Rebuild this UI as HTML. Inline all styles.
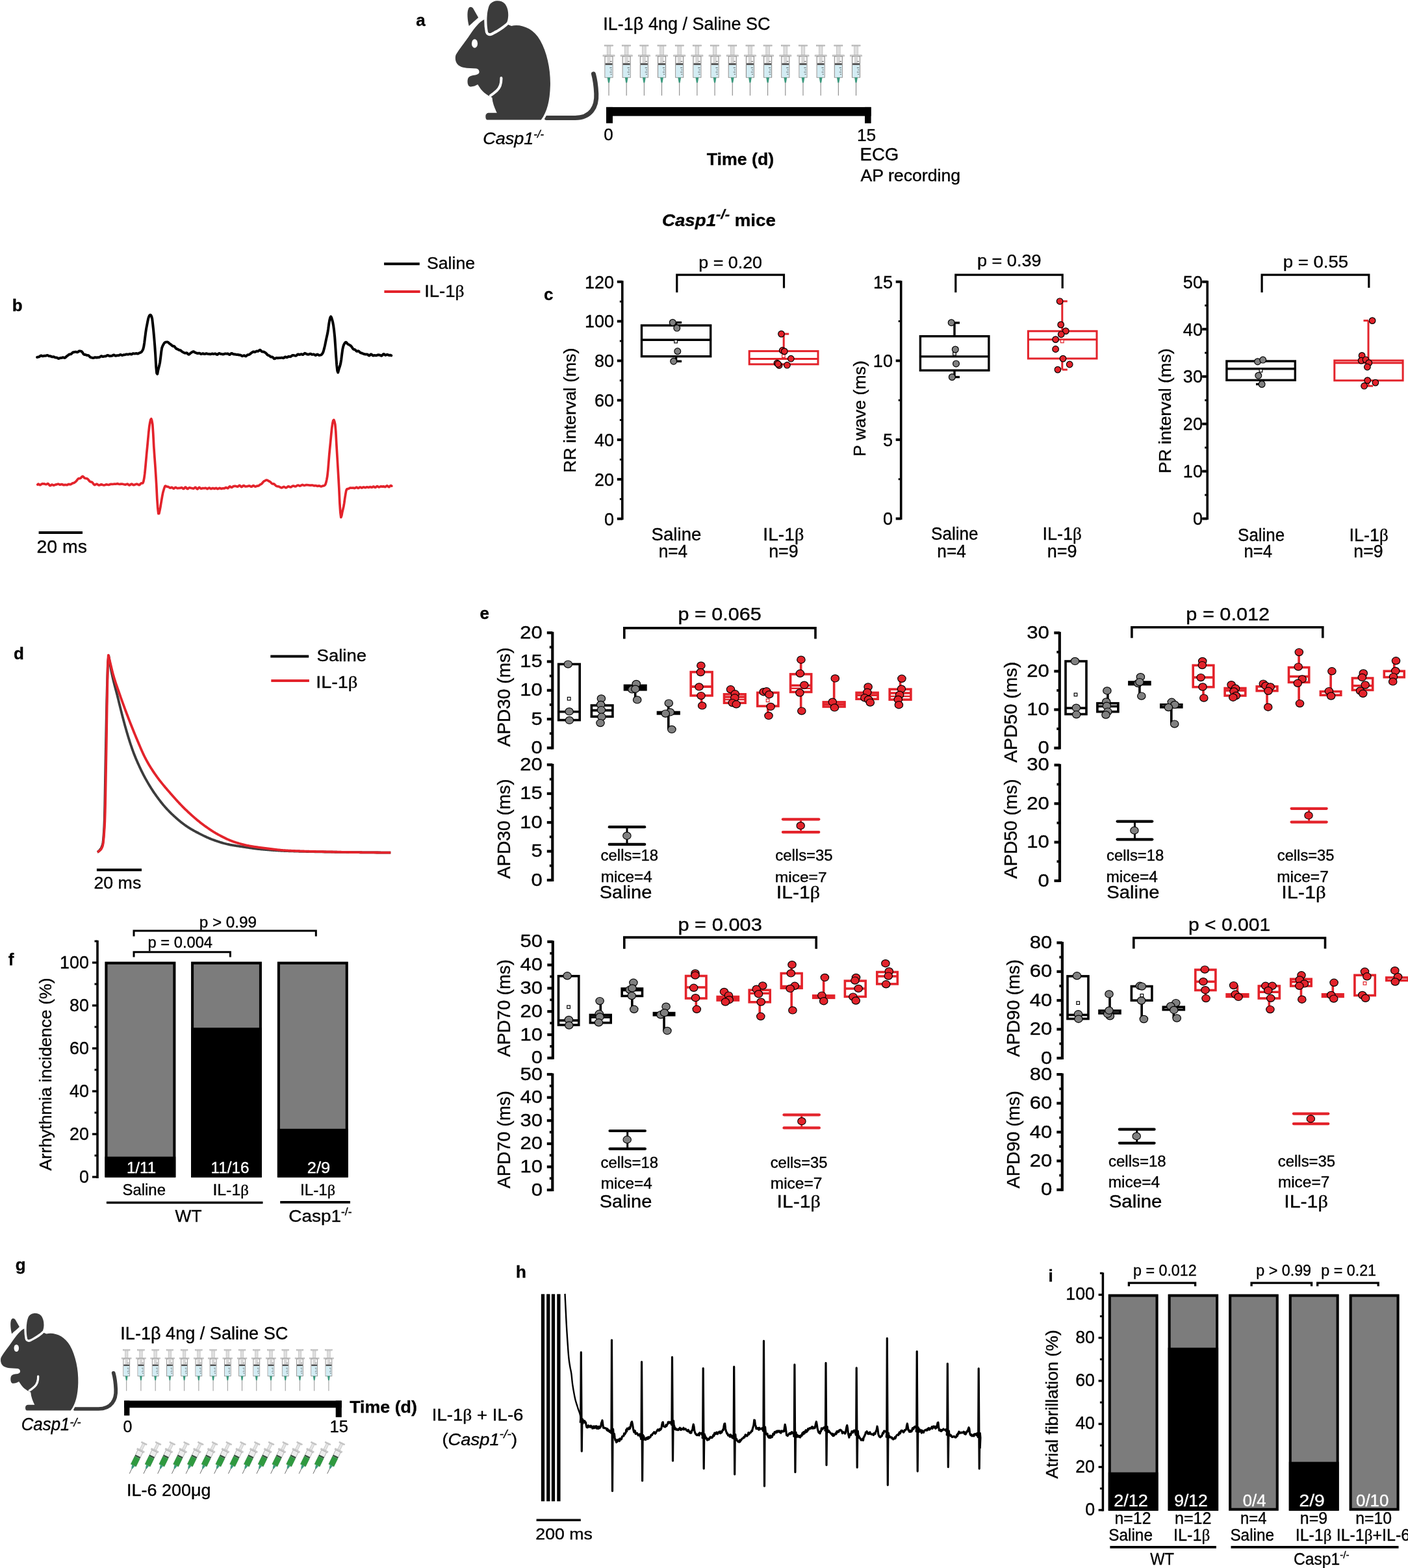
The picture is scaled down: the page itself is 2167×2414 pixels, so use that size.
<!DOCTYPE html>
<html><head><meta charset="utf-8"><title>Figure</title>
<style>html,body{margin:0;padding:0;background:#fff;} svg{display:block;}</style></head>
<body><svg width="2167" height="2414" viewBox="0 0 2167 2414">
<rect width="2167" height="2414" fill="#fff"/>
<text transform="translate(640.34,40.10)" font-family='"Liberation Sans", Arial, Helvetica, sans-serif' font-size="26.00" font-weight="bold" font-style="normal" fill="#000" stroke="#000" stroke-width="0.35"><tspan font-size="26.00">a</tspan></text>
<g transform="translate(699.60,-13.20) scale(0.13451)"><path d="M1052,1447 L1380,1447 C1560,1447 1630,1320 1622,1170 C1618,1080 1605,1000 1590,945" fill="none" stroke="#3b3b3b" stroke-width="52" stroke-linecap="round"/><path d="M12,735 C30,690 120,580 180,490 C230,420 280,350 340,322 L420,300 L650,395 C760,370 900,420 980,560 C1060,700 1100,900 1095,1080 C1090,1250 1060,1380 990,1470 L380,1470 C360,1470 355,1450 355,1430 C355,1405 370,1390 395,1390 L485,1390 C460,1340 435,1280 430,1215 C400,1200 370,1185 340,1160 C310,1135 290,1105 265,1065 C240,1080 210,1092 180,1090 C150,1085 145,1040 150,1010 C155,975 185,962 225,958 C255,955 280,945 282,925 C284,905 275,888 250,882 L140,876 C80,870 30,850 15,800 C8,780 8,755 12,735 Z" fill="#3b3b3b" stroke="#fff" stroke-width="50" paint-order="stroke"/><path d="M382,462 C366,380 362,240 398,160 C428,100 525,88 575,140 C622,195 622,300 600,350 C565,392 470,448 420,474 C400,483 386,476 382,462 Z" fill="#3b3b3b" stroke="#fff" stroke-width="62" paint-order="stroke"/><path d="M165,395 C148,330 140,240 158,198 C172,170 200,175 215,198 L272,298 C240,330 195,365 165,395 Z" fill="#3b3b3b" stroke="#fff" stroke-width="58" paint-order="stroke"/><path d="M534,990 C536,1045 522,1100 484,1135 C462,1155 442,1172 412,1192" fill="none" stroke="#fff" stroke-width="30" stroke-linecap="round"/><ellipse cx="230" cy="596" rx="34" ry="50" fill="#fff"/></g>
<text transform="translate(743.21,221.80) scale(1.0398,1)" font-family='"Liberation Sans", Arial, Helvetica, sans-serif' font-size="26.00" font-weight="normal" font-style="italic" fill="#000" stroke="#000" stroke-width="0.35"><tspan font-size="26.00">Casp1</tspan><tspan font-size="16.12" dy="-10.00">-/-</tspan></text>
<text transform="translate(928.31,46.20) scale(0.9718,1)" font-family='"Liberation Sans", Arial, Helvetica, sans-serif' font-size="27.80" font-weight="normal" font-style="normal" fill="#000" stroke="#000" stroke-width="0.35"><tspan font-size="27.80">IL-1β 4ng / Saline SC</tspan></text>
<g transform="translate(937.00,69.2)"><rect x="-6.5" y="0" width="13" height="1.8" fill="#d2d2d2" stroke="#a0a0a0" stroke-width="0.6"/><rect x="-2.8" y="1.8" width="5.6" height="14" fill="#dedede" stroke="#ababab" stroke-width="0.6"/><rect x="-9" y="15.6" width="18" height="2" fill="#d6d6d6" stroke="#a0a0a0" stroke-width="0.6"/><rect x="-6" y="17.6" width="12" height="32.4" fill="#f6f6f6" stroke="#8e8e8e" stroke-width="1.1"/><rect x="-2.6" y="17.6" width="5.2" height="10.5" fill="#d6d6d6"/><rect x="-5.4" y="28.1" width="10.8" height="3.0" fill="#505050"/><rect x="-5.4" y="31.1" width="10.8" height="18.4" fill="#d3ecf3"/><path d="M2,25.3 H4.6 M1.4,35.2 H4.6 M2.6,38.5 H4.6 M1.4,41.8 H4.6 M2.6,45.1 H4.6" stroke="#555" stroke-width="0.9"/><path d="M-2.4,50 L2.4,50 L1.0,58.2 L-1.0,58.2 Z" fill="#3b9a7e"/><line x1="0" y1="58.2" x2="0" y2="78" stroke="#6e6e6e" stroke-width="0.9"/></g>
<g transform="translate(964.18,69.2)"><rect x="-6.5" y="0" width="13" height="1.8" fill="#d2d2d2" stroke="#a0a0a0" stroke-width="0.6"/><rect x="-2.8" y="1.8" width="5.6" height="14" fill="#dedede" stroke="#ababab" stroke-width="0.6"/><rect x="-9" y="15.6" width="18" height="2" fill="#d6d6d6" stroke="#a0a0a0" stroke-width="0.6"/><rect x="-6" y="17.6" width="12" height="32.4" fill="#f6f6f6" stroke="#8e8e8e" stroke-width="1.1"/><rect x="-2.6" y="17.6" width="5.2" height="10.5" fill="#d6d6d6"/><rect x="-5.4" y="28.1" width="10.8" height="3.0" fill="#505050"/><rect x="-5.4" y="31.1" width="10.8" height="18.4" fill="#d3ecf3"/><path d="M2,25.3 H4.6 M1.4,35.2 H4.6 M2.6,38.5 H4.6 M1.4,41.8 H4.6 M2.6,45.1 H4.6" stroke="#555" stroke-width="0.9"/><path d="M-2.4,50 L2.4,50 L1.0,58.2 L-1.0,58.2 Z" fill="#3b9a7e"/><line x1="0" y1="58.2" x2="0" y2="78" stroke="#6e6e6e" stroke-width="0.9"/></g>
<g transform="translate(991.36,69.2)"><rect x="-6.5" y="0" width="13" height="1.8" fill="#d2d2d2" stroke="#a0a0a0" stroke-width="0.6"/><rect x="-2.8" y="1.8" width="5.6" height="14" fill="#dedede" stroke="#ababab" stroke-width="0.6"/><rect x="-9" y="15.6" width="18" height="2" fill="#d6d6d6" stroke="#a0a0a0" stroke-width="0.6"/><rect x="-6" y="17.6" width="12" height="32.4" fill="#f6f6f6" stroke="#8e8e8e" stroke-width="1.1"/><rect x="-2.6" y="17.6" width="5.2" height="10.5" fill="#d6d6d6"/><rect x="-5.4" y="28.1" width="10.8" height="3.0" fill="#505050"/><rect x="-5.4" y="31.1" width="10.8" height="18.4" fill="#d3ecf3"/><path d="M2,25.3 H4.6 M1.4,35.2 H4.6 M2.6,38.5 H4.6 M1.4,41.8 H4.6 M2.6,45.1 H4.6" stroke="#555" stroke-width="0.9"/><path d="M-2.4,50 L2.4,50 L1.0,58.2 L-1.0,58.2 Z" fill="#3b9a7e"/><line x1="0" y1="58.2" x2="0" y2="78" stroke="#6e6e6e" stroke-width="0.9"/></g>
<g transform="translate(1018.54,69.2)"><rect x="-6.5" y="0" width="13" height="1.8" fill="#d2d2d2" stroke="#a0a0a0" stroke-width="0.6"/><rect x="-2.8" y="1.8" width="5.6" height="14" fill="#dedede" stroke="#ababab" stroke-width="0.6"/><rect x="-9" y="15.6" width="18" height="2" fill="#d6d6d6" stroke="#a0a0a0" stroke-width="0.6"/><rect x="-6" y="17.6" width="12" height="32.4" fill="#f6f6f6" stroke="#8e8e8e" stroke-width="1.1"/><rect x="-2.6" y="17.6" width="5.2" height="10.5" fill="#d6d6d6"/><rect x="-5.4" y="28.1" width="10.8" height="3.0" fill="#505050"/><rect x="-5.4" y="31.1" width="10.8" height="18.4" fill="#d3ecf3"/><path d="M2,25.3 H4.6 M1.4,35.2 H4.6 M2.6,38.5 H4.6 M1.4,41.8 H4.6 M2.6,45.1 H4.6" stroke="#555" stroke-width="0.9"/><path d="M-2.4,50 L2.4,50 L1.0,58.2 L-1.0,58.2 Z" fill="#3b9a7e"/><line x1="0" y1="58.2" x2="0" y2="78" stroke="#6e6e6e" stroke-width="0.9"/></g>
<g transform="translate(1045.72,69.2)"><rect x="-6.5" y="0" width="13" height="1.8" fill="#d2d2d2" stroke="#a0a0a0" stroke-width="0.6"/><rect x="-2.8" y="1.8" width="5.6" height="14" fill="#dedede" stroke="#ababab" stroke-width="0.6"/><rect x="-9" y="15.6" width="18" height="2" fill="#d6d6d6" stroke="#a0a0a0" stroke-width="0.6"/><rect x="-6" y="17.6" width="12" height="32.4" fill="#f6f6f6" stroke="#8e8e8e" stroke-width="1.1"/><rect x="-2.6" y="17.6" width="5.2" height="10.5" fill="#d6d6d6"/><rect x="-5.4" y="28.1" width="10.8" height="3.0" fill="#505050"/><rect x="-5.4" y="31.1" width="10.8" height="18.4" fill="#d3ecf3"/><path d="M2,25.3 H4.6 M1.4,35.2 H4.6 M2.6,38.5 H4.6 M1.4,41.8 H4.6 M2.6,45.1 H4.6" stroke="#555" stroke-width="0.9"/><path d="M-2.4,50 L2.4,50 L1.0,58.2 L-1.0,58.2 Z" fill="#3b9a7e"/><line x1="0" y1="58.2" x2="0" y2="78" stroke="#6e6e6e" stroke-width="0.9"/></g>
<g transform="translate(1072.90,69.2)"><rect x="-6.5" y="0" width="13" height="1.8" fill="#d2d2d2" stroke="#a0a0a0" stroke-width="0.6"/><rect x="-2.8" y="1.8" width="5.6" height="14" fill="#dedede" stroke="#ababab" stroke-width="0.6"/><rect x="-9" y="15.6" width="18" height="2" fill="#d6d6d6" stroke="#a0a0a0" stroke-width="0.6"/><rect x="-6" y="17.6" width="12" height="32.4" fill="#f6f6f6" stroke="#8e8e8e" stroke-width="1.1"/><rect x="-2.6" y="17.6" width="5.2" height="10.5" fill="#d6d6d6"/><rect x="-5.4" y="28.1" width="10.8" height="3.0" fill="#505050"/><rect x="-5.4" y="31.1" width="10.8" height="18.4" fill="#d3ecf3"/><path d="M2,25.3 H4.6 M1.4,35.2 H4.6 M2.6,38.5 H4.6 M1.4,41.8 H4.6 M2.6,45.1 H4.6" stroke="#555" stroke-width="0.9"/><path d="M-2.4,50 L2.4,50 L1.0,58.2 L-1.0,58.2 Z" fill="#3b9a7e"/><line x1="0" y1="58.2" x2="0" y2="78" stroke="#6e6e6e" stroke-width="0.9"/></g>
<g transform="translate(1100.08,69.2)"><rect x="-6.5" y="0" width="13" height="1.8" fill="#d2d2d2" stroke="#a0a0a0" stroke-width="0.6"/><rect x="-2.8" y="1.8" width="5.6" height="14" fill="#dedede" stroke="#ababab" stroke-width="0.6"/><rect x="-9" y="15.6" width="18" height="2" fill="#d6d6d6" stroke="#a0a0a0" stroke-width="0.6"/><rect x="-6" y="17.6" width="12" height="32.4" fill="#f6f6f6" stroke="#8e8e8e" stroke-width="1.1"/><rect x="-2.6" y="17.6" width="5.2" height="10.5" fill="#d6d6d6"/><rect x="-5.4" y="28.1" width="10.8" height="3.0" fill="#505050"/><rect x="-5.4" y="31.1" width="10.8" height="18.4" fill="#d3ecf3"/><path d="M2,25.3 H4.6 M1.4,35.2 H4.6 M2.6,38.5 H4.6 M1.4,41.8 H4.6 M2.6,45.1 H4.6" stroke="#555" stroke-width="0.9"/><path d="M-2.4,50 L2.4,50 L1.0,58.2 L-1.0,58.2 Z" fill="#3b9a7e"/><line x1="0" y1="58.2" x2="0" y2="78" stroke="#6e6e6e" stroke-width="0.9"/></g>
<g transform="translate(1127.26,69.2)"><rect x="-6.5" y="0" width="13" height="1.8" fill="#d2d2d2" stroke="#a0a0a0" stroke-width="0.6"/><rect x="-2.8" y="1.8" width="5.6" height="14" fill="#dedede" stroke="#ababab" stroke-width="0.6"/><rect x="-9" y="15.6" width="18" height="2" fill="#d6d6d6" stroke="#a0a0a0" stroke-width="0.6"/><rect x="-6" y="17.6" width="12" height="32.4" fill="#f6f6f6" stroke="#8e8e8e" stroke-width="1.1"/><rect x="-2.6" y="17.6" width="5.2" height="10.5" fill="#d6d6d6"/><rect x="-5.4" y="28.1" width="10.8" height="3.0" fill="#505050"/><rect x="-5.4" y="31.1" width="10.8" height="18.4" fill="#d3ecf3"/><path d="M2,25.3 H4.6 M1.4,35.2 H4.6 M2.6,38.5 H4.6 M1.4,41.8 H4.6 M2.6,45.1 H4.6" stroke="#555" stroke-width="0.9"/><path d="M-2.4,50 L2.4,50 L1.0,58.2 L-1.0,58.2 Z" fill="#3b9a7e"/><line x1="0" y1="58.2" x2="0" y2="78" stroke="#6e6e6e" stroke-width="0.9"/></g>
<g transform="translate(1154.44,69.2)"><rect x="-6.5" y="0" width="13" height="1.8" fill="#d2d2d2" stroke="#a0a0a0" stroke-width="0.6"/><rect x="-2.8" y="1.8" width="5.6" height="14" fill="#dedede" stroke="#ababab" stroke-width="0.6"/><rect x="-9" y="15.6" width="18" height="2" fill="#d6d6d6" stroke="#a0a0a0" stroke-width="0.6"/><rect x="-6" y="17.6" width="12" height="32.4" fill="#f6f6f6" stroke="#8e8e8e" stroke-width="1.1"/><rect x="-2.6" y="17.6" width="5.2" height="10.5" fill="#d6d6d6"/><rect x="-5.4" y="28.1" width="10.8" height="3.0" fill="#505050"/><rect x="-5.4" y="31.1" width="10.8" height="18.4" fill="#d3ecf3"/><path d="M2,25.3 H4.6 M1.4,35.2 H4.6 M2.6,38.5 H4.6 M1.4,41.8 H4.6 M2.6,45.1 H4.6" stroke="#555" stroke-width="0.9"/><path d="M-2.4,50 L2.4,50 L1.0,58.2 L-1.0,58.2 Z" fill="#3b9a7e"/><line x1="0" y1="58.2" x2="0" y2="78" stroke="#6e6e6e" stroke-width="0.9"/></g>
<g transform="translate(1181.62,69.2)"><rect x="-6.5" y="0" width="13" height="1.8" fill="#d2d2d2" stroke="#a0a0a0" stroke-width="0.6"/><rect x="-2.8" y="1.8" width="5.6" height="14" fill="#dedede" stroke="#ababab" stroke-width="0.6"/><rect x="-9" y="15.6" width="18" height="2" fill="#d6d6d6" stroke="#a0a0a0" stroke-width="0.6"/><rect x="-6" y="17.6" width="12" height="32.4" fill="#f6f6f6" stroke="#8e8e8e" stroke-width="1.1"/><rect x="-2.6" y="17.6" width="5.2" height="10.5" fill="#d6d6d6"/><rect x="-5.4" y="28.1" width="10.8" height="3.0" fill="#505050"/><rect x="-5.4" y="31.1" width="10.8" height="18.4" fill="#d3ecf3"/><path d="M2,25.3 H4.6 M1.4,35.2 H4.6 M2.6,38.5 H4.6 M1.4,41.8 H4.6 M2.6,45.1 H4.6" stroke="#555" stroke-width="0.9"/><path d="M-2.4,50 L2.4,50 L1.0,58.2 L-1.0,58.2 Z" fill="#3b9a7e"/><line x1="0" y1="58.2" x2="0" y2="78" stroke="#6e6e6e" stroke-width="0.9"/></g>
<g transform="translate(1208.80,69.2)"><rect x="-6.5" y="0" width="13" height="1.8" fill="#d2d2d2" stroke="#a0a0a0" stroke-width="0.6"/><rect x="-2.8" y="1.8" width="5.6" height="14" fill="#dedede" stroke="#ababab" stroke-width="0.6"/><rect x="-9" y="15.6" width="18" height="2" fill="#d6d6d6" stroke="#a0a0a0" stroke-width="0.6"/><rect x="-6" y="17.6" width="12" height="32.4" fill="#f6f6f6" stroke="#8e8e8e" stroke-width="1.1"/><rect x="-2.6" y="17.6" width="5.2" height="10.5" fill="#d6d6d6"/><rect x="-5.4" y="28.1" width="10.8" height="3.0" fill="#505050"/><rect x="-5.4" y="31.1" width="10.8" height="18.4" fill="#d3ecf3"/><path d="M2,25.3 H4.6 M1.4,35.2 H4.6 M2.6,38.5 H4.6 M1.4,41.8 H4.6 M2.6,45.1 H4.6" stroke="#555" stroke-width="0.9"/><path d="M-2.4,50 L2.4,50 L1.0,58.2 L-1.0,58.2 Z" fill="#3b9a7e"/><line x1="0" y1="58.2" x2="0" y2="78" stroke="#6e6e6e" stroke-width="0.9"/></g>
<g transform="translate(1235.98,69.2)"><rect x="-6.5" y="0" width="13" height="1.8" fill="#d2d2d2" stroke="#a0a0a0" stroke-width="0.6"/><rect x="-2.8" y="1.8" width="5.6" height="14" fill="#dedede" stroke="#ababab" stroke-width="0.6"/><rect x="-9" y="15.6" width="18" height="2" fill="#d6d6d6" stroke="#a0a0a0" stroke-width="0.6"/><rect x="-6" y="17.6" width="12" height="32.4" fill="#f6f6f6" stroke="#8e8e8e" stroke-width="1.1"/><rect x="-2.6" y="17.6" width="5.2" height="10.5" fill="#d6d6d6"/><rect x="-5.4" y="28.1" width="10.8" height="3.0" fill="#505050"/><rect x="-5.4" y="31.1" width="10.8" height="18.4" fill="#d3ecf3"/><path d="M2,25.3 H4.6 M1.4,35.2 H4.6 M2.6,38.5 H4.6 M1.4,41.8 H4.6 M2.6,45.1 H4.6" stroke="#555" stroke-width="0.9"/><path d="M-2.4,50 L2.4,50 L1.0,58.2 L-1.0,58.2 Z" fill="#3b9a7e"/><line x1="0" y1="58.2" x2="0" y2="78" stroke="#6e6e6e" stroke-width="0.9"/></g>
<g transform="translate(1263.16,69.2)"><rect x="-6.5" y="0" width="13" height="1.8" fill="#d2d2d2" stroke="#a0a0a0" stroke-width="0.6"/><rect x="-2.8" y="1.8" width="5.6" height="14" fill="#dedede" stroke="#ababab" stroke-width="0.6"/><rect x="-9" y="15.6" width="18" height="2" fill="#d6d6d6" stroke="#a0a0a0" stroke-width="0.6"/><rect x="-6" y="17.6" width="12" height="32.4" fill="#f6f6f6" stroke="#8e8e8e" stroke-width="1.1"/><rect x="-2.6" y="17.6" width="5.2" height="10.5" fill="#d6d6d6"/><rect x="-5.4" y="28.1" width="10.8" height="3.0" fill="#505050"/><rect x="-5.4" y="31.1" width="10.8" height="18.4" fill="#d3ecf3"/><path d="M2,25.3 H4.6 M1.4,35.2 H4.6 M2.6,38.5 H4.6 M1.4,41.8 H4.6 M2.6,45.1 H4.6" stroke="#555" stroke-width="0.9"/><path d="M-2.4,50 L2.4,50 L1.0,58.2 L-1.0,58.2 Z" fill="#3b9a7e"/><line x1="0" y1="58.2" x2="0" y2="78" stroke="#6e6e6e" stroke-width="0.9"/></g>
<g transform="translate(1290.34,69.2)"><rect x="-6.5" y="0" width="13" height="1.8" fill="#d2d2d2" stroke="#a0a0a0" stroke-width="0.6"/><rect x="-2.8" y="1.8" width="5.6" height="14" fill="#dedede" stroke="#ababab" stroke-width="0.6"/><rect x="-9" y="15.6" width="18" height="2" fill="#d6d6d6" stroke="#a0a0a0" stroke-width="0.6"/><rect x="-6" y="17.6" width="12" height="32.4" fill="#f6f6f6" stroke="#8e8e8e" stroke-width="1.1"/><rect x="-2.6" y="17.6" width="5.2" height="10.5" fill="#d6d6d6"/><rect x="-5.4" y="28.1" width="10.8" height="3.0" fill="#505050"/><rect x="-5.4" y="31.1" width="10.8" height="18.4" fill="#d3ecf3"/><path d="M2,25.3 H4.6 M1.4,35.2 H4.6 M2.6,38.5 H4.6 M1.4,41.8 H4.6 M2.6,45.1 H4.6" stroke="#555" stroke-width="0.9"/><path d="M-2.4,50 L2.4,50 L1.0,58.2 L-1.0,58.2 Z" fill="#3b9a7e"/><line x1="0" y1="58.2" x2="0" y2="78" stroke="#6e6e6e" stroke-width="0.9"/></g>
<g transform="translate(1317.52,69.2)"><rect x="-6.5" y="0" width="13" height="1.8" fill="#d2d2d2" stroke="#a0a0a0" stroke-width="0.6"/><rect x="-2.8" y="1.8" width="5.6" height="14" fill="#dedede" stroke="#ababab" stroke-width="0.6"/><rect x="-9" y="15.6" width="18" height="2" fill="#d6d6d6" stroke="#a0a0a0" stroke-width="0.6"/><rect x="-6" y="17.6" width="12" height="32.4" fill="#f6f6f6" stroke="#8e8e8e" stroke-width="1.1"/><rect x="-2.6" y="17.6" width="5.2" height="10.5" fill="#d6d6d6"/><rect x="-5.4" y="28.1" width="10.8" height="3.0" fill="#505050"/><rect x="-5.4" y="31.1" width="10.8" height="18.4" fill="#d3ecf3"/><path d="M2,25.3 H4.6 M1.4,35.2 H4.6 M2.6,38.5 H4.6 M1.4,41.8 H4.6 M2.6,45.1 H4.6" stroke="#555" stroke-width="0.9"/><path d="M-2.4,50 L2.4,50 L1.0,58.2 L-1.0,58.2 Z" fill="#3b9a7e"/><line x1="0" y1="58.2" x2="0" y2="78" stroke="#6e6e6e" stroke-width="0.9"/></g>
<rect x="933.00" y="164.90" width="407.60" height="13.70" fill="#000"/>
<rect x="933.00" y="164.90" width="10.00" height="24.80" fill="#000"/>
<rect x="1331.00" y="164.90" width="9.60" height="24.90" fill="#000"/>
<text transform="translate(929.18,216.30)" font-family='"Liberation Sans", Arial, Helvetica, sans-serif' font-size="26.00" font-weight="normal" font-style="normal" fill="#000" stroke="#000" stroke-width="0.35"><tspan font-size="26.00">0</tspan></text>
<text transform="translate(1318.89,216.50) scale(1.0136,1)" font-family='"Liberation Sans", Arial, Helvetica, sans-serif' font-size="26.00" font-weight="normal" font-style="normal" fill="#000" stroke="#000" stroke-width="0.35"><tspan font-size="26.00">15</tspan></text>
<text transform="translate(1323.54,247.20) scale(1.0207,1)" font-family='"Liberation Sans", Arial, Helvetica, sans-serif' font-size="27.00" font-weight="normal" font-style="normal" fill="#000" stroke="#000" stroke-width="0.35"><tspan font-size="27.00">ECG</tspan></text>
<text transform="translate(1324.45,279.00) scale(1.0264,1)" font-family='"Liberation Sans", Arial, Helvetica, sans-serif' font-size="26.00" font-weight="normal" font-style="normal" fill="#000" stroke="#000" stroke-width="0.35"><tspan font-size="26.00">AP recording</tspan></text>
<text transform="translate(1087.70,253.60) scale(1.0279,1)" font-family='"Liberation Sans", Arial, Helvetica, sans-serif' font-size="26.00" font-weight="bold" font-style="normal" fill="#000" stroke="#000" stroke-width="0.35"><tspan font-size="26.00">Time (d)</tspan></text>
<text transform="translate(1018.95,347.60) scale(1.0661,1)" font-family='"Liberation Sans", Arial, Helvetica, sans-serif' font-size="26.00" font-weight="bold" font-style="normal" fill="#000" stroke="#000" stroke-width="0.35"><tspan font-size="26.00" font-style="italic">Casp1</tspan><tspan font-size="20.80" font-style="italic" dy="-11.00">-/-</tspan><tspan font-size="26.00" dy="11.00"> mice</tspan></text>
<text transform="translate(18.69,478.80)" font-family='"Liberation Sans", Arial, Helvetica, sans-serif' font-size="26.00" font-weight="bold" font-style="normal" fill="#000" stroke="#000" stroke-width="0.35"><tspan font-size="26.00">b</tspan></text>
<line x1="591.10" y1="406.30" x2="645.80" y2="406.30" stroke="#000" stroke-width="4" stroke-linecap="butt"/>
<line x1="591.40" y1="449.10" x2="646.60" y2="449.10" stroke="#e3232b" stroke-width="4" stroke-linecap="butt"/>
<text transform="translate(656.99,414.20) scale(1.0252,1)" font-family='"Liberation Sans", Arial, Helvetica, sans-serif' font-size="26.00" font-weight="normal" font-style="normal" fill="#000" stroke="#000" stroke-width="0.35"><tspan font-size="26.00">Saline</tspan></text>
<text transform="translate(653.16,457.00) scale(1.0582,1)" font-family='"Liberation Sans", Arial, Helvetica, sans-serif' font-size="26.00" font-weight="normal" font-style="normal" fill="#000" stroke="#000" stroke-width="0.35"><tspan font-size="26.00">IL-1</tspan><tspan font-size="26.00" font-family='"Liberation Serif", "Times New Roman", serif'>β</tspan></text>
<path d="M57.20,549.99 L58.20,549.64 L59.20,549.46 L60.20,549.21 L61.20,548.57 L62.20,547.78 L63.20,547.44 L64.20,547.76 L65.20,548.26 L66.20,548.32 L67.20,547.98 L68.20,547.74 L69.20,547.81 L70.20,547.84 L71.20,547.51 L72.20,547.05 L73.20,547.05 L74.20,547.57 L75.20,548.13 L76.20,548.29 L77.20,548.27 L78.20,548.51 L79.20,549.05 L80.20,549.42 L81.20,549.37 L82.20,549.25 L83.20,549.50 L84.20,550.04 L85.20,550.40 L86.20,550.41 L87.20,550.47 L88.20,550.97 L89.20,551.68 L90.20,551.99 L91.20,551.68 L92.20,551.19 L93.20,551.01 L94.20,551.05 L95.20,550.88 L96.20,550.48 L97.20,550.28 L98.20,550.56 L99.20,550.91 L100.20,550.74 L101.20,549.88 L102.20,548.84 L103.20,548.06 L104.20,547.43 L105.20,546.66 L106.20,545.84 L107.20,545.39 L108.20,545.34 L109.20,545.17 L110.20,544.42 L111.20,543.34 L112.20,542.54 L113.20,542.26 L114.20,542.18 L115.20,541.92 L116.20,541.65 L117.20,541.76 L118.20,542.17 L119.20,542.28 L120.20,541.73 L121.20,540.88 L122.20,540.40 L123.20,540.44 L124.20,540.62 L125.20,540.88 L126.20,541.64 L127.20,543.00 L128.20,544.59 L129.20,545.73 L130.20,546.08 L131.20,546.04 L132.20,546.33 L133.20,546.84 L134.20,547.10 L135.20,547.05 L136.20,547.18 L137.20,548.01 L138.20,549.20 L139.20,550.06 L140.20,550.39 L141.20,550.57 L142.20,550.84 L143.20,551.10 L144.20,550.99 L145.20,550.51 L146.20,550.16 L147.20,550.26 L148.20,550.53 L149.20,550.54 L150.20,550.29 L151.20,550.14 L152.20,550.16 L153.20,549.96 L154.20,549.28 L155.20,548.51 L156.20,548.25 L157.20,548.62 L158.20,549.03 L159.20,548.99 L160.20,548.63 L161.20,548.44 L162.20,548.47 L163.20,548.29 L164.20,547.67 L165.20,547.02 L166.20,546.95 L167.20,547.48 L168.20,548.04 L169.20,548.18 L170.20,548.03 L171.20,547.91 L172.20,547.78 L173.20,547.37 L174.20,546.76 L175.20,546.48 L176.20,546.85 L177.20,547.52 L178.20,547.80 L179.20,547.54 L180.20,547.20 L181.20,547.19 L182.20,547.27 L183.20,546.99 L184.20,546.37 L185.20,546.01 L186.20,546.27 L187.20,546.79 L188.20,546.97 L189.20,546.67 L190.20,546.31 L191.20,546.21 L192.20,546.16 L193.20,545.87 L194.20,545.48 L195.20,545.38 L196.20,545.61 L197.20,545.71 L198.20,545.40 L199.20,544.98 L200.20,544.98 L201.20,545.38 L202.20,545.59 L203.20,545.19 L204.20,544.51 L205.20,544.20 L206.20,544.39 L207.20,544.58 L208.20,544.40 L209.20,544.10 L210.20,544.12 L211.20,544.44 L212.20,544.54 L213.20,544.13 L214.20,543.50 L215.20,543.05 L216.20,542.75 L217.20,542.27 L218.20,541.33 L219.20,539.68 L220.20,537.80 L221.20,534.03 L222.20,527.74 L223.20,519.84 L224.20,511.91 L225.20,505.40 L226.20,500.31 L227.20,495.10 L228.20,490.39 L229.20,487.39 L230.20,485.59 L231.20,484.80 L232.20,485.33 L233.20,486.95 L234.20,490.76 L235.20,499.33 L236.20,508.82 L237.20,519.63 L238.20,531.83 L239.20,546.49 L240.20,564.33 L241.20,574.50 L242.20,575.79 L243.20,570.53 L244.20,566.42 L245.20,562.61 L246.20,557.83 L247.20,550.19 L248.20,541.69 L249.20,535.50 L250.20,532.91 L251.20,530.95 L252.20,529.11 L253.20,527.76 L254.20,527.01 L255.20,526.74 L256.20,526.63 L257.20,526.50 L258.20,526.69 L259.20,527.40 L260.20,528.40 L261.20,529.22 L262.20,529.81 L263.20,530.53 L264.20,531.52 L265.20,532.48 L266.20,532.88 L267.20,532.87 L268.20,533.18 L269.20,534.26 L270.20,535.72 L271.20,536.79 L272.20,537.25 L273.20,537.54 L274.20,538.07 L275.20,538.68 L276.20,539.04 L277.20,539.20 L278.20,539.61 L279.20,540.45 L280.20,541.38 L281.20,542.01 L282.20,542.43 L283.20,542.95 L284.20,543.48 L285.20,543.64 L286.20,543.36 L287.20,543.20 L288.20,543.78 L289.20,544.92 L290.20,545.75 L291.20,545.56 L292.20,544.59 L293.20,543.64 L294.20,543.01 L295.20,542.41 L296.20,541.67 L297.20,541.15 L298.20,541.30 L299.20,541.98 L300.20,542.68 L301.20,543.09 L302.20,543.39 L303.20,543.76 L304.20,544.04 L305.20,543.95 L306.20,543.63 L307.20,543.68 L308.20,544.32 L309.20,545.01 L310.20,545.06 L311.20,544.54 L312.20,544.18 L313.20,544.45 L314.20,544.99 L315.20,545.11 L316.20,544.69 L317.20,544.29 L318.20,544.33 L319.20,544.67 L320.20,544.88 L321.20,544.89 L322.20,544.96 L323.20,545.17 L324.20,545.23 L325.20,544.94 L326.20,544.59 L327.20,544.60 L328.20,544.88 L329.20,544.94 L330.20,544.62 L331.20,544.39 L332.20,544.78 L333.20,545.59 L334.20,545.96 L335.20,545.44 L336.20,544.50 L337.20,544.00 L338.20,544.21 L339.20,544.69 L340.20,544.97 L341.20,545.09 L342.20,545.28 L343.20,545.47 L344.20,545.36 L345.20,544.91 L346.20,544.52 L347.20,544.49 L348.20,544.63 L349.20,544.60 L350.20,544.50 L351.20,544.79 L352.20,545.50 L353.20,546.00 L354.20,545.64 L355.20,544.64 L356.20,543.91 L357.20,544.07 L358.20,544.80 L359.20,545.33 L360.20,545.38 L361.20,545.35 L362.20,545.56 L363.20,545.88 L364.20,545.98 L365.20,545.90 L366.20,545.96 L367.20,546.25 L368.20,546.48 L369.20,546.53 L370.20,546.68 L371.20,547.24 L372.20,547.95 L373.20,548.18 L374.20,547.75 L375.20,547.25 L376.20,547.36 L377.20,548.00 L378.20,548.37 L379.20,547.88 L380.20,546.93 L381.20,546.30 L382.20,546.19 L383.20,546.10 L384.20,545.58 L385.20,544.72 L386.20,543.87 L387.20,543.12 L388.20,542.39 L389.20,541.80 L390.20,541.57 L391.20,541.79 L392.20,541.99 L393.20,541.69 L394.20,541.03 L395.20,540.61 L396.20,540.66 L397.20,540.69 L398.20,540.13 L399.20,539.23 L400.20,538.83 L401.20,539.40 L402.20,540.55 L403.20,541.40 L404.20,541.60 L405.20,541.58 L406.20,541.78 L407.20,542.27 L408.20,542.86 L409.20,543.61 L410.20,544.67 L411.20,545.84 L412.20,546.64 L413.20,547.02 L414.20,547.39 L415.20,548.14 L416.20,549.08 L417.20,549.61 L418.20,549.57 L419.20,549.59 L420.20,550.33 L421.20,551.57 L422.20,552.36 L423.20,552.16 L424.20,551.43 L425.20,550.94 L426.20,550.98 L427.20,551.18 L428.20,551.19 L429.20,551.06 L430.20,551.02 L431.20,551.01 L432.20,550.86 L433.20,550.65 L434.20,550.70 L435.20,551.03 L436.20,551.14 L437.20,550.62 L438.20,549.77 L439.20,549.38 L440.20,549.72 L441.20,550.18 L442.20,550.03 L443.20,549.31 L444.20,548.77 L445.20,548.87 L446.20,549.23 L447.20,549.13 L448.20,548.41 L449.20,547.57 L450.20,547.10 L451.20,547.01 L452.20,547.09 L453.20,547.29 L454.20,547.61 L455.20,547.76 L456.20,547.32 L457.20,546.36 L458.20,545.54 L459.20,545.44 L460.20,545.86 L461.20,546.04 L462.20,545.66 L463.20,545.23 L464.20,545.35 L465.20,545.90 L466.20,546.08 L467.20,545.42 L468.20,544.41 L469.20,543.87 L470.20,544.11 L471.20,544.73 L472.20,545.25 L473.20,545.56 L474.20,545.71 L475.20,545.59 L476.20,545.15 L477.20,544.70 L478.20,544.75 L479.20,545.33 L480.20,545.86 L481.20,545.82 L482.20,545.46 L483.20,545.52 L484.20,546.23 L485.20,546.93 L486.20,546.88 L487.20,546.16 L488.20,545.60 L489.20,545.80 L490.20,546.46 L491.20,546.90 L492.20,546.85 L493.20,546.63 L494.20,546.33 L495.20,545.56 L496.20,544.38 L497.20,542.54 L498.20,539.31 L499.20,535.64 L500.20,531.39 L501.20,526.47 L502.20,521.54 L503.20,517.11 L504.20,512.72 L505.20,506.29 L506.20,498.74 L507.20,492.99 L508.20,489.00 L509.20,487.40 L510.20,489.07 L511.20,492.39 L512.20,496.08 L513.20,501.56 L514.20,509.11 L515.20,518.99 L516.20,533.23 L517.20,548.04 L518.20,561.96 L519.20,570.80 L520.20,573.56 L521.20,569.68 L522.20,566.44 L523.20,563.51 L524.20,559.77 L525.20,553.80 L526.20,545.67 L527.20,538.17 L528.20,533.56 L529.20,530.68 L530.20,528.87 L531.20,527.50 L532.20,526.80 L533.20,527.33 L534.20,528.54 L535.20,529.65 L536.20,530.32 L537.20,530.80 L538.20,531.35 L539.20,531.99 L540.20,532.72 L541.20,533.87 L542.20,535.45 L543.20,536.95 L544.20,537.79 L545.20,537.98 L546.20,538.20 L547.20,539.04 L548.20,540.22 L549.20,540.88 L550.20,540.69 L551.20,540.31 L552.20,540.61 L553.20,541.66 L554.20,542.75 L555.20,543.31 L556.20,543.45 L557.20,543.69 L558.20,544.19 L559.20,544.71 L560.20,545.02 L561.20,545.22 L562.20,545.44 L563.20,545.54 L564.20,545.44 L565.20,545.46 L566.20,546.04 L567.20,546.98 L568.20,547.48 L569.20,546.96 L570.20,545.90 L571.20,545.39 L572.20,545.94 L573.20,546.95 L574.20,547.48 L575.20,547.33 L576.20,547.04 L577.20,547.09 L578.20,547.30 L579.20,547.26 L580.20,546.88 L581.20,546.49 L582.20,546.35 L583.20,546.38 L584.20,546.52 L585.20,546.90 L586.20,547.45 L587.20,547.70 L588.20,547.11 L589.20,545.92 L590.20,545.07 L591.20,545.31 L592.20,546.26 L593.20,546.90 L594.20,546.66 L595.20,546.04 L596.20,545.86 L597.20,546.30 L598.20,546.81 L599.20,546.90 L600.20,546.75 L601.20,546.83 L602.20,547.31" fill="none" stroke="#000" stroke-width="4.0" stroke-linejoin="round" stroke-linecap="round"/>
<path d="M57.80,746.04 L58.80,745.13 L59.80,745.42 L60.80,746.29 L61.80,746.68 L62.80,746.18 L63.80,745.31 L64.80,744.77 L65.80,744.72 L66.80,744.82 L67.80,744.89 L68.80,745.09 L69.80,745.47 L70.80,745.73 L71.80,745.49 L72.80,744.87 L73.80,744.63 L74.80,745.33 L75.80,746.64 L76.80,747.57 L77.80,747.47 L78.80,746.70 L79.80,746.17 L80.80,746.37 L81.80,746.92 L82.80,747.14 L83.80,746.83 L84.80,746.35 L85.80,746.07 L86.80,745.91 L87.80,745.62 L88.80,745.24 L89.80,745.15 L90.80,745.54 L91.80,746.05 L92.80,746.17 L93.80,745.84 L94.80,745.52 L95.80,745.70 L96.80,746.28 L97.80,746.71 L98.80,746.65 L99.80,746.35 L100.80,746.29 L101.80,746.53 L102.80,746.68 L103.80,746.37 L104.80,745.78 L105.80,745.42 L106.80,745.54 L107.80,745.83 L108.80,745.75 L109.80,745.17 L110.80,744.42 L111.80,743.91 L112.80,743.71 L113.80,743.47 L114.80,742.90 L115.80,742.12 L116.80,741.21 L117.80,740.14 L118.80,738.86 L119.80,737.61 L120.80,736.81 L121.80,736.54 L122.80,736.56 L123.80,736.29 L124.80,735.38 L125.80,734.18 L126.80,733.42 L127.80,733.61 L128.80,734.55 L129.80,735.61 L130.80,736.29 L131.80,736.51 L132.80,736.56 L133.80,736.77 L134.80,737.35 L135.80,738.31 L136.80,739.51 L137.80,740.72 L138.80,741.55 L139.80,741.88 L140.80,742.01 L141.80,742.45 L142.80,743.51 L143.80,744.95 L144.80,746.14 L145.80,746.53 L146.80,746.08 L147.80,745.42 L148.80,745.17 L149.80,745.53 L150.80,746.25 L151.80,746.84 L152.80,746.96 L153.80,746.63 L154.80,746.15 L155.80,745.87 L156.80,745.96 L157.80,746.35 L158.80,746.78 L159.80,747.00 L160.80,746.89 L161.80,746.51 L162.80,746.08 L163.80,745.87 L164.80,745.99 L165.80,746.30 L166.80,746.51 L167.80,746.39 L168.80,745.97 L169.80,745.53 L170.80,745.34 L171.80,745.41 L172.80,745.52 L173.80,745.47 L174.80,745.29 L175.80,745.16 L176.80,745.18 L177.80,745.21 L178.80,745.06 L179.80,744.80 L180.80,744.66 L181.80,744.85 L182.80,745.24 L183.80,745.50 L184.80,745.42 L185.80,745.16 L186.80,744.99 L187.80,745.05 L188.80,745.25 L189.80,745.46 L190.80,745.69 L191.80,745.96 L192.80,746.11 L193.80,745.93 L194.80,745.47 L195.80,745.14 L196.80,745.41 L197.80,746.20 L198.80,746.88 L199.80,746.80 L200.80,746.01 L201.80,745.22 L202.80,745.10 L203.80,745.68 L204.80,746.38 L205.80,746.65 L206.80,746.43 L207.80,746.00 L208.80,745.60 L209.80,745.30 L210.80,745.20 L211.80,745.47 L212.80,746.09 L213.80,746.59 L214.80,746.38 L215.80,745.42 L216.80,744.32 L217.80,743.77 L218.80,743.92 L219.80,743.91 L220.80,741.39 L221.80,736.43 L222.80,729.26 L223.80,719.23 L224.80,708.08 L225.80,697.04 L226.80,687.02 L227.80,676.17 L228.80,665.45 L229.80,656.48 L230.80,650.57 L231.80,646.14 L232.80,644.80 L233.80,647.72 L234.80,653.29 L235.80,668.33 L236.80,687.81 L237.80,702.36 L238.80,716.24 L239.80,731.16 L240.80,747.84 L241.80,768.06 L242.80,782.31 L243.80,790.70 L244.80,790.56 L245.80,786.11 L246.80,781.09 L247.80,775.01 L248.80,769.18 L249.80,763.40 L250.80,758.25 L251.80,754.67 L252.80,751.41 L253.80,748.81 L254.80,748.04 L255.80,748.64 L256.80,749.21 L257.80,749.33 L258.80,749.35 L259.80,749.82 L260.80,750.68 L261.80,751.24 L262.80,751.03 L263.80,750.45 L264.80,750.42 L265.80,751.20 L266.80,752.03 L267.80,752.03 L268.80,751.20 L269.80,750.43 L270.80,750.48 L271.80,751.18 L272.80,751.73 L273.80,751.73 L274.80,751.46 L275.80,751.36 L276.80,751.39 L277.80,751.19 L278.80,750.77 L279.80,750.70 L280.80,751.37 L281.80,752.31 L282.80,752.50 L283.80,751.57 L284.80,750.35 L285.80,750.05 L286.80,751.00 L287.80,752.24 L288.80,752.61 L289.80,751.92 L290.80,751.01 L291.80,750.70 L292.80,751.00 L293.80,751.35 L294.80,751.50 L295.80,751.67 L296.80,752.00 L297.80,752.12 L298.80,751.60 L299.80,750.71 L300.80,750.36 L301.80,751.10 L302.80,752.34 L303.80,752.88 L304.80,752.16 L305.80,750.94 L306.80,750.44 L307.80,751.04 L308.80,751.99 L309.80,752.34 L310.80,751.99 L311.80,751.58 L312.80,751.57 L313.80,751.73 L314.80,751.62 L315.80,751.32 L316.80,751.38 L317.80,751.98 L318.80,752.55 L319.80,752.39 L320.80,751.58 L321.80,750.99 L322.80,751.29 L323.80,752.13 L324.80,752.59 L325.80,752.22 L326.80,751.59 L327.80,751.49 L328.80,751.98 L329.80,752.36 L330.80,752.09 L331.80,751.54 L332.80,751.46 L333.80,752.04 L334.80,752.63 L335.80,752.52 L336.80,751.85 L337.80,751.37 L338.80,751.58 L339.80,752.13 L340.80,752.36 L341.80,752.09 L342.80,751.79 L343.80,751.84 L344.80,751.94 L345.80,751.62 L346.80,750.92 L347.80,750.52 L348.80,750.88 L349.80,751.59 L350.80,751.67 L351.80,750.73 L352.80,749.47 L353.80,748.93 L354.80,749.41 L355.80,750.18 L356.80,750.34 L357.80,749.74 L358.80,748.95 L359.80,748.52 L360.80,748.43 L361.80,748.40 L362.80,748.42 L363.80,748.69 L364.80,749.15 L365.80,749.28 L366.80,748.68 L367.80,747.73 L368.80,747.34 L369.80,748.00 L370.80,749.17 L371.80,749.74 L372.80,749.20 L373.80,748.12 L374.80,747.51 L375.80,747.80 L376.80,748.53 L377.80,749.00 L378.80,749.00 L379.80,748.78 L380.80,748.57 L381.80,748.35 L382.80,748.05 L383.80,747.93 L384.80,748.28 L385.80,748.96 L386.80,749.36 L387.80,749.00 L388.80,748.16 L389.80,747.62 L390.80,747.90 L391.80,748.68 L392.80,749.18 L393.80,749.00 L394.80,748.45 L395.80,748.14 L396.80,748.07 L397.80,747.88 L398.80,747.33 L399.80,746.53 L400.80,745.81 L401.80,745.29 L402.80,744.69 L403.80,743.62 L404.80,742.32 L405.80,741.24 L406.80,740.55 L407.80,740.07 L408.80,739.56 L409.80,739.12 L410.80,739.08 L411.80,739.51 L412.80,740.18 L413.80,740.75 L414.80,741.18 L415.80,741.77 L416.80,742.73 L417.80,743.85 L418.80,744.63 L419.80,744.87 L420.80,744.89 L421.80,745.16 L422.80,745.93 L423.80,746.99 L424.80,747.92 L425.80,748.49 L426.80,748.74 L427.80,748.86 L428.80,749.02 L429.80,749.32 L430.80,749.81 L431.80,750.42 L432.80,750.87 L433.80,750.88 L434.80,750.41 L435.80,749.75 L436.80,749.41 L437.80,749.67 L438.80,750.33 L439.80,750.81 L440.80,750.68 L441.80,749.97 L442.80,749.18 L443.80,748.83 L444.80,749.06 L445.80,749.61 L446.80,749.98 L447.80,749.85 L448.80,749.26 L449.80,748.55 L450.80,748.10 L451.80,748.11 L452.80,748.47 L453.80,748.85 L454.80,748.91 L455.80,748.52 L456.80,747.84 L457.80,747.25 L458.80,747.08 L459.80,747.40 L460.80,747.89 L461.80,748.10 L462.80,747.77 L463.80,747.08 L464.80,746.52 L465.80,746.47 L466.80,746.86 L467.80,747.28 L468.80,747.34 L469.80,747.05 L470.80,746.70 L471.80,746.54 L472.80,746.60 L473.80,746.74 L474.80,746.87 L475.80,747.01 L476.80,747.16 L477.80,747.21 L478.80,747.11 L479.80,746.97 L480.80,747.02 L481.80,747.34 L482.80,747.69 L483.80,747.80 L484.80,747.66 L485.80,747.57 L486.80,747.78 L487.80,748.16 L488.80,748.33 L489.80,748.14 L490.80,747.88 L491.80,747.97 L492.80,748.46 L493.80,748.90 L494.80,748.86 L495.80,748.42 L496.80,748.05 L497.80,747.95 L498.80,747.72 L499.80,747.07 L500.80,745.80 L501.80,742.93 L502.80,738.62 L503.80,733.14 L504.80,723.83 L505.80,711.71 L506.80,699.35 L507.80,688.99 L508.80,678.85 L509.80,668.21 L510.80,658.46 L511.80,651.69 L512.80,647.51 L513.80,646.36 L514.80,648.93 L515.80,653.32 L516.80,664.22 L517.80,683.07 L518.80,700.01 L519.80,716.50 L520.80,733.44 L521.80,751.41 L522.80,773.89 L523.80,788.88 L524.80,796.49 L525.80,793.92 L526.80,788.44 L527.80,784.24 L528.80,780.17 L529.80,774.30 L530.80,767.11 L531.80,760.71 L532.80,755.24 L533.80,753.11 L534.80,752.61 L535.80,752.57 L536.80,752.24 L537.80,751.61 L538.80,751.06 L539.80,751.01 L540.80,751.20 L541.80,751.23 L542.80,751.08 L543.80,751.11 L544.80,751.41 L545.80,751.58 L546.80,751.19 L547.80,750.49 L548.80,750.22 L549.80,750.71 L550.80,751.42 L551.80,751.51 L552.80,750.82 L553.80,750.09 L554.80,750.08 L555.80,750.70 L556.80,751.13 L557.80,750.82 L558.80,750.17 L559.80,749.94 L560.80,750.33 L561.80,750.74 L562.80,750.60 L563.80,750.06 L564.80,749.77 L565.80,750.03 L566.80,750.39 L567.80,750.30 L568.80,749.84 L569.80,749.62 L570.80,749.94 L571.80,750.32 L572.80,750.12 L573.80,749.42 L574.80,749.01 L575.80,749.44 L576.80,750.25 L577.80,750.47 L578.80,749.73 L579.80,748.78 L580.80,748.60 L581.80,749.29 L582.80,750.01 L583.80,749.99 L584.80,749.36 L585.80,748.87 L586.80,748.91 L587.80,749.15 L588.80,749.11 L589.80,748.88 L590.80,748.95 L591.80,749.37 L592.80,749.58 L593.80,749.07 L594.80,748.18 L595.80,747.84 L596.80,748.53 L597.80,749.54 L598.80,749.77 L599.80,748.92 L600.80,747.85 L601.80,747.61 L602.80,748.29" fill="none" stroke="#e3232b" stroke-width="3.7" stroke-linejoin="round" stroke-linecap="round"/>
<line x1="59.60" y1="820.10" x2="127.00" y2="820.10" stroke="#000" stroke-width="4" stroke-linecap="butt"/>
<text transform="translate(56.47,851.10) scale(1.0159,1)" font-family='"Liberation Sans", Arial, Helvetica, sans-serif' font-size="28.00" font-weight="normal" font-style="normal" fill="#000" stroke="#000" stroke-width="0.35"><tspan font-size="28.00">20 ms</tspan></text>
<text transform="translate(836.88,461.50)" font-family='"Liberation Sans", Arial, Helvetica, sans-serif' font-size="26.00" font-weight="bold" font-style="normal" fill="#000" stroke="#000" stroke-width="0.35"><tspan font-size="26.00">c</tspan></text>
<line x1="957.80" y1="432.30" x2="957.80" y2="800.20" stroke="#000" stroke-width="3.6" stroke-linecap="butt"/>
<line x1="949.80" y1="798.70" x2="957.80" y2="798.70" stroke="#000" stroke-width="3.9600000000000004" stroke-linecap="butt"/>
<text transform="translate(930.10,808.50) scale(0.9500,1)" font-family='"Liberation Sans", Arial, Helvetica, sans-serif' font-size="28.50" font-weight="normal" font-style="normal" fill="#000" stroke="#000" stroke-width="0.35"><tspan font-size="28.50">0</tspan></text>
<line x1="949.80" y1="737.88" x2="957.80" y2="737.88" stroke="#000" stroke-width="3.9600000000000004" stroke-linecap="butt"/>
<text transform="translate(915.04,747.68) scale(0.9500,1)" font-family='"Liberation Sans", Arial, Helvetica, sans-serif' font-size="28.50" font-weight="normal" font-style="normal" fill="#000" stroke="#000" stroke-width="0.35"><tspan font-size="28.50">20</tspan></text>
<line x1="949.80" y1="677.07" x2="957.80" y2="677.07" stroke="#000" stroke-width="3.9600000000000004" stroke-linecap="butt"/>
<text transform="translate(915.04,686.87) scale(0.9500,1)" font-family='"Liberation Sans", Arial, Helvetica, sans-serif' font-size="28.50" font-weight="normal" font-style="normal" fill="#000" stroke="#000" stroke-width="0.35"><tspan font-size="28.50">40</tspan></text>
<line x1="949.80" y1="616.25" x2="957.80" y2="616.25" stroke="#000" stroke-width="3.9600000000000004" stroke-linecap="butt"/>
<text transform="translate(915.04,626.05) scale(0.9500,1)" font-family='"Liberation Sans", Arial, Helvetica, sans-serif' font-size="28.50" font-weight="normal" font-style="normal" fill="#000" stroke="#000" stroke-width="0.35"><tspan font-size="28.50">60</tspan></text>
<line x1="949.80" y1="555.43" x2="957.80" y2="555.43" stroke="#000" stroke-width="3.9600000000000004" stroke-linecap="butt"/>
<text transform="translate(915.04,565.23) scale(0.9500,1)" font-family='"Liberation Sans", Arial, Helvetica, sans-serif' font-size="28.50" font-weight="normal" font-style="normal" fill="#000" stroke="#000" stroke-width="0.35"><tspan font-size="28.50">80</tspan></text>
<line x1="949.80" y1="494.62" x2="957.80" y2="494.62" stroke="#000" stroke-width="3.9600000000000004" stroke-linecap="butt"/>
<text transform="translate(899.98,504.42) scale(0.9500,1)" font-family='"Liberation Sans", Arial, Helvetica, sans-serif' font-size="28.50" font-weight="normal" font-style="normal" fill="#000" stroke="#000" stroke-width="0.35"><tspan font-size="28.50">100</tspan></text>
<line x1="949.80" y1="433.80" x2="957.80" y2="433.80" stroke="#000" stroke-width="3.9600000000000004" stroke-linecap="butt"/>
<text transform="translate(899.98,443.60) scale(0.9500,1)" font-family='"Liberation Sans", Arial, Helvetica, sans-serif' font-size="28.50" font-weight="normal" font-style="normal" fill="#000" stroke="#000" stroke-width="0.35"><tspan font-size="28.50">120</tspan></text>
<line x1="953.80" y1="768.29" x2="957.80" y2="768.29" stroke="#000" stroke-width="2.8800000000000003" stroke-linecap="butt"/>
<line x1="953.80" y1="707.48" x2="957.80" y2="707.48" stroke="#000" stroke-width="2.8800000000000003" stroke-linecap="butt"/>
<line x1="953.80" y1="646.66" x2="957.80" y2="646.66" stroke="#000" stroke-width="2.8800000000000003" stroke-linecap="butt"/>
<line x1="953.80" y1="585.84" x2="957.80" y2="585.84" stroke="#000" stroke-width="2.8800000000000003" stroke-linecap="butt"/>
<line x1="953.80" y1="525.03" x2="957.80" y2="525.03" stroke="#000" stroke-width="2.8800000000000003" stroke-linecap="butt"/>
<line x1="953.80" y1="464.21" x2="957.80" y2="464.21" stroke="#000" stroke-width="2.8800000000000003" stroke-linecap="butt"/>
<text transform="translate(885.80,727.78) rotate(-90)" font-family='"Liberation Sans", Arial, Helvetica, sans-serif' font-size="26.60" font-weight="normal" font-style="normal" fill="#000" stroke="#000" stroke-width="0.35"><tspan font-size="26.60">RR interval (ms)</tspan></text>
<path d="M1041.80,450.30 L1041.80,423.20 L1206.50,423.20 L1206.50,443.60" fill="none" stroke="#000" stroke-width="3.2" />
<text transform="translate(1075.27,412.80) scale(1.0326,1)" font-family='"Liberation Sans", Arial, Helvetica, sans-serif' font-size="26.00" font-weight="normal" font-style="normal" fill="#000" stroke="#000" stroke-width="0.35"><tspan font-size="26.00">p = 0.20</tspan></text>
<line x1="1040.60" y1="496.50" x2="1040.60" y2="501.00" stroke="#000" stroke-width="3.4" stroke-linecap="butt"/>
<line x1="1040.60" y1="496.50" x2="1049.10" y2="496.50" stroke="#000" stroke-width="3.4" stroke-linecap="butt"/>
<line x1="1040.60" y1="548.70" x2="1040.60" y2="556.20" stroke="#000" stroke-width="3.4" stroke-linecap="butt"/>
<line x1="1040.60" y1="556.20" x2="1049.10" y2="556.20" stroke="#000" stroke-width="3.4" stroke-linecap="butt"/>
<rect x="987.50" y="501.00" width="106.20" height="47.70" fill="none" stroke="#000" stroke-width="3.4"/>
<line x1="987.50" y1="523.30" x2="1093.70" y2="523.30" stroke="#000" stroke-width="3.4" stroke-linecap="butt"/>
<rect x="1037.80" y="523.40" width="4.60" height="4.60" fill="#fff" stroke="#000" stroke-width="1.2"/>
<circle cx="1035.30" cy="496.50" r="4.90" fill="#808080" stroke="#000" stroke-width="1.2"/>
<circle cx="1041.80" cy="505.10" r="4.90" fill="#808080" stroke="#000" stroke-width="1.2"/>
<circle cx="1042.80" cy="540.80" r="4.90" fill="#808080" stroke="#000" stroke-width="1.2"/>
<circle cx="1036.70" cy="556.20" r="4.90" fill="#808080" stroke="#000" stroke-width="1.2"/>
<line x1="1206.20" y1="514.10" x2="1206.20" y2="540.60" stroke="#e3232b" stroke-width="3.0" stroke-linecap="butt"/>
<line x1="1206.20" y1="514.10" x2="1214.20" y2="514.10" stroke="#e3232b" stroke-width="3.0" stroke-linecap="butt"/>
<rect x="1153.20" y="540.60" width="105.80" height="20.20" fill="none" stroke="#e3232b" stroke-width="3.0"/>
<line x1="1153.20" y1="552.50" x2="1259.00" y2="552.50" stroke="#e3232b" stroke-width="3.0" stroke-linecap="butt"/>
<rect x="1203.60" y="545.80" width="4.60" height="4.60" fill="#fff" stroke="#e3232b" stroke-width="1.2"/>
<circle cx="1202.50" cy="514.10" r="4.80" fill="#e3232b" stroke="#000" stroke-width="1.2"/>
<circle cx="1204.20" cy="539.50" r="4.80" fill="#e3232b" stroke="#000" stroke-width="1.2"/>
<circle cx="1207.30" cy="540.90" r="4.80" fill="#e3232b" stroke="#000" stroke-width="1.2"/>
<circle cx="1217.30" cy="552.20" r="4.80" fill="#e3232b" stroke="#000" stroke-width="1.2"/>
<circle cx="1196.00" cy="559.10" r="4.80" fill="#e3232b" stroke="#000" stroke-width="1.2"/>
<circle cx="1199.10" cy="562.50" r="4.80" fill="#e3232b" stroke="#000" stroke-width="1.2"/>
<circle cx="1211.40" cy="562.20" r="4.80" fill="#e3232b" stroke="#000" stroke-width="1.2"/>
<circle cx="1197.50" cy="560.50" r="4.80" fill="#e3232b" stroke="#000" stroke-width="1.2"/>
<text transform="translate(1002.54,832.00) scale(0.9878,1)" font-family='"Liberation Sans", Arial, Helvetica, sans-serif' font-size="28.00" font-weight="normal" font-style="normal" fill="#000" stroke="#000" stroke-width="0.35"><tspan font-size="28.00">Saline</tspan></text>
<text transform="translate(1013.66,858.00) scale(0.9349,1)" font-family='"Liberation Sans", Arial, Helvetica, sans-serif' font-size="28.00" font-weight="normal" font-style="normal" fill="#000" stroke="#000" stroke-width="0.35"><tspan font-size="28.00">n=4</tspan></text>
<text transform="translate(1174.29,832.00) scale(1.0082,1)" font-family='"Liberation Sans", Arial, Helvetica, sans-serif' font-size="28.00" font-weight="normal" font-style="normal" fill="#000" stroke="#000" stroke-width="0.35"><tspan font-size="28.00">IL-1</tspan><tspan font-size="28.00" font-family='"Liberation Serif", "Times New Roman", serif'>β</tspan></text>
<text transform="translate(1183.22,858.00) scale(0.9569,1)" font-family='"Liberation Sans", Arial, Helvetica, sans-serif' font-size="28.00" font-weight="normal" font-style="normal" fill="#000" stroke="#000" stroke-width="0.35"><tspan font-size="28.00">n=9</tspan></text>
<line x1="1386.70" y1="432.30" x2="1386.70" y2="800.00" stroke="#000" stroke-width="3.6" stroke-linecap="butt"/>
<line x1="1378.70" y1="798.50" x2="1386.70" y2="798.50" stroke="#000" stroke-width="3.9600000000000004" stroke-linecap="butt"/>
<text transform="translate(1358.90,808.30) scale(0.9500,1)" font-family='"Liberation Sans", Arial, Helvetica, sans-serif' font-size="28.50" font-weight="normal" font-style="normal" fill="#000" stroke="#000" stroke-width="0.35"><tspan font-size="28.50">0</tspan></text>
<line x1="1378.70" y1="676.93" x2="1386.70" y2="676.93" stroke="#000" stroke-width="3.9600000000000004" stroke-linecap="butt"/>
<text transform="translate(1358.98,686.73) scale(0.9500,1)" font-family='"Liberation Sans", Arial, Helvetica, sans-serif' font-size="28.50" font-weight="normal" font-style="normal" fill="#000" stroke="#000" stroke-width="0.35"><tspan font-size="28.50">5</tspan></text>
<line x1="1378.70" y1="555.37" x2="1386.70" y2="555.37" stroke="#000" stroke-width="3.9600000000000004" stroke-linecap="butt"/>
<text transform="translate(1343.84,565.17) scale(0.9500,1)" font-family='"Liberation Sans", Arial, Helvetica, sans-serif' font-size="28.50" font-weight="normal" font-style="normal" fill="#000" stroke="#000" stroke-width="0.35"><tspan font-size="28.50">10</tspan></text>
<line x1="1378.70" y1="433.80" x2="1386.70" y2="433.80" stroke="#000" stroke-width="3.9600000000000004" stroke-linecap="butt"/>
<text transform="translate(1343.92,443.60) scale(0.9500,1)" font-family='"Liberation Sans", Arial, Helvetica, sans-serif' font-size="28.50" font-weight="normal" font-style="normal" fill="#000" stroke="#000" stroke-width="0.35"><tspan font-size="28.50">15</tspan></text>
<line x1="1382.70" y1="737.72" x2="1386.70" y2="737.72" stroke="#000" stroke-width="2.8800000000000003" stroke-linecap="butt"/>
<line x1="1382.70" y1="616.15" x2="1386.70" y2="616.15" stroke="#000" stroke-width="2.8800000000000003" stroke-linecap="butt"/>
<line x1="1382.70" y1="494.58" x2="1386.70" y2="494.58" stroke="#000" stroke-width="2.8800000000000003" stroke-linecap="butt"/>
<text transform="translate(1331.50,702.79) rotate(-90) scale(1.0023,1)" font-family='"Liberation Sans", Arial, Helvetica, sans-serif' font-size="26.60" font-weight="normal" font-style="normal" fill="#000" stroke="#000" stroke-width="0.35"><tspan font-size="26.60">P wave (ms)</tspan></text>
<path d="M1470.80,450.30 L1470.80,423.20 L1635.20,423.20 L1635.20,444.10" fill="none" stroke="#000" stroke-width="3.2" />
<text transform="translate(1504.06,409.60) scale(1.0394,1)" font-family='"Liberation Sans", Arial, Helvetica, sans-serif' font-size="26.00" font-weight="normal" font-style="normal" fill="#000" stroke="#000" stroke-width="0.35"><tspan font-size="26.00">p = 0.39</tspan></text>
<line x1="1469.00" y1="497.00" x2="1469.00" y2="517.70" stroke="#000" stroke-width="3.4" stroke-linecap="butt"/>
<line x1="1469.00" y1="497.00" x2="1477.00" y2="497.00" stroke="#000" stroke-width="3.4" stroke-linecap="butt"/>
<line x1="1469.00" y1="570.20" x2="1469.00" y2="580.50" stroke="#000" stroke-width="3.4" stroke-linecap="butt"/>
<line x1="1469.00" y1="580.50" x2="1477.00" y2="580.50" stroke="#000" stroke-width="3.4" stroke-linecap="butt"/>
<rect x="1416.40" y="517.70" width="105.50" height="52.50" fill="none" stroke="#000" stroke-width="3.4"/>
<line x1="1416.40" y1="548.90" x2="1521.90" y2="548.90" stroke="#000" stroke-width="3.4" stroke-linecap="butt"/>
<rect x="1466.70" y="542.50" width="4.60" height="4.60" fill="#fff" stroke="#000" stroke-width="1.2"/>
<circle cx="1464.20" cy="496.70" r="4.90" fill="#808080" stroke="#000" stroke-width="1.2"/>
<circle cx="1470.30" cy="538.00" r="4.90" fill="#808080" stroke="#000" stroke-width="1.2"/>
<circle cx="1471.50" cy="559.90" r="4.90" fill="#808080" stroke="#000" stroke-width="1.2"/>
<circle cx="1465.30" cy="580.50" r="4.90" fill="#808080" stroke="#000" stroke-width="1.2"/>
<line x1="1634.80" y1="463.80" x2="1634.80" y2="509.80" stroke="#e3232b" stroke-width="3.0" stroke-linecap="butt"/>
<line x1="1634.80" y1="463.80" x2="1642.80" y2="463.80" stroke="#e3232b" stroke-width="3.0" stroke-linecap="butt"/>
<line x1="1634.80" y1="552.00" x2="1634.80" y2="569.10" stroke="#e3232b" stroke-width="3.0" stroke-linecap="butt"/>
<line x1="1634.80" y1="569.10" x2="1642.80" y2="569.10" stroke="#e3232b" stroke-width="3.0" stroke-linecap="butt"/>
<rect x="1582.40" y="509.80" width="105.60" height="42.20" fill="none" stroke="#e3232b" stroke-width="3.0"/>
<line x1="1582.40" y1="522.80" x2="1688.00" y2="522.80" stroke="#e3232b" stroke-width="3.0" stroke-linecap="butt"/>
<rect x="1632.50" y="523.10" width="4.60" height="4.60" fill="#fff" stroke="#e3232b" stroke-width="1.2"/>
<circle cx="1631.10" cy="463.80" r="4.80" fill="#e3232b" stroke="#000" stroke-width="1.2"/>
<circle cx="1632.70" cy="499.90" r="4.80" fill="#e3232b" stroke="#000" stroke-width="1.2"/>
<circle cx="1640.30" cy="509.60" r="4.80" fill="#e3232b" stroke="#000" stroke-width="1.2"/>
<circle cx="1633.20" cy="514.80" r="4.80" fill="#e3232b" stroke="#000" stroke-width="1.2"/>
<circle cx="1624.60" cy="522.60" r="4.80" fill="#e3232b" stroke="#000" stroke-width="1.2"/>
<circle cx="1624.60" cy="537.50" r="4.80" fill="#e3232b" stroke="#000" stroke-width="1.2"/>
<circle cx="1636.00" cy="552.10" r="4.80" fill="#e3232b" stroke="#000" stroke-width="1.2"/>
<circle cx="1646.20" cy="561.00" r="4.80" fill="#e3232b" stroke="#000" stroke-width="1.2"/>
<circle cx="1627.90" cy="569.10" r="4.80" fill="#e3232b" stroke="#000" stroke-width="1.2"/>
<text transform="translate(1433.11,831.30) scale(0.9320,1)" font-family='"Liberation Sans", Arial, Helvetica, sans-serif' font-size="28.00" font-weight="normal" font-style="normal" fill="#000" stroke="#000" stroke-width="0.35"><tspan font-size="28.00">Saline</tspan></text>
<text transform="translate(1442.36,858.00) scale(0.9349,1)" font-family='"Liberation Sans", Arial, Helvetica, sans-serif' font-size="28.00" font-weight="normal" font-style="normal" fill="#000" stroke="#000" stroke-width="0.35"><tspan font-size="28.00">n=4</tspan></text>
<text transform="translate(1604.40,831.30) scale(0.9656,1)" font-family='"Liberation Sans", Arial, Helvetica, sans-serif' font-size="28.00" font-weight="normal" font-style="normal" fill="#000" stroke="#000" stroke-width="0.35"><tspan font-size="28.00">IL-1</tspan><tspan font-size="28.00" font-family='"Liberation Serif", "Times New Roman", serif'>β</tspan></text>
<text transform="translate(1611.71,858.00) scale(0.9637,1)" font-family='"Liberation Sans", Arial, Helvetica, sans-serif' font-size="28.00" font-weight="normal" font-style="normal" fill="#000" stroke="#000" stroke-width="0.35"><tspan font-size="28.00">n=9</tspan></text>
<line x1="1858.20" y1="432.30" x2="1858.20" y2="800.00" stroke="#000" stroke-width="3.6" stroke-linecap="butt"/>
<line x1="1850.20" y1="798.50" x2="1858.20" y2="798.50" stroke="#000" stroke-width="3.9600000000000004" stroke-linecap="butt"/>
<text transform="translate(1835.90,808.30) scale(0.9500,1)" font-family='"Liberation Sans", Arial, Helvetica, sans-serif' font-size="28.50" font-weight="normal" font-style="normal" fill="#000" stroke="#000" stroke-width="0.35"><tspan font-size="28.50">0</tspan></text>
<line x1="1850.20" y1="725.56" x2="1858.20" y2="725.56" stroke="#000" stroke-width="3.9600000000000004" stroke-linecap="butt"/>
<text transform="translate(1820.84,735.36) scale(0.9500,1)" font-family='"Liberation Sans", Arial, Helvetica, sans-serif' font-size="28.50" font-weight="normal" font-style="normal" fill="#000" stroke="#000" stroke-width="0.35"><tspan font-size="28.50">10</tspan></text>
<line x1="1850.20" y1="652.62" x2="1858.20" y2="652.62" stroke="#000" stroke-width="3.9600000000000004" stroke-linecap="butt"/>
<text transform="translate(1820.84,662.42) scale(0.9500,1)" font-family='"Liberation Sans", Arial, Helvetica, sans-serif' font-size="28.50" font-weight="normal" font-style="normal" fill="#000" stroke="#000" stroke-width="0.35"><tspan font-size="28.50">20</tspan></text>
<line x1="1850.20" y1="579.68" x2="1858.20" y2="579.68" stroke="#000" stroke-width="3.9600000000000004" stroke-linecap="butt"/>
<text transform="translate(1820.84,589.48) scale(0.9500,1)" font-family='"Liberation Sans", Arial, Helvetica, sans-serif' font-size="28.50" font-weight="normal" font-style="normal" fill="#000" stroke="#000" stroke-width="0.35"><tspan font-size="28.50">30</tspan></text>
<line x1="1850.20" y1="506.74" x2="1858.20" y2="506.74" stroke="#000" stroke-width="3.9600000000000004" stroke-linecap="butt"/>
<text transform="translate(1820.84,516.54) scale(0.9500,1)" font-family='"Liberation Sans", Arial, Helvetica, sans-serif' font-size="28.50" font-weight="normal" font-style="normal" fill="#000" stroke="#000" stroke-width="0.35"><tspan font-size="28.50">40</tspan></text>
<line x1="1850.20" y1="433.80" x2="1858.20" y2="433.80" stroke="#000" stroke-width="3.9600000000000004" stroke-linecap="butt"/>
<text transform="translate(1820.84,443.60) scale(0.9500,1)" font-family='"Liberation Sans", Arial, Helvetica, sans-serif' font-size="28.50" font-weight="normal" font-style="normal" fill="#000" stroke="#000" stroke-width="0.35"><tspan font-size="28.50">50</tspan></text>
<line x1="1854.20" y1="762.03" x2="1858.20" y2="762.03" stroke="#000" stroke-width="2.8800000000000003" stroke-linecap="butt"/>
<line x1="1854.20" y1="689.09" x2="1858.20" y2="689.09" stroke="#000" stroke-width="2.8800000000000003" stroke-linecap="butt"/>
<line x1="1854.20" y1="616.15" x2="1858.20" y2="616.15" stroke="#000" stroke-width="2.8800000000000003" stroke-linecap="butt"/>
<line x1="1854.20" y1="543.21" x2="1858.20" y2="543.21" stroke="#000" stroke-width="2.8800000000000003" stroke-linecap="butt"/>
<line x1="1854.20" y1="470.27" x2="1858.20" y2="470.27" stroke="#000" stroke-width="2.8800000000000003" stroke-linecap="butt"/>
<text transform="translate(1801.50,728.70) rotate(-90) scale(1.0100,1)" font-family='"Liberation Sans", Arial, Helvetica, sans-serif' font-size="26.60" font-weight="normal" font-style="normal" fill="#000" stroke="#000" stroke-width="0.35"><tspan font-size="26.60">PR interval (ms)</tspan></text>
<path d="M1942.10,450.30 L1942.10,423.20 L2106.80,423.20 L2106.80,442.90" fill="none" stroke="#000" stroke-width="3.2" />
<text transform="translate(1974.82,412.00) scale(1.0595,1)" font-family='"Liberation Sans", Arial, Helvetica, sans-serif' font-size="26.00" font-weight="normal" font-style="normal" fill="#000" stroke="#000" stroke-width="0.35"><tspan font-size="26.00">p = 0.55</tspan></text>
<line x1="1940.00" y1="585.30" x2="1940.00" y2="591.50" stroke="#000" stroke-width="3.4" stroke-linecap="butt"/>
<line x1="1933.00" y1="591.50" x2="1940.00" y2="591.50" stroke="#000" stroke-width="3.4" stroke-linecap="butt"/>
<rect x="1887.90" y="556.00" width="105.40" height="29.30" fill="none" stroke="#000" stroke-width="3.4"/>
<line x1="1887.90" y1="567.70" x2="1993.30" y2="567.70" stroke="#000" stroke-width="3.4" stroke-linecap="butt"/>
<rect x="1938.20" y="568.30" width="4.60" height="4.60" fill="#fff" stroke="#000" stroke-width="1.2"/>
<circle cx="1935.60" cy="556.70" r="4.90" fill="#808080" stroke="#000" stroke-width="1.2"/>
<circle cx="1943.70" cy="554.10" r="4.90" fill="#808080" stroke="#000" stroke-width="1.2"/>
<circle cx="1936.80" cy="578.20" r="4.90" fill="#808080" stroke="#000" stroke-width="1.2"/>
<circle cx="1942.10" cy="591.50" r="4.90" fill="#808080" stroke="#000" stroke-width="1.2"/>
<line x1="2106.00" y1="493.60" x2="2106.00" y2="555.00" stroke="#e3232b" stroke-width="3.0" stroke-linecap="butt"/>
<line x1="2098.50" y1="493.60" x2="2106.00" y2="493.60" stroke="#e3232b" stroke-width="3.0" stroke-linecap="butt"/>
<line x1="2106.00" y1="585.80" x2="2106.00" y2="594.20" stroke="#e3232b" stroke-width="3.0" stroke-linecap="butt"/>
<line x1="2098.50" y1="594.20" x2="2106.00" y2="594.20" stroke="#e3232b" stroke-width="3.0" stroke-linecap="butt"/>
<rect x="2053.80" y="555.00" width="105.30" height="30.80" fill="none" stroke="#e3232b" stroke-width="3.0"/>
<line x1="2053.80" y1="558.80" x2="2159.10" y2="558.80" stroke="#e3232b" stroke-width="3.0" stroke-linecap="butt"/>
<line x1="2106.00" y1="594.20" x2="2113.20" y2="594.20" stroke="#e3232b" stroke-width="3.0" stroke-linecap="butt"/>
<circle cx="2112.10" cy="493.60" r="4.80" fill="#e3232b" stroke="#000" stroke-width="1.2"/>
<circle cx="2096.10" cy="547.40" r="4.80" fill="#e3232b" stroke="#000" stroke-width="1.2"/>
<circle cx="2095.10" cy="555.10" r="4.80" fill="#e3232b" stroke="#000" stroke-width="1.2"/>
<circle cx="2102.00" cy="553.80" r="4.80" fill="#e3232b" stroke="#000" stroke-width="1.2"/>
<circle cx="2106.80" cy="558.60" r="4.80" fill="#e3232b" stroke="#000" stroke-width="1.2"/>
<circle cx="2104.40" cy="565.00" r="4.80" fill="#e3232b" stroke="#000" stroke-width="1.2"/>
<circle cx="2104.70" cy="585.60" r="4.80" fill="#e3232b" stroke="#000" stroke-width="1.2"/>
<circle cx="2116.90" cy="589.10" r="4.80" fill="#e3232b" stroke="#000" stroke-width="1.2"/>
<circle cx="2099.60" cy="594.20" r="4.80" fill="#e3232b" stroke="#000" stroke-width="1.2"/>
<text transform="translate(1905.12,832.50) scale(0.9267,1)" font-family='"Liberation Sans", Arial, Helvetica, sans-serif' font-size="28.00" font-weight="normal" font-style="normal" fill="#000" stroke="#000" stroke-width="0.35"><tspan font-size="28.00">Saline</tspan></text>
<text transform="translate(1914.49,858.00) scale(0.9193,1)" font-family='"Liberation Sans", Arial, Helvetica, sans-serif' font-size="28.00" font-weight="normal" font-style="normal" fill="#000" stroke="#000" stroke-width="0.35"><tspan font-size="28.00">n=4</tspan></text>
<text transform="translate(2076.50,832.50) scale(0.9656,1)" font-family='"Liberation Sans", Arial, Helvetica, sans-serif' font-size="28.00" font-weight="normal" font-style="normal" fill="#000" stroke="#000" stroke-width="0.35"><tspan font-size="28.00">IL-1</tspan><tspan font-size="28.00" font-family='"Liberation Serif", "Times New Roman", serif'>β</tspan></text>
<text transform="translate(2083.32,858.00) scale(0.9569,1)" font-family='"Liberation Sans", Arial, Helvetica, sans-serif' font-size="28.00" font-weight="normal" font-style="normal" fill="#000" stroke="#000" stroke-width="0.35"><tspan font-size="28.00">n=9</tspan></text>
<text transform="translate(21.03,1014.50)" font-family='"Liberation Sans", Arial, Helvetica, sans-serif' font-size="26.00" font-weight="bold" font-style="normal" fill="#000" stroke="#000" stroke-width="0.35"><tspan font-size="26.00">d</tspan></text>
<path d="M149.80,1312.00 L150.30,1311.76 L150.80,1311.44 L151.30,1311.05 L151.80,1310.58 L152.30,1310.07 L152.80,1309.50 L153.30,1308.89 L153.80,1308.26 L154.30,1307.61 L154.80,1306.94 L155.30,1306.23 L155.80,1305.41 L156.30,1304.46 L156.80,1303.33 L157.30,1301.98 L157.80,1300.36 L158.30,1298.05 L158.80,1294.22 L159.30,1288.89 L159.80,1282.05 L160.30,1273.74 L160.80,1261.66 L161.30,1238.85 L161.80,1209.89 L162.30,1180.55 L162.80,1154.60 L163.30,1128.01 L163.80,1101.93 L164.30,1078.32 L164.80,1058.45 L165.30,1040.82 L165.80,1025.45 L166.00,1020.00 L167.30,1009.50 L168.30,1015.70 L169.30,1021.69 L170.30,1027.42 L171.30,1032.82 L172.30,1037.85 L173.30,1042.47 L174.30,1046.77 L175.30,1050.83 L176.30,1054.71 L177.30,1058.48 L178.30,1062.21 L179.30,1065.96 L180.30,1069.82 L181.30,1073.81 L182.30,1077.86 L183.30,1081.94 L184.30,1086.03 L185.30,1090.10 L186.30,1094.14 L187.30,1098.11 L188.30,1102.00 L189.30,1105.79 L190.30,1109.54 L191.30,1113.24 L192.30,1116.91 L193.30,1120.51 L194.30,1124.05 L195.30,1127.51 L196.30,1130.89 L197.30,1134.18 L198.30,1137.41 L199.30,1140.59 L200.30,1143.71 L201.30,1146.76 L202.30,1149.73 L203.30,1152.62 L204.30,1155.43 L205.30,1158.13 L206.30,1160.75 L207.30,1163.30 L208.30,1165.78 L209.30,1168.19 L210.30,1170.55 L211.30,1172.85 L212.30,1175.11 L213.30,1177.32 L214.30,1179.50 L215.30,1181.64 L216.30,1183.75 L217.30,1185.82 L218.30,1187.86 L219.30,1189.87 L220.30,1191.84 L221.30,1193.77 L222.30,1195.67 L223.30,1197.53 L224.30,1199.36 L225.30,1201.15 L226.30,1202.91 L227.30,1204.65 L228.30,1206.36 L229.30,1208.05 L230.30,1209.71 L231.30,1211.34 L232.30,1212.94 L233.30,1214.52 L234.30,1216.07 L235.30,1217.59 L236.30,1219.09 L237.30,1220.56 L238.30,1222.01 L239.30,1223.44 L240.30,1224.86 L241.30,1226.25 L242.30,1227.63 L243.30,1228.99 L244.30,1230.34 L245.30,1231.66 L246.30,1232.97 L247.30,1234.25 L248.30,1235.52 L249.30,1236.76 L250.30,1237.98 L251.30,1239.18 L252.30,1240.36 L253.30,1241.52 L254.30,1242.65 L255.30,1243.76 L256.30,1244.86 L257.30,1245.94 L258.30,1247.00 L259.30,1248.05 L260.30,1249.08 L261.30,1250.09 L262.30,1251.09 L263.30,1252.07 L264.30,1253.04 L265.30,1254.00 L266.30,1254.94 L267.30,1255.87 L268.30,1256.79 L269.30,1257.69 L270.30,1258.59 L271.30,1259.47 L272.30,1260.35 L273.30,1261.22 L274.30,1262.08 L275.30,1262.93 L276.30,1263.77 L277.30,1264.60 L278.30,1265.42 L279.30,1266.22 L280.30,1267.01 L281.30,1267.79 L282.30,1268.55 L283.30,1269.30 L284.30,1270.02 L285.30,1270.74 L286.30,1271.43 L287.30,1272.11 L288.30,1272.77 L289.30,1273.43 L290.30,1274.07 L291.30,1274.70 L292.30,1275.32 L293.30,1275.92 L294.30,1276.52 L295.30,1277.11 L296.30,1277.69 L297.30,1278.26 L298.30,1278.82 L299.30,1279.37 L300.30,1279.92 L301.30,1280.46 L302.30,1280.99 L303.30,1281.52 L304.30,1282.04 L305.30,1282.56 L306.30,1283.09 L307.30,1283.60 L308.30,1284.12 L309.30,1284.63 L310.30,1285.13 L311.30,1285.63 L312.30,1286.13 L313.30,1286.62 L314.30,1287.10 L315.30,1287.58 L316.30,1288.05 L317.30,1288.51 L318.30,1288.97 L319.30,1289.42 L320.30,1289.86 L321.30,1290.29 L322.30,1290.71 L323.30,1291.12 L324.30,1291.53 L325.30,1291.92 L326.30,1292.30 L327.30,1292.67 L328.30,1293.04 L329.30,1293.40 L330.30,1293.76 L331.30,1294.11 L332.30,1294.46 L333.30,1294.81 L334.30,1295.15 L335.30,1295.49 L336.30,1295.82 L337.30,1296.14 L338.30,1296.46 L339.30,1296.77 L340.30,1297.08 L341.30,1297.38 L342.30,1297.67 L343.30,1297.96 L344.30,1298.24 L345.30,1298.51 L346.30,1298.77 L347.30,1299.03 L348.30,1299.27 L349.30,1299.51 L350.30,1299.74 L351.30,1299.96 L352.30,1300.17 L353.30,1300.37 L354.30,1300.57 L355.30,1300.76 L356.30,1300.95 L357.30,1301.13 L358.30,1301.31 L359.30,1301.48 L360.30,1301.65 L361.30,1301.81 L362.30,1301.97 L363.30,1302.13 L364.30,1302.29 L365.30,1302.44 L366.30,1302.59 L367.30,1302.74 L368.30,1302.89 L369.30,1303.03 L370.30,1303.18 L371.30,1303.32 L372.30,1303.47 L373.30,1303.62 L374.30,1303.76 L375.30,1303.91 L376.30,1304.06 L377.30,1304.21 L378.30,1304.36 L379.30,1304.51 L380.30,1304.67 L381.30,1304.82 L382.30,1304.97 L383.30,1305.13 L384.30,1305.28 L385.30,1305.43 L386.30,1305.58 L387.30,1305.72 L388.30,1305.87 L389.30,1306.01 L390.30,1306.15 L391.30,1306.29 L392.30,1306.42 L393.30,1306.55 L394.30,1306.68 L395.30,1306.80 L396.30,1306.91 L397.30,1307.03 L398.30,1307.13 L399.30,1307.23 L400.30,1307.33 L401.30,1307.42 L402.30,1307.51 L403.30,1307.60 L404.30,1307.69 L405.30,1307.78 L406.30,1307.87 L407.30,1307.96 L408.30,1308.04 L409.30,1308.13 L410.30,1308.21 L411.30,1308.29 L412.30,1308.38 L413.30,1308.46 L414.30,1308.54 L415.30,1308.61 L416.30,1308.69 L417.30,1308.77 L418.30,1308.84 L419.30,1308.91 L420.30,1308.98 L421.30,1309.05 L422.30,1309.12 L423.30,1309.19 L424.30,1309.26 L425.30,1309.32 L426.30,1309.38 L427.30,1309.45 L428.30,1309.51 L429.30,1309.56 L430.30,1309.62 L431.30,1309.68 L432.30,1309.73 L433.30,1309.78 L434.30,1309.83 L435.30,1309.88 L436.30,1309.93 L437.30,1309.98 L438.30,1310.02 L439.30,1310.06 L440.30,1310.10 L441.30,1310.14 L442.30,1310.18 L443.30,1310.21 L444.30,1310.25 L445.30,1310.28 L446.30,1310.32 L447.30,1310.35 L448.30,1310.38 L449.30,1310.41 L450.30,1310.44 L451.30,1310.47 L452.30,1310.50 L453.30,1310.53 L454.30,1310.56 L455.30,1310.59 L456.30,1310.62 L457.30,1310.65 L458.30,1310.67 L459.30,1310.70 L460.30,1310.73 L461.30,1310.75 L462.30,1310.78 L463.30,1310.80 L464.30,1310.83 L465.30,1310.85 L466.30,1310.87 L467.30,1310.90 L468.30,1310.92 L469.30,1310.94 L470.30,1310.97 L471.30,1310.99 L472.30,1311.01 L473.30,1311.03 L474.30,1311.05 L475.30,1311.07 L476.30,1311.09 L477.30,1311.11 L478.30,1311.13 L479.30,1311.15 L480.30,1311.17 L481.30,1311.19 L482.30,1311.21 L483.30,1311.22 L484.30,1311.24 L485.30,1311.26 L486.30,1311.28 L487.30,1311.30 L488.30,1311.31 L489.30,1311.33 L490.30,1311.35 L491.30,1311.36 L492.30,1311.38 L493.30,1311.40 L494.30,1311.41 L495.30,1311.43 L496.30,1311.44 L497.30,1311.46 L498.30,1311.47 L499.30,1311.49 L500.30,1311.50 L501.30,1311.52 L502.30,1311.53 L503.30,1311.55 L504.30,1311.57 L505.30,1311.58 L506.30,1311.60 L507.30,1311.61 L508.30,1311.63 L509.30,1311.64 L510.30,1311.66 L511.30,1311.67 L512.30,1311.68 L513.30,1311.70 L514.30,1311.71 L515.30,1311.73 L516.30,1311.74 L517.30,1311.76 L518.30,1311.77 L519.30,1311.79 L520.30,1311.80 L521.30,1311.82 L522.30,1311.83 L523.30,1311.84 L524.30,1311.86 L525.30,1311.87 L526.30,1311.89 L527.30,1311.90 L528.30,1311.91 L529.30,1311.93 L530.30,1311.94 L531.30,1311.96 L532.30,1311.97 L533.30,1311.98 L534.30,1312.00 L535.30,1312.01 L536.30,1312.02 L537.30,1312.04 L538.30,1312.05 L539.30,1312.06 L540.30,1312.07 L541.30,1312.09 L542.30,1312.10 L543.30,1312.11 L544.30,1312.13 L545.30,1312.14 L546.30,1312.15 L547.30,1312.16 L548.30,1312.17 L549.30,1312.19 L550.30,1312.20 L551.30,1312.21 L552.30,1312.22 L553.30,1312.23 L554.30,1312.24 L555.30,1312.25 L556.30,1312.27 L557.30,1312.28 L558.30,1312.29 L559.30,1312.30 L560.30,1312.31 L561.30,1312.32 L562.30,1312.33 L563.30,1312.34 L564.30,1312.35 L565.30,1312.36 L566.30,1312.37 L567.30,1312.38 L568.30,1312.39 L569.30,1312.40 L570.30,1312.41 L571.30,1312.41 L572.30,1312.42 L573.30,1312.43 L574.30,1312.44 L575.30,1312.45 L576.30,1312.46 L577.30,1312.46 L578.30,1312.47 L579.30,1312.48 L580.30,1312.49 L581.30,1312.49 L582.30,1312.50 L583.30,1312.51 L584.30,1312.52 L585.30,1312.52 L586.30,1312.53 L587.30,1312.53 L588.30,1312.54 L589.30,1312.55 L590.30,1312.55 L591.30,1312.56 L592.30,1312.56 L593.30,1312.57 L594.30,1312.57 L595.30,1312.58 L596.30,1312.58 L597.30,1312.59 L598.30,1312.59 L599.30,1312.59 L600.30,1312.60 L601.30,1312.60" fill="none" stroke="#3c3c3c" stroke-width="3.8" stroke-linejoin="round"/>
<path d="M149.80,1311.30 L150.30,1311.25 L150.80,1311.12 L151.30,1310.92 L151.80,1310.65 L152.30,1310.33 L152.80,1309.97 L153.30,1309.58 L153.80,1309.17 L154.30,1308.74 L154.80,1308.25 L155.30,1307.67 L155.80,1306.98 L156.30,1306.16 L156.80,1305.19 L157.30,1304.04 L157.80,1302.69 L158.30,1300.80 L158.80,1297.70 L159.30,1293.40 L159.80,1287.92 L160.30,1281.30 L160.80,1273.56 L161.30,1264.56 L161.80,1248.70 L162.30,1225.56 L162.80,1198.12 L163.30,1169.36 L163.80,1141.28 L164.30,1109.11 L164.80,1076.80 L165.30,1050.52 L165.80,1030.14 L166.10,1020.00 L166.80,1008.70 L167.80,1012.80 L168.80,1016.88 L169.80,1021.01 L170.80,1025.24 L171.80,1029.45 L172.80,1033.53 L173.80,1037.36 L174.80,1040.88 L175.80,1044.22 L176.80,1047.42 L177.80,1050.50 L178.80,1053.49 L179.80,1056.41 L180.80,1059.28 L181.80,1062.12 L182.80,1064.96 L183.80,1067.81 L184.80,1070.68 L185.80,1073.52 L186.80,1076.34 L187.80,1079.13 L188.80,1081.91 L189.80,1084.66 L190.80,1087.39 L191.80,1090.10 L192.80,1092.79 L193.80,1095.46 L194.80,1098.12 L195.80,1100.76 L196.80,1103.38 L197.80,1105.98 L198.80,1108.58 L199.80,1111.16 L200.80,1113.72 L201.80,1116.27 L202.80,1118.80 L203.80,1121.31 L204.80,1123.80 L205.80,1126.27 L206.80,1128.72 L207.80,1131.14 L208.80,1133.55 L209.80,1135.93 L210.80,1138.29 L211.80,1140.67 L212.80,1143.05 L213.80,1145.42 L214.80,1147.78 L215.80,1150.13 L216.80,1152.45 L217.80,1154.75 L218.80,1157.00 L219.80,1159.21 L220.80,1161.37 L221.80,1163.47 L222.80,1165.51 L223.80,1167.48 L224.80,1169.37 L225.80,1171.21 L226.80,1173.01 L227.80,1174.76 L228.80,1176.49 L229.80,1178.17 L230.80,1179.82 L231.80,1181.44 L232.80,1183.03 L233.80,1184.59 L234.80,1186.13 L235.80,1187.64 L236.80,1189.12 L237.80,1190.59 L238.80,1192.03 L239.80,1193.45 L240.80,1194.86 L241.80,1196.25 L242.80,1197.62 L243.80,1198.96 L244.80,1200.29 L245.80,1201.59 L246.80,1202.88 L247.80,1204.15 L248.80,1205.40 L249.80,1206.64 L250.80,1207.87 L251.80,1209.09 L252.80,1210.29 L253.80,1211.48 L254.80,1212.66 L255.80,1213.84 L256.80,1215.00 L257.80,1216.16 L258.80,1217.32 L259.80,1218.47 L260.80,1219.62 L261.80,1220.77 L262.80,1221.92 L263.80,1223.06 L264.80,1224.20 L265.80,1225.33 L266.80,1226.46 L267.80,1227.58 L268.80,1228.70 L269.80,1229.82 L270.80,1230.92 L271.80,1232.02 L272.80,1233.11 L273.80,1234.20 L274.80,1235.28 L275.80,1236.35 L276.80,1237.41 L277.80,1238.46 L278.80,1239.51 L279.80,1240.54 L280.80,1241.56 L281.80,1242.58 L282.80,1243.58 L283.80,1244.57 L284.80,1245.55 L285.80,1246.52 L286.80,1247.48 L287.80,1248.43 L288.80,1249.38 L289.80,1250.32 L290.80,1251.25 L291.80,1252.17 L292.80,1253.09 L293.80,1254.00 L294.80,1254.91 L295.80,1255.80 L296.80,1256.69 L297.80,1257.57 L298.80,1258.44 L299.80,1259.31 L300.80,1260.16 L301.80,1261.01 L302.80,1261.84 L303.80,1262.67 L304.80,1263.49 L305.80,1264.30 L306.80,1265.10 L307.80,1265.89 L308.80,1266.67 L309.80,1267.44 L310.80,1268.20 L311.80,1268.95 L312.80,1269.70 L313.80,1270.44 L314.80,1271.18 L315.80,1271.91 L316.80,1272.63 L317.80,1273.35 L318.80,1274.06 L319.80,1274.77 L320.80,1275.47 L321.80,1276.16 L322.80,1276.84 L323.80,1277.51 L324.80,1278.18 L325.80,1278.84 L326.80,1279.48 L327.80,1280.12 L328.80,1280.75 L329.80,1281.36 L330.80,1281.97 L331.80,1282.56 L332.80,1283.15 L333.80,1283.72 L334.80,1284.28 L335.80,1284.83 L336.80,1285.37 L337.80,1285.91 L338.80,1286.45 L339.80,1286.98 L340.80,1287.51 L341.80,1288.03 L342.80,1288.54 L343.80,1289.05 L344.80,1289.55 L345.80,1290.04 L346.80,1290.53 L347.80,1291.01 L348.80,1291.47 L349.80,1291.93 L350.80,1292.38 L351.80,1292.82 L352.80,1293.25 L353.80,1293.67 L354.80,1294.08 L355.80,1294.48 L356.80,1294.86 L357.80,1295.23 L358.80,1295.59 L359.80,1295.93 L360.80,1296.27 L361.80,1296.60 L362.80,1296.93 L363.80,1297.25 L364.80,1297.56 L365.80,1297.87 L366.80,1298.17 L367.80,1298.47 L368.80,1298.76 L369.80,1299.04 L370.80,1299.32 L371.80,1299.60 L372.80,1299.86 L373.80,1300.12 L374.80,1300.38 L375.80,1300.62 L376.80,1300.86 L377.80,1301.10 L378.80,1301.33 L379.80,1301.55 L380.80,1301.76 L381.80,1301.97 L382.80,1302.17 L383.80,1302.36 L384.80,1302.55 L385.80,1302.73 L386.80,1302.90 L387.80,1303.07 L388.80,1303.23 L389.80,1303.39 L390.80,1303.54 L391.80,1303.69 L392.80,1303.83 L393.80,1303.97 L394.80,1304.11 L395.80,1304.25 L396.80,1304.38 L397.80,1304.51 L398.80,1304.64 L399.80,1304.77 L400.80,1304.90 L401.80,1305.03 L402.80,1305.17 L403.80,1305.30 L404.80,1305.43 L405.80,1305.56 L406.80,1305.70 L407.80,1305.83 L408.80,1305.96 L409.80,1306.09 L410.80,1306.23 L411.80,1306.36 L412.80,1306.49 L413.80,1306.62 L414.80,1306.75 L415.80,1306.88 L416.80,1307.00 L417.80,1307.13 L418.80,1307.25 L419.80,1307.38 L420.80,1307.50 L421.80,1307.62 L422.80,1307.74 L423.80,1307.85 L424.80,1307.96 L425.80,1308.08 L426.80,1308.18 L427.80,1308.29 L428.80,1308.39 L429.80,1308.50 L430.80,1308.59 L431.80,1308.69 L432.80,1308.78 L433.80,1308.87 L434.80,1308.95 L435.80,1309.04 L436.80,1309.11 L437.80,1309.19 L438.80,1309.26 L439.80,1309.32 L440.80,1309.38 L441.80,1309.44 L442.80,1309.49 L443.80,1309.54 L444.80,1309.59 L445.80,1309.64 L446.80,1309.69 L447.80,1309.74 L448.80,1309.78 L449.80,1309.83 L450.80,1309.87 L451.80,1309.91 L452.80,1309.96 L453.80,1310.00 L454.80,1310.04 L455.80,1310.08 L456.80,1310.12 L457.80,1310.16 L458.80,1310.20 L459.80,1310.23 L460.80,1310.27 L461.80,1310.31 L462.80,1310.34 L463.80,1310.38 L464.80,1310.41 L465.80,1310.44 L466.80,1310.48 L467.80,1310.51 L468.80,1310.54 L469.80,1310.57 L470.80,1310.60 L471.80,1310.63 L472.80,1310.66 L473.80,1310.69 L474.80,1310.72 L475.80,1310.75 L476.80,1310.78 L477.80,1310.80 L478.80,1310.83 L479.80,1310.86 L480.80,1310.88 L481.80,1310.91 L482.80,1310.93 L483.80,1310.96 L484.80,1310.98 L485.80,1311.00 L486.80,1311.03 L487.80,1311.05 L488.80,1311.07 L489.80,1311.09 L490.80,1311.11 L491.80,1311.14 L492.80,1311.16 L493.80,1311.18 L494.80,1311.20 L495.80,1311.22 L496.80,1311.24 L497.80,1311.26 L498.80,1311.28 L499.80,1311.30 L500.80,1311.32 L501.80,1311.33 L502.80,1311.35 L503.80,1311.37 L504.80,1311.39 L505.80,1311.41 L506.80,1311.43 L507.80,1311.45 L508.80,1311.47 L509.80,1311.49 L510.80,1311.50 L511.80,1311.52 L512.80,1311.54 L513.80,1311.56 L514.80,1311.58 L515.80,1311.60 L516.80,1311.62 L517.80,1311.63 L518.80,1311.65 L519.80,1311.67 L520.80,1311.69 L521.80,1311.71 L522.80,1311.72 L523.80,1311.74 L524.80,1311.76 L525.80,1311.78 L526.80,1311.80 L527.80,1311.81 L528.80,1311.83 L529.80,1311.85 L530.80,1311.86 L531.80,1311.88 L532.80,1311.90 L533.80,1311.92 L534.80,1311.93 L535.80,1311.95 L536.80,1311.97 L537.80,1311.98 L538.80,1312.00 L539.80,1312.01 L540.80,1312.03 L541.80,1312.05 L542.80,1312.06 L543.80,1312.08 L544.80,1312.09 L545.80,1312.11 L546.80,1312.12 L547.80,1312.14 L548.80,1312.15 L549.80,1312.17 L550.80,1312.18 L551.80,1312.20 L552.80,1312.21 L553.80,1312.22 L554.80,1312.24 L555.80,1312.25 L556.80,1312.26 L557.80,1312.28 L558.80,1312.29 L559.80,1312.30 L560.80,1312.31 L561.80,1312.33 L562.80,1312.34 L563.80,1312.35 L564.80,1312.36 L565.80,1312.37 L566.80,1312.38 L567.80,1312.40 L568.80,1312.41 L569.80,1312.42 L570.80,1312.43 L571.80,1312.44 L572.80,1312.45 L573.80,1312.46 L574.80,1312.46 L575.80,1312.47 L576.80,1312.48 L577.80,1312.49 L578.80,1312.50 L579.80,1312.51 L580.80,1312.51 L581.80,1312.52 L582.80,1312.53 L583.80,1312.53 L584.80,1312.54 L585.80,1312.55 L586.80,1312.55 L587.80,1312.56 L588.80,1312.56 L589.80,1312.57 L590.80,1312.57 L591.80,1312.58 L592.80,1312.58 L593.80,1312.58 L594.80,1312.59 L595.80,1312.59 L596.80,1312.59 L597.80,1312.59 L598.80,1312.60 L599.80,1312.60 L600.80,1312.60 L601.30,1312.60" fill="none" stroke="#e3232b" stroke-width="3.8" stroke-linejoin="round"/>
<line x1="416.30" y1="1010.40" x2="475.20" y2="1010.40" stroke="#000" stroke-width="4" stroke-linecap="butt"/>
<line x1="417.30" y1="1047.90" x2="475.90" y2="1047.90" stroke="#e3232b" stroke-width="4" stroke-linecap="butt"/>
<text transform="translate(487.55,1017.90) scale(1.0581,1)" font-family='"Liberation Sans", Arial, Helvetica, sans-serif' font-size="26.00" font-weight="normal" font-style="normal" fill="#000" stroke="#000" stroke-width="0.35"><tspan font-size="26.00">Saline</tspan></text>
<text transform="translate(486.15,1058.80) scale(1.1059,1)" font-family='"Liberation Sans", Arial, Helvetica, sans-serif' font-size="26.00" font-weight="normal" font-style="normal" fill="#000" stroke="#000" stroke-width="0.35"><tspan font-size="26.00">IL-1</tspan><tspan font-size="26.00" font-family='"Liberation Serif", "Times New Roman", serif'>β</tspan></text>
<line x1="148.90" y1="1339.20" x2="218.00" y2="1339.20" stroke="#000" stroke-width="4" stroke-linecap="butt"/>
<text transform="translate(144.46,1368.10) scale(1.0284,1)" font-family='"Liberation Sans", Arial, Helvetica, sans-serif' font-size="26.00" font-weight="normal" font-style="normal" fill="#000" stroke="#000" stroke-width="0.35"><tspan font-size="26.00">20 ms</tspan></text>
<text transform="translate(738.58,952.70)" font-family='"Liberation Sans", Arial, Helvetica, sans-serif' font-size="26.00" font-weight="bold" font-style="normal" fill="#000" stroke="#000" stroke-width="0.35"><tspan font-size="26.00">e</tspan></text>
<line x1="850.30" y1="972.70" x2="850.30" y2="1153.40" stroke="#000" stroke-width="4.2" stroke-linecap="butt"/>
<line x1="841.80" y1="1151.40" x2="850.30" y2="1151.40" stroke="#000" stroke-width="4.2" stroke-linecap="butt"/>
<text transform="translate(817.53,1160.00) scale(1.1100,1)" font-family='"Liberation Sans", Arial, Helvetica, sans-serif' font-size="28.00" font-weight="normal" font-style="normal" fill="#000" stroke="#000" stroke-width="0.35"><tspan font-size="28.00">0</tspan></text>
<line x1="841.80" y1="1107.10" x2="850.30" y2="1107.10" stroke="#000" stroke-width="4.2" stroke-linecap="butt"/>
<text transform="translate(817.62,1115.70) scale(1.1100,1)" font-family='"Liberation Sans", Arial, Helvetica, sans-serif' font-size="28.00" font-weight="normal" font-style="normal" fill="#000" stroke="#000" stroke-width="0.35"><tspan font-size="28.00">5</tspan></text>
<line x1="841.80" y1="1062.80" x2="850.30" y2="1062.80" stroke="#000" stroke-width="4.2" stroke-linecap="butt"/>
<text transform="translate(800.24,1071.40) scale(1.1100,1)" font-family='"Liberation Sans", Arial, Helvetica, sans-serif' font-size="28.00" font-weight="normal" font-style="normal" fill="#000" stroke="#000" stroke-width="0.35"><tspan font-size="28.00">10</tspan></text>
<line x1="841.80" y1="1018.50" x2="850.30" y2="1018.50" stroke="#000" stroke-width="4.2" stroke-linecap="butt"/>
<text transform="translate(800.33,1027.10) scale(1.1100,1)" font-family='"Liberation Sans", Arial, Helvetica, sans-serif' font-size="28.00" font-weight="normal" font-style="normal" fill="#000" stroke="#000" stroke-width="0.35"><tspan font-size="28.00">15</tspan></text>
<line x1="841.80" y1="974.20" x2="850.30" y2="974.20" stroke="#000" stroke-width="4.2" stroke-linecap="butt"/>
<text transform="translate(800.24,982.80) scale(1.1100,1)" font-family='"Liberation Sans", Arial, Helvetica, sans-serif' font-size="28.00" font-weight="normal" font-style="normal" fill="#000" stroke="#000" stroke-width="0.35"><tspan font-size="28.00">20</tspan></text>
<line x1="845.80" y1="1129.25" x2="850.30" y2="1129.25" stroke="#000" stroke-width="3.7800000000000002" stroke-linecap="butt"/>
<line x1="845.80" y1="1084.95" x2="850.30" y2="1084.95" stroke="#000" stroke-width="3.7800000000000002" stroke-linecap="butt"/>
<line x1="845.80" y1="1040.65" x2="850.30" y2="1040.65" stroke="#000" stroke-width="3.7800000000000002" stroke-linecap="butt"/>
<line x1="845.80" y1="996.35" x2="850.30" y2="996.35" stroke="#000" stroke-width="3.7800000000000002" stroke-linecap="butt"/>
<text transform="translate(785.30,1149.45) rotate(-90) scale(0.9839,1)" font-family='"Liberation Sans", Arial, Helvetica, sans-serif' font-size="28.50" font-weight="normal" font-style="normal" fill="#000" stroke="#000" stroke-width="0.35"><tspan font-size="28.50">APD30 (ms)</tspan></text>
<path d="M960.80,983.50 L960.80,966.90 L1255.00,966.90 L1255.00,983.50" fill="none" stroke="#000" stroke-width="3.6" />
<text transform="translate(1043.43,954.60) scale(1.1314,1)" font-family='"Liberation Sans", Arial, Helvetica, sans-serif' font-size="27.00" font-weight="normal" font-style="normal" fill="#000" stroke="#000" stroke-width="0.35"><tspan font-size="27.00">p = 0.065</tspan></text>
<rect x="859.70" y="1022.50" width="32.50" height="86.10" fill="none" stroke="#000" stroke-width="3.6"/>
<line x1="859.70" y1="1095.70" x2="892.20" y2="1095.70" stroke="#000" stroke-width="3.6" stroke-linecap="butt"/>
<rect x="873.40" y="1073.40" width="4.60" height="4.60" fill="#fff" stroke="#000" stroke-width="1.2"/>
<ellipse cx="874.30" cy="1022.60" rx="6.20" ry="5.60" fill="#808080" stroke="#000" stroke-width="1.2"/>
<ellipse cx="876.10" cy="1095.40" rx="6.20" ry="5.60" fill="#808080" stroke="#000" stroke-width="1.2"/>
<ellipse cx="876.40" cy="1108.90" rx="6.20" ry="5.60" fill="#808080" stroke="#000" stroke-width="1.2"/>
<line x1="926.65" y1="1075.40" x2="926.65" y2="1086.00" stroke="#000" stroke-width="3.6" stroke-linecap="butt"/>
<line x1="926.65" y1="1075.40" x2="926.65" y2="1075.40" stroke="#000" stroke-width="3.6" stroke-linecap="butt"/>
<line x1="926.65" y1="1103.20" x2="926.65" y2="1113.10" stroke="#000" stroke-width="3.6" stroke-linecap="butt"/>
<line x1="926.65" y1="1113.10" x2="926.65" y2="1113.10" stroke="#000" stroke-width="3.6" stroke-linecap="butt"/>
<rect x="910.40" y="1086.00" width="32.50" height="17.20" fill="none" stroke="#000" stroke-width="3.6"/>
<line x1="910.40" y1="1093.60" x2="942.90" y2="1093.60" stroke="#000" stroke-width="3.6" stroke-linecap="butt"/>
<ellipse cx="925.40" cy="1075.40" rx="6.20" ry="5.60" fill="#808080" stroke="#000" stroke-width="1.2"/>
<ellipse cx="924.60" cy="1085.00" rx="6.20" ry="5.60" fill="#808080" stroke="#000" stroke-width="1.2"/>
<ellipse cx="925.40" cy="1093.10" rx="6.20" ry="5.60" fill="#808080" stroke="#000" stroke-width="1.2"/>
<ellipse cx="926.00" cy="1103.60" rx="6.20" ry="5.60" fill="#808080" stroke="#000" stroke-width="1.2"/>
<ellipse cx="924.00" cy="1113.10" rx="6.20" ry="5.60" fill="#808080" stroke="#000" stroke-width="1.2"/>
<line x1="977.70" y1="1061.80" x2="977.70" y2="1077.10" stroke="#000" stroke-width="3.6" stroke-linecap="butt"/>
<line x1="977.70" y1="1077.10" x2="977.70" y2="1077.10" stroke="#000" stroke-width="3.6" stroke-linecap="butt"/>
<rect x="961.50" y="1055.40" width="32.40" height="6.40" fill="none" stroke="#000" stroke-width="3.6"/>
<line x1="961.50" y1="1058.30" x2="993.90" y2="1058.30" stroke="#000" stroke-width="3.6" stroke-linecap="butt"/>
<ellipse cx="979.30" cy="1052.90" rx="6.20" ry="5.60" fill="#808080" stroke="#000" stroke-width="1.2"/>
<ellipse cx="972.90" cy="1061.40" rx="6.20" ry="5.60" fill="#808080" stroke="#000" stroke-width="1.2"/>
<ellipse cx="977.90" cy="1060.70" rx="6.20" ry="5.60" fill="#808080" stroke="#000" stroke-width="1.2"/>
<ellipse cx="980.70" cy="1077.40" rx="6.20" ry="5.60" fill="#808080" stroke="#000" stroke-width="1.2"/>
<line x1="1028.80" y1="1082.90" x2="1028.80" y2="1096.50" stroke="#000" stroke-width="3.6" stroke-linecap="butt"/>
<line x1="1028.80" y1="1082.90" x2="1028.80" y2="1082.90" stroke="#000" stroke-width="3.6" stroke-linecap="butt"/>
<line x1="1028.80" y1="1098.80" x2="1028.80" y2="1122.90" stroke="#000" stroke-width="3.6" stroke-linecap="butt"/>
<line x1="1028.80" y1="1122.90" x2="1028.80" y2="1122.90" stroke="#000" stroke-width="3.6" stroke-linecap="butt"/>
<rect x="1012.50" y="1096.50" width="32.60" height="2.30" fill="none" stroke="#000" stroke-width="3.6"/>
<ellipse cx="1029.30" cy="1082.60" rx="6.20" ry="5.60" fill="#808080" stroke="#000" stroke-width="1.2"/>
<ellipse cx="1031.40" cy="1096.40" rx="6.20" ry="5.60" fill="#808080" stroke="#000" stroke-width="1.2"/>
<ellipse cx="1024.30" cy="1098.60" rx="6.20" ry="5.60" fill="#808080" stroke="#000" stroke-width="1.2"/>
<ellipse cx="1033.90" cy="1122.90" rx="6.20" ry="5.60" fill="#808080" stroke="#000" stroke-width="1.2"/>
<line x1="1079.65" y1="1070.90" x2="1079.65" y2="1086.40" stroke="#e3232b" stroke-width="3.6" stroke-linecap="butt"/>
<line x1="1079.65" y1="1086.40" x2="1079.65" y2="1086.40" stroke="#e3232b" stroke-width="3.6" stroke-linecap="butt"/>
<rect x="1063.20" y="1034.60" width="32.90" height="36.30" fill="none" stroke="#e3232b" stroke-width="3.6"/>
<line x1="1063.20" y1="1057.10" x2="1096.10" y2="1057.10" stroke="#e3232b" stroke-width="3.6" stroke-linecap="butt"/>
<ellipse cx="1078.90" cy="1024.70" rx="6.20" ry="5.60" fill="#e3232b" stroke="#000" stroke-width="1.2"/>
<ellipse cx="1078.30" cy="1035.00" rx="6.20" ry="5.60" fill="#e3232b" stroke="#000" stroke-width="1.2"/>
<ellipse cx="1076.00" cy="1057.40" rx="6.20" ry="5.60" fill="#e3232b" stroke="#000" stroke-width="1.2"/>
<ellipse cx="1079.00" cy="1071.10" rx="6.20" ry="5.60" fill="#e3232b" stroke="#000" stroke-width="1.2"/>
<ellipse cx="1080.70" cy="1086.40" rx="6.20" ry="5.60" fill="#e3232b" stroke="#000" stroke-width="1.2"/>
<rect x="1114.50" y="1068.80" width="32.60" height="13.40" fill="none" stroke="#e3232b" stroke-width="3.6"/>
<line x1="1114.50" y1="1073.00" x2="1147.10" y2="1073.00" stroke="#e3232b" stroke-width="3.6" stroke-linecap="butt"/>
<line x1="1114.50" y1="1077.00" x2="1147.10" y2="1077.00" stroke="#e3232b" stroke-width="2.52" stroke-linecap="butt"/>
<ellipse cx="1124.50" cy="1061.30" rx="6.20" ry="5.60" fill="#e3232b" stroke="#000" stroke-width="1.2"/>
<ellipse cx="1131.30" cy="1068.30" rx="6.20" ry="5.60" fill="#e3232b" stroke="#000" stroke-width="1.2"/>
<ellipse cx="1130.80" cy="1074.30" rx="6.20" ry="5.60" fill="#e3232b" stroke="#000" stroke-width="1.2"/>
<ellipse cx="1127.20" cy="1082.10" rx="6.20" ry="5.60" fill="#e3232b" stroke="#000" stroke-width="1.2"/>
<ellipse cx="1133.20" cy="1084.30" rx="6.20" ry="5.60" fill="#e3232b" stroke="#000" stroke-width="1.2"/>
<line x1="1181.85" y1="1087.10" x2="1181.85" y2="1102.40" stroke="#e3232b" stroke-width="3.6" stroke-linecap="butt"/>
<line x1="1181.85" y1="1102.40" x2="1181.85" y2="1102.40" stroke="#e3232b" stroke-width="3.6" stroke-linecap="butt"/>
<rect x="1165.80" y="1066.40" width="32.10" height="20.70" fill="none" stroke="#e3232b" stroke-width="3.6"/>
<rect x="1179.30" y="1076.00" width="4.60" height="4.60" fill="#fff" stroke="#e3232b" stroke-width="1.2"/>
<ellipse cx="1175.20" cy="1065.20" rx="6.20" ry="5.60" fill="#e3232b" stroke="#000" stroke-width="1.2"/>
<ellipse cx="1179.80" cy="1064.30" rx="6.20" ry="5.60" fill="#e3232b" stroke="#000" stroke-width="1.2"/>
<ellipse cx="1183.90" cy="1069.20" rx="6.20" ry="5.60" fill="#e3232b" stroke="#000" stroke-width="1.2"/>
<ellipse cx="1186.10" cy="1087.90" rx="6.20" ry="5.60" fill="#e3232b" stroke="#000" stroke-width="1.2"/>
<ellipse cx="1183.00" cy="1101.90" rx="6.20" ry="5.60" fill="#e3232b" stroke="#000" stroke-width="1.2"/>
<line x1="1232.65" y1="1015.40" x2="1232.65" y2="1037.90" stroke="#e3232b" stroke-width="3.6" stroke-linecap="butt"/>
<line x1="1232.65" y1="1015.40" x2="1232.65" y2="1015.40" stroke="#e3232b" stroke-width="3.6" stroke-linecap="butt"/>
<line x1="1232.65" y1="1065.40" x2="1232.65" y2="1094.80" stroke="#e3232b" stroke-width="3.6" stroke-linecap="butt"/>
<line x1="1232.65" y1="1094.80" x2="1232.65" y2="1094.80" stroke="#e3232b" stroke-width="3.6" stroke-linecap="butt"/>
<rect x="1216.60" y="1037.90" width="32.10" height="27.50" fill="none" stroke="#e3232b" stroke-width="3.6"/>
<line x1="1216.60" y1="1055.30" x2="1248.70" y2="1055.30" stroke="#e3232b" stroke-width="3.6" stroke-linecap="butt"/>
<line x1="1216.60" y1="1059.80" x2="1248.70" y2="1059.80" stroke="#e3232b" stroke-width="2.52" stroke-linecap="butt"/>
<ellipse cx="1232.90" cy="1015.70" rx="6.20" ry="5.60" fill="#e3232b" stroke="#000" stroke-width="1.2"/>
<ellipse cx="1231.40" cy="1036.80" rx="6.20" ry="5.60" fill="#e3232b" stroke="#000" stroke-width="1.2"/>
<ellipse cx="1237.80" cy="1054.70" rx="6.20" ry="5.60" fill="#e3232b" stroke="#000" stroke-width="1.2"/>
<ellipse cx="1230.90" cy="1066.50" rx="6.20" ry="5.60" fill="#e3232b" stroke="#000" stroke-width="1.2"/>
<ellipse cx="1233.80" cy="1094.60" rx="6.20" ry="5.60" fill="#e3232b" stroke="#000" stroke-width="1.2"/>
<line x1="1283.65" y1="1044.40" x2="1283.65" y2="1080.90" stroke="#e3232b" stroke-width="3.6" stroke-linecap="butt"/>
<line x1="1283.65" y1="1044.40" x2="1283.65" y2="1044.40" stroke="#e3232b" stroke-width="3.6" stroke-linecap="butt"/>
<rect x="1267.30" y="1080.90" width="32.70" height="7.10" fill="none" stroke="#e3232b" stroke-width="3.6"/>
<line x1="1267.30" y1="1084.30" x2="1300.00" y2="1084.30" stroke="#e3232b" stroke-width="3.6" stroke-linecap="butt"/>
<ellipse cx="1285.30" cy="1044.40" rx="6.20" ry="5.60" fill="#e3232b" stroke="#000" stroke-width="1.2"/>
<ellipse cx="1281.30" cy="1080.70" rx="6.20" ry="5.60" fill="#e3232b" stroke="#000" stroke-width="1.2"/>
<ellipse cx="1284.40" cy="1089.40" rx="6.20" ry="5.60" fill="#e3232b" stroke="#000" stroke-width="1.2"/>
<rect x="1318.10" y="1066.40" width="33.00" height="9.80" fill="none" stroke="#e3232b" stroke-width="3.6"/>
<line x1="1318.10" y1="1070.10" x2="1351.10" y2="1070.10" stroke="#e3232b" stroke-width="3.6" stroke-linecap="butt"/>
<ellipse cx="1336.10" cy="1057.50" rx="6.20" ry="5.60" fill="#e3232b" stroke="#000" stroke-width="1.2"/>
<ellipse cx="1334.80" cy="1065.80" rx="6.20" ry="5.60" fill="#e3232b" stroke="#000" stroke-width="1.2"/>
<ellipse cx="1330.80" cy="1074.30" rx="6.20" ry="5.60" fill="#e3232b" stroke="#000" stroke-width="1.2"/>
<ellipse cx="1336.60" cy="1077.00" rx="6.20" ry="5.60" fill="#e3232b" stroke="#000" stroke-width="1.2"/>
<ellipse cx="1339.30" cy="1081.60" rx="6.20" ry="5.60" fill="#e3232b" stroke="#000" stroke-width="1.2"/>
<line x1="1385.55" y1="1044.80" x2="1385.55" y2="1061.10" stroke="#e3232b" stroke-width="3.6" stroke-linecap="butt"/>
<line x1="1385.55" y1="1044.80" x2="1385.55" y2="1044.80" stroke="#e3232b" stroke-width="3.6" stroke-linecap="butt"/>
<rect x="1369.20" y="1061.10" width="32.70" height="16.00" fill="none" stroke="#e3232b" stroke-width="3.6"/>
<line x1="1369.20" y1="1067.00" x2="1401.90" y2="1067.00" stroke="#e3232b" stroke-width="3.6" stroke-linecap="butt"/>
<line x1="1369.20" y1="1072.00" x2="1401.90" y2="1072.00" stroke="#e3232b" stroke-width="2.52" stroke-linecap="butt"/>
<ellipse cx="1387.90" cy="1044.80" rx="6.20" ry="5.60" fill="#e3232b" stroke="#000" stroke-width="1.2"/>
<ellipse cx="1387.40" cy="1060.70" rx="6.20" ry="5.60" fill="#e3232b" stroke="#000" stroke-width="1.2"/>
<ellipse cx="1384.60" cy="1069.80" rx="6.20" ry="5.60" fill="#e3232b" stroke="#000" stroke-width="1.2"/>
<ellipse cx="1382.30" cy="1077.00" rx="6.20" ry="5.60" fill="#e3232b" stroke="#000" stroke-width="1.2"/>
<ellipse cx="1383.40" cy="1085.20" rx="6.20" ry="5.60" fill="#e3232b" stroke="#000" stroke-width="1.2"/>
<line x1="850.30" y1="1175.90" x2="850.30" y2="1357.00" stroke="#000" stroke-width="4.2" stroke-linecap="butt"/>
<line x1="841.80" y1="1355.00" x2="850.30" y2="1355.00" stroke="#000" stroke-width="4.2" stroke-linecap="butt"/>
<text transform="translate(817.53,1363.60) scale(1.1100,1)" font-family='"Liberation Sans", Arial, Helvetica, sans-serif' font-size="28.00" font-weight="normal" font-style="normal" fill="#000" stroke="#000" stroke-width="0.35"><tspan font-size="28.00">0</tspan></text>
<line x1="841.80" y1="1310.60" x2="850.30" y2="1310.60" stroke="#000" stroke-width="4.2" stroke-linecap="butt"/>
<text transform="translate(817.62,1319.20) scale(1.1100,1)" font-family='"Liberation Sans", Arial, Helvetica, sans-serif' font-size="28.00" font-weight="normal" font-style="normal" fill="#000" stroke="#000" stroke-width="0.35"><tspan font-size="28.00">5</tspan></text>
<line x1="841.80" y1="1266.20" x2="850.30" y2="1266.20" stroke="#000" stroke-width="4.2" stroke-linecap="butt"/>
<text transform="translate(800.24,1274.80) scale(1.1100,1)" font-family='"Liberation Sans", Arial, Helvetica, sans-serif' font-size="28.00" font-weight="normal" font-style="normal" fill="#000" stroke="#000" stroke-width="0.35"><tspan font-size="28.00">10</tspan></text>
<line x1="841.80" y1="1221.80" x2="850.30" y2="1221.80" stroke="#000" stroke-width="4.2" stroke-linecap="butt"/>
<text transform="translate(800.33,1230.40) scale(1.1100,1)" font-family='"Liberation Sans", Arial, Helvetica, sans-serif' font-size="28.00" font-weight="normal" font-style="normal" fill="#000" stroke="#000" stroke-width="0.35"><tspan font-size="28.00">15</tspan></text>
<line x1="841.80" y1="1177.40" x2="850.30" y2="1177.40" stroke="#000" stroke-width="4.2" stroke-linecap="butt"/>
<text transform="translate(800.24,1186.00) scale(1.1100,1)" font-family='"Liberation Sans", Arial, Helvetica, sans-serif' font-size="28.00" font-weight="normal" font-style="normal" fill="#000" stroke="#000" stroke-width="0.35"><tspan font-size="28.00">20</tspan></text>
<line x1="845.80" y1="1332.80" x2="850.30" y2="1332.80" stroke="#000" stroke-width="3.7800000000000002" stroke-linecap="butt"/>
<line x1="845.80" y1="1288.40" x2="850.30" y2="1288.40" stroke="#000" stroke-width="3.7800000000000002" stroke-linecap="butt"/>
<line x1="845.80" y1="1244.00" x2="850.30" y2="1244.00" stroke="#000" stroke-width="3.7800000000000002" stroke-linecap="butt"/>
<line x1="845.80" y1="1199.60" x2="850.30" y2="1199.60" stroke="#000" stroke-width="3.7800000000000002" stroke-linecap="butt"/>
<text transform="translate(784.80,1352.66) rotate(-90) scale(0.9885,1)" font-family='"Liberation Sans", Arial, Helvetica, sans-serif' font-size="28.50" font-weight="normal" font-style="normal" fill="#000" stroke="#000" stroke-width="0.35"><tspan font-size="28.50">APD30 (ms)</tspan></text>
<line x1="965.00" y1="1273.20" x2="965.00" y2="1299.90" stroke="#000" stroke-width="3" stroke-linecap="butt"/>
<line x1="937.80" y1="1273.20" x2="992.20" y2="1273.20" stroke="#000" stroke-width="4.2" stroke-linecap="round"/>
<line x1="937.80" y1="1299.90" x2="992.20" y2="1299.90" stroke="#000" stroke-width="4.2" stroke-linecap="round"/>
<ellipse cx="964.90" cy="1286.70" rx="6.20" ry="5.60" fill="#808080" stroke="#000" stroke-width="1.1"/>
<line x1="1232.60" y1="1261.30" x2="1232.60" y2="1281.10" stroke="#e3232b" stroke-width="3" stroke-linecap="butt"/>
<line x1="1204.90" y1="1261.30" x2="1260.30" y2="1261.30" stroke="#e3232b" stroke-width="4.2" stroke-linecap="round"/>
<line x1="1204.90" y1="1281.10" x2="1260.30" y2="1281.10" stroke="#e3232b" stroke-width="4.2" stroke-linecap="round"/>
<ellipse cx="1232.20" cy="1271.20" rx="6.20" ry="5.60" fill="#e3232b" stroke="#000" stroke-width="1.1"/>
<text transform="translate(924.58,1325.30) scale(1.0403,1)" font-family='"Liberation Sans", Arial, Helvetica, sans-serif' font-size="23.00" font-weight="normal" font-style="normal" fill="#000" stroke="#000" stroke-width="0.35"><tspan font-size="23.00">cells=18</tspan></text>
<text transform="translate(924.68,1357.60) scale(1.0581,1)" font-family='"Liberation Sans", Arial, Helvetica, sans-serif' font-size="23.00" font-weight="normal" font-style="normal" fill="#000" stroke="#000" stroke-width="0.35"><tspan font-size="23.00">mice=4</tspan></text>
<text transform="translate(922.68,1383.30) scale(1.0753,1)" font-family='"Liberation Sans", Arial, Helvetica, sans-serif' font-size="27.00" font-weight="normal" font-style="normal" fill="#000" stroke="#000" stroke-width="0.35"><tspan font-size="27.00">Saline</tspan></text>
<text transform="translate(1193.28,1325.30) scale(1.0399,1)" font-family='"Liberation Sans", Arial, Helvetica, sans-serif' font-size="23.00" font-weight="normal" font-style="normal" fill="#000" stroke="#000" stroke-width="0.35"><tspan font-size="23.00">cells=35</tspan></text>
<text transform="translate(1192.66,1357.60) scale(1.0707,1)" font-family='"Liberation Sans", Arial, Helvetica, sans-serif' font-size="23.00" font-weight="normal" font-style="normal" fill="#000" stroke="#000" stroke-width="0.35"><tspan font-size="23.00">mice=7</tspan></text>
<text transform="translate(1194.81,1383.30) scale(1.1179,1)" font-family='"Liberation Sans", Arial, Helvetica, sans-serif' font-size="27.00" font-weight="normal" font-style="normal" fill="#000" stroke="#000" stroke-width="0.35"><tspan font-size="27.00">IL-1</tspan><tspan font-size="27.00" font-family='"Liberation Serif", "Times New Roman", serif'>β</tspan></text>
<line x1="1630.80" y1="972.80" x2="1630.80" y2="1153.60" stroke="#000" stroke-width="4.2" stroke-linecap="butt"/>
<line x1="1622.30" y1="1151.60" x2="1630.80" y2="1151.60" stroke="#000" stroke-width="4.2" stroke-linecap="butt"/>
<text transform="translate(1597.43,1160.20) scale(1.1100,1)" font-family='"Liberation Sans", Arial, Helvetica, sans-serif' font-size="28.00" font-weight="normal" font-style="normal" fill="#000" stroke="#000" stroke-width="0.35"><tspan font-size="28.00">0</tspan></text>
<line x1="1622.30" y1="1092.50" x2="1630.80" y2="1092.50" stroke="#000" stroke-width="4.2" stroke-linecap="butt"/>
<text transform="translate(1580.14,1101.10) scale(1.1100,1)" font-family='"Liberation Sans", Arial, Helvetica, sans-serif' font-size="28.00" font-weight="normal" font-style="normal" fill="#000" stroke="#000" stroke-width="0.35"><tspan font-size="28.00">10</tspan></text>
<line x1="1622.30" y1="1033.40" x2="1630.80" y2="1033.40" stroke="#000" stroke-width="4.2" stroke-linecap="butt"/>
<text transform="translate(1580.14,1042.00) scale(1.1100,1)" font-family='"Liberation Sans", Arial, Helvetica, sans-serif' font-size="28.00" font-weight="normal" font-style="normal" fill="#000" stroke="#000" stroke-width="0.35"><tspan font-size="28.00">20</tspan></text>
<line x1="1622.30" y1="974.30" x2="1630.80" y2="974.30" stroke="#000" stroke-width="4.2" stroke-linecap="butt"/>
<text transform="translate(1580.14,982.90) scale(1.1100,1)" font-family='"Liberation Sans", Arial, Helvetica, sans-serif' font-size="28.00" font-weight="normal" font-style="normal" fill="#000" stroke="#000" stroke-width="0.35"><tspan font-size="28.00">30</tspan></text>
<line x1="1626.30" y1="1122.05" x2="1630.80" y2="1122.05" stroke="#000" stroke-width="3.7800000000000002" stroke-linecap="butt"/>
<line x1="1626.30" y1="1062.95" x2="1630.80" y2="1062.95" stroke="#000" stroke-width="3.7800000000000002" stroke-linecap="butt"/>
<line x1="1626.30" y1="1003.85" x2="1630.80" y2="1003.85" stroke="#000" stroke-width="3.7800000000000002" stroke-linecap="butt"/>
<text transform="translate(1564.50,1174.06) rotate(-90)" font-family='"Liberation Sans", Arial, Helvetica, sans-serif' font-size="28.50" font-weight="normal" font-style="normal" fill="#000" stroke="#000" stroke-width="0.35"><tspan font-size="28.50">APD50 (ms)</tspan></text>
<path d="M1741.90,982.30 L1741.90,965.80 L2035.80,965.80 L2035.80,982.30" fill="none" stroke="#000" stroke-width="3.6" />
<text transform="translate(1825.32,954.80) scale(1.1365,1)" font-family='"Liberation Sans", Arial, Helvetica, sans-serif' font-size="27.00" font-weight="normal" font-style="normal" fill="#000" stroke="#000" stroke-width="0.35"><tspan font-size="27.00">p = 0.012</tspan></text>
<rect x="1640.00" y="1018.00" width="32.00" height="81.50" fill="none" stroke="#000" stroke-width="3.6"/>
<line x1="1640.00" y1="1090.10" x2="1672.00" y2="1090.10" stroke="#000" stroke-width="3.6" stroke-linecap="butt"/>
<rect x="1653.20" y="1067.10" width="4.60" height="4.60" fill="#fff" stroke="#000" stroke-width="1.2"/>
<ellipse cx="1654.50" cy="1017.90" rx="6.20" ry="5.60" fill="#808080" stroke="#000" stroke-width="1.2"/>
<ellipse cx="1656.40" cy="1089.70" rx="6.20" ry="5.60" fill="#808080" stroke="#000" stroke-width="1.2"/>
<ellipse cx="1656.70" cy="1100.10" rx="6.20" ry="5.60" fill="#808080" stroke="#000" stroke-width="1.2"/>
<line x1="1704.90" y1="1063.40" x2="1704.90" y2="1082.70" stroke="#000" stroke-width="3.6" stroke-linecap="butt"/>
<line x1="1704.90" y1="1063.40" x2="1704.90" y2="1063.40" stroke="#000" stroke-width="3.6" stroke-linecap="butt"/>
<rect x="1688.90" y="1082.70" width="32.00" height="13.00" fill="none" stroke="#000" stroke-width="3.6"/>
<line x1="1688.90" y1="1087.50" x2="1720.90" y2="1087.50" stroke="#000" stroke-width="3.6" stroke-linecap="butt"/>
<ellipse cx="1703.90" cy="1063.40" rx="6.20" ry="5.60" fill="#808080" stroke="#000" stroke-width="1.2"/>
<ellipse cx="1702.70" cy="1080.50" rx="6.20" ry="5.60" fill="#808080" stroke="#000" stroke-width="1.2"/>
<ellipse cx="1703.40" cy="1086.70" rx="6.20" ry="5.60" fill="#808080" stroke="#000" stroke-width="1.2"/>
<ellipse cx="1704.90" cy="1095.60" rx="6.20" ry="5.60" fill="#808080" stroke="#000" stroke-width="1.2"/>
<ellipse cx="1702.00" cy="1100.50" rx="6.20" ry="5.60" fill="#808080" stroke="#000" stroke-width="1.2"/>
<line x1="1753.90" y1="1053.60" x2="1753.90" y2="1071.60" stroke="#000" stroke-width="3.6" stroke-linecap="butt"/>
<line x1="1753.90" y1="1071.60" x2="1753.90" y2="1071.60" stroke="#000" stroke-width="3.6" stroke-linecap="butt"/>
<rect x="1737.90" y="1050.00" width="32.00" height="3.60" fill="none" stroke="#000" stroke-width="3.6"/>
<ellipse cx="1755.40" cy="1042.20" rx="6.20" ry="5.60" fill="#808080" stroke="#000" stroke-width="1.2"/>
<ellipse cx="1751.50" cy="1052.00" rx="6.20" ry="5.60" fill="#808080" stroke="#000" stroke-width="1.2"/>
<ellipse cx="1753.90" cy="1050.10" rx="6.20" ry="5.60" fill="#808080" stroke="#000" stroke-width="1.2"/>
<ellipse cx="1756.80" cy="1071.60" rx="6.20" ry="5.60" fill="#808080" stroke="#000" stroke-width="1.2"/>
<line x1="1802.80" y1="1088.80" x2="1802.80" y2="1114.60" stroke="#000" stroke-width="3.6" stroke-linecap="butt"/>
<line x1="1802.80" y1="1114.60" x2="1802.80" y2="1114.60" stroke="#000" stroke-width="3.6" stroke-linecap="butt"/>
<rect x="1786.80" y="1084.80" width="32.00" height="4.00" fill="none" stroke="#000" stroke-width="3.6"/>
<ellipse cx="1803.30" cy="1080.80" rx="6.20" ry="5.60" fill="#808080" stroke="#000" stroke-width="1.2"/>
<ellipse cx="1808.00" cy="1084.90" rx="6.20" ry="5.60" fill="#808080" stroke="#000" stroke-width="1.2"/>
<ellipse cx="1798.40" cy="1089.10" rx="6.20" ry="5.60" fill="#808080" stroke="#000" stroke-width="1.2"/>
<ellipse cx="1807.70" cy="1114.60" rx="6.20" ry="5.60" fill="#808080" stroke="#000" stroke-width="1.2"/>
<line x1="1852.00" y1="1057.70" x2="1852.00" y2="1074.60" stroke="#e3232b" stroke-width="3.6" stroke-linecap="butt"/>
<line x1="1852.00" y1="1074.60" x2="1852.00" y2="1074.60" stroke="#e3232b" stroke-width="3.6" stroke-linecap="butt"/>
<rect x="1836.20" y="1024.30" width="31.60" height="33.40" fill="none" stroke="#e3232b" stroke-width="3.6"/>
<line x1="1836.20" y1="1042.90" x2="1867.80" y2="1042.90" stroke="#e3232b" stroke-width="3.6" stroke-linecap="butt"/>
<ellipse cx="1850.70" cy="1017.90" rx="6.20" ry="5.60" fill="#e3232b" stroke="#000" stroke-width="1.2"/>
<ellipse cx="1850.30" cy="1024.10" rx="6.20" ry="5.60" fill="#e3232b" stroke="#000" stroke-width="1.2"/>
<ellipse cx="1848.10" cy="1043.10" rx="6.20" ry="5.60" fill="#e3232b" stroke="#000" stroke-width="1.2"/>
<ellipse cx="1851.00" cy="1057.50" rx="6.20" ry="5.60" fill="#e3232b" stroke="#000" stroke-width="1.2"/>
<ellipse cx="1852.80" cy="1074.60" rx="6.20" ry="5.60" fill="#e3232b" stroke="#000" stroke-width="1.2"/>
<rect x="1885.10" y="1059.50" width="31.70" height="11.50" fill="none" stroke="#e3232b" stroke-width="3.6"/>
<line x1="1885.10" y1="1063.00" x2="1916.80" y2="1063.00" stroke="#e3232b" stroke-width="3.6" stroke-linecap="butt"/>
<ellipse cx="1895.10" cy="1054.20" rx="6.20" ry="5.60" fill="#e3232b" stroke="#000" stroke-width="1.2"/>
<ellipse cx="1901.50" cy="1059.80" rx="6.20" ry="5.60" fill="#e3232b" stroke="#000" stroke-width="1.2"/>
<ellipse cx="1899.00" cy="1064.50" rx="6.20" ry="5.60" fill="#e3232b" stroke="#000" stroke-width="1.2"/>
<ellipse cx="1902.30" cy="1071.00" rx="6.20" ry="5.60" fill="#e3232b" stroke="#000" stroke-width="1.2"/>
<ellipse cx="1897.80" cy="1073.70" rx="6.20" ry="5.60" fill="#e3232b" stroke="#000" stroke-width="1.2"/>
<line x1="1950.05" y1="1063.60" x2="1950.05" y2="1088.70" stroke="#e3232b" stroke-width="3.6" stroke-linecap="butt"/>
<line x1="1950.05" y1="1088.70" x2="1950.05" y2="1088.70" stroke="#e3232b" stroke-width="3.6" stroke-linecap="butt"/>
<rect x="1934.20" y="1056.90" width="31.70" height="6.70" fill="none" stroke="#e3232b" stroke-width="3.6"/>
<ellipse cx="1944.30" cy="1052.60" rx="6.20" ry="5.60" fill="#e3232b" stroke="#000" stroke-width="1.2"/>
<ellipse cx="1948.00" cy="1055.80" rx="6.20" ry="5.60" fill="#e3232b" stroke="#000" stroke-width="1.2"/>
<ellipse cx="1955.20" cy="1057.40" rx="6.20" ry="5.60" fill="#e3232b" stroke="#000" stroke-width="1.2"/>
<ellipse cx="1952.00" cy="1063.80" rx="6.20" ry="5.60" fill="#e3232b" stroke="#000" stroke-width="1.2"/>
<ellipse cx="1951.70" cy="1088.70" rx="6.20" ry="5.60" fill="#e3232b" stroke="#000" stroke-width="1.2"/>
<line x1="1999.10" y1="1004.10" x2="1999.10" y2="1027.50" stroke="#e3232b" stroke-width="3.6" stroke-linecap="butt"/>
<line x1="1999.10" y1="1004.10" x2="1999.10" y2="1004.10" stroke="#e3232b" stroke-width="3.6" stroke-linecap="butt"/>
<line x1="1999.10" y1="1050.40" x2="1999.10" y2="1083.10" stroke="#e3232b" stroke-width="3.6" stroke-linecap="butt"/>
<line x1="1999.10" y1="1083.10" x2="1999.10" y2="1083.10" stroke="#e3232b" stroke-width="3.6" stroke-linecap="butt"/>
<rect x="1983.50" y="1027.50" width="31.20" height="22.90" fill="none" stroke="#e3232b" stroke-width="3.6"/>
<line x1="1983.50" y1="1041.50" x2="2014.70" y2="1041.50" stroke="#e3232b" stroke-width="3.6" stroke-linecap="butt"/>
<ellipse cx="1999.30" cy="1004.10" rx="6.20" ry="5.60" fill="#e3232b" stroke="#000" stroke-width="1.2"/>
<ellipse cx="1998.20" cy="1026.60" rx="6.20" ry="5.60" fill="#e3232b" stroke="#000" stroke-width="1.2"/>
<ellipse cx="2004.20" cy="1045.40" rx="6.20" ry="5.60" fill="#e3232b" stroke="#000" stroke-width="1.2"/>
<ellipse cx="1997.30" cy="1051.80" rx="6.20" ry="5.60" fill="#e3232b" stroke="#000" stroke-width="1.2"/>
<ellipse cx="2000.50" cy="1083.10" rx="6.20" ry="5.60" fill="#e3232b" stroke="#000" stroke-width="1.2"/>
<line x1="2048.10" y1="1033.30" x2="2048.10" y2="1064.60" stroke="#e3232b" stroke-width="3.6" stroke-linecap="butt"/>
<line x1="2048.10" y1="1033.30" x2="2048.10" y2="1033.30" stroke="#e3232b" stroke-width="3.6" stroke-linecap="butt"/>
<rect x="2032.40" y="1064.60" width="31.40" height="5.60" fill="none" stroke="#e3232b" stroke-width="3.6"/>
<ellipse cx="2049.90" cy="1033.30" rx="6.20" ry="5.60" fill="#e3232b" stroke="#000" stroke-width="1.2"/>
<ellipse cx="2045.40" cy="1064.10" rx="6.20" ry="5.60" fill="#e3232b" stroke="#000" stroke-width="1.2"/>
<ellipse cx="2048.60" cy="1071.50" rx="6.20" ry="5.60" fill="#e3232b" stroke="#000" stroke-width="1.2"/>
<rect x="2081.40" y="1044.00" width="31.30" height="18.40" fill="none" stroke="#e3232b" stroke-width="3.6"/>
<line x1="2081.40" y1="1055.80" x2="2112.70" y2="1055.80" stroke="#e3232b" stroke-width="3.6" stroke-linecap="butt"/>
<ellipse cx="2098.30" cy="1036.50" rx="6.20" ry="5.60" fill="#e3232b" stroke="#000" stroke-width="1.2"/>
<ellipse cx="2096.40" cy="1042.90" rx="6.20" ry="5.60" fill="#e3232b" stroke="#000" stroke-width="1.2"/>
<ellipse cx="2101.20" cy="1054.50" rx="6.20" ry="5.60" fill="#e3232b" stroke="#000" stroke-width="1.2"/>
<ellipse cx="2093.50" cy="1063.50" rx="6.20" ry="5.60" fill="#e3232b" stroke="#000" stroke-width="1.2"/>
<ellipse cx="2097.70" cy="1067.80" rx="6.20" ry="5.60" fill="#e3232b" stroke="#000" stroke-width="1.2"/>
<line x1="2145.75" y1="1017.30" x2="2145.75" y2="1033.20" stroke="#e3232b" stroke-width="3.6" stroke-linecap="butt"/>
<line x1="2145.75" y1="1017.30" x2="2145.75" y2="1017.30" stroke="#e3232b" stroke-width="3.6" stroke-linecap="butt"/>
<rect x="2130.30" y="1033.20" width="30.90" height="9.40" fill="none" stroke="#e3232b" stroke-width="3.6"/>
<ellipse cx="2148.50" cy="1017.30" rx="6.20" ry="5.60" fill="#e3232b" stroke="#000" stroke-width="1.2"/>
<ellipse cx="2147.70" cy="1033.00" rx="6.20" ry="5.60" fill="#e3232b" stroke="#000" stroke-width="1.2"/>
<ellipse cx="2144.50" cy="1042.10" rx="6.20" ry="5.60" fill="#e3232b" stroke="#000" stroke-width="1.2"/>
<ellipse cx="2143.70" cy="1049.40" rx="6.20" ry="5.60" fill="#e3232b" stroke="#000" stroke-width="1.2"/>
<line x1="1631.00" y1="1176.30" x2="1631.00" y2="1358.00" stroke="#000" stroke-width="4.2" stroke-linecap="butt"/>
<line x1="1622.50" y1="1356.00" x2="1631.00" y2="1356.00" stroke="#000" stroke-width="4.2" stroke-linecap="butt"/>
<text transform="translate(1597.43,1364.60) scale(1.1100,1)" font-family='"Liberation Sans", Arial, Helvetica, sans-serif' font-size="28.00" font-weight="normal" font-style="normal" fill="#000" stroke="#000" stroke-width="0.35"><tspan font-size="28.00">0</tspan></text>
<line x1="1622.50" y1="1296.60" x2="1631.00" y2="1296.60" stroke="#000" stroke-width="4.2" stroke-linecap="butt"/>
<text transform="translate(1580.14,1305.20) scale(1.1100,1)" font-family='"Liberation Sans", Arial, Helvetica, sans-serif' font-size="28.00" font-weight="normal" font-style="normal" fill="#000" stroke="#000" stroke-width="0.35"><tspan font-size="28.00">10</tspan></text>
<line x1="1622.50" y1="1237.20" x2="1631.00" y2="1237.20" stroke="#000" stroke-width="4.2" stroke-linecap="butt"/>
<text transform="translate(1580.14,1245.80) scale(1.1100,1)" font-family='"Liberation Sans", Arial, Helvetica, sans-serif' font-size="28.00" font-weight="normal" font-style="normal" fill="#000" stroke="#000" stroke-width="0.35"><tspan font-size="28.00">20</tspan></text>
<line x1="1622.50" y1="1177.80" x2="1631.00" y2="1177.80" stroke="#000" stroke-width="4.2" stroke-linecap="butt"/>
<text transform="translate(1580.14,1186.40) scale(1.1100,1)" font-family='"Liberation Sans", Arial, Helvetica, sans-serif' font-size="28.00" font-weight="normal" font-style="normal" fill="#000" stroke="#000" stroke-width="0.35"><tspan font-size="28.00">30</tspan></text>
<line x1="1626.50" y1="1326.30" x2="1631.00" y2="1326.30" stroke="#000" stroke-width="3.7800000000000002" stroke-linecap="butt"/>
<line x1="1626.50" y1="1266.90" x2="1631.00" y2="1266.90" stroke="#000" stroke-width="3.7800000000000002" stroke-linecap="butt"/>
<line x1="1626.50" y1="1207.50" x2="1631.00" y2="1207.50" stroke="#000" stroke-width="3.7800000000000002" stroke-linecap="butt"/>
<text transform="translate(1564.50,1352.66) rotate(-90) scale(0.9885,1)" font-family='"Liberation Sans", Arial, Helvetica, sans-serif' font-size="28.50" font-weight="normal" font-style="normal" fill="#000" stroke="#000" stroke-width="0.35"><tspan font-size="28.50">APD50 (ms)</tspan></text>
<line x1="1746.45" y1="1264.60" x2="1746.45" y2="1292.30" stroke="#000" stroke-width="3" stroke-linecap="butt"/>
<line x1="1719.60" y1="1264.60" x2="1773.30" y2="1264.60" stroke="#000" stroke-width="4.2" stroke-linecap="round"/>
<line x1="1719.60" y1="1292.30" x2="1773.30" y2="1292.30" stroke="#000" stroke-width="4.2" stroke-linecap="round"/>
<ellipse cx="1745.90" cy="1278.50" rx="6.20" ry="5.60" fill="#808080" stroke="#000" stroke-width="1.1"/>
<line x1="2014.65" y1="1244.80" x2="2014.65" y2="1265.60" stroke="#e3232b" stroke-width="3" stroke-linecap="butt"/>
<line x1="1987.60" y1="1244.80" x2="2041.70" y2="1244.80" stroke="#e3232b" stroke-width="4.2" stroke-linecap="round"/>
<line x1="1987.60" y1="1265.60" x2="2041.70" y2="1265.60" stroke="#e3232b" stroke-width="4.2" stroke-linecap="round"/>
<ellipse cx="2014.00" cy="1255.40" rx="6.20" ry="5.60" fill="#e3232b" stroke="#000" stroke-width="1.1"/>
<text transform="translate(1703.08,1325.30) scale(1.0391,1)" font-family='"Liberation Sans", Arial, Helvetica, sans-serif' font-size="23.00" font-weight="normal" font-style="normal" fill="#000" stroke="#000" stroke-width="0.35"><tspan font-size="23.00">cells=18</tspan></text>
<text transform="translate(1702.48,1357.60) scale(1.0622,1)" font-family='"Liberation Sans", Arial, Helvetica, sans-serif' font-size="23.00" font-weight="normal" font-style="normal" fill="#000" stroke="#000" stroke-width="0.35"><tspan font-size="23.00">mice=4</tspan></text>
<text transform="translate(1703.37,1383.30) scale(1.0808,1)" font-family='"Liberation Sans", Arial, Helvetica, sans-serif' font-size="27.00" font-weight="normal" font-style="normal" fill="#000" stroke="#000" stroke-width="0.35"><tspan font-size="27.00">Saline</tspan></text>
<text transform="translate(1965.79,1325.30) scale(1.0315,1)" font-family='"Liberation Sans", Arial, Helvetica, sans-serif' font-size="23.00" font-weight="normal" font-style="normal" fill="#000" stroke="#000" stroke-width="0.35"><tspan font-size="23.00">cells=35</tspan></text>
<text transform="translate(1965.17,1357.60) scale(1.0652,1)" font-family='"Liberation Sans", Arial, Helvetica, sans-serif' font-size="23.00" font-weight="normal" font-style="normal" fill="#000" stroke="#000" stroke-width="0.35"><tspan font-size="23.00">mice=7</tspan></text>
<text transform="translate(1972.17,1383.30) scale(1.1373,1)" font-family='"Liberation Sans", Arial, Helvetica, sans-serif' font-size="27.00" font-weight="normal" font-style="normal" fill="#000" stroke="#000" stroke-width="0.35"><tspan font-size="27.00">IL-1</tspan><tspan font-size="27.00" font-family='"Liberation Serif", "Times New Roman", serif'>β</tspan></text>
<line x1="850.80" y1="1448.30" x2="850.80" y2="1630.80" stroke="#000" stroke-width="4.2" stroke-linecap="butt"/>
<line x1="842.30" y1="1628.80" x2="850.80" y2="1628.80" stroke="#000" stroke-width="4.2" stroke-linecap="butt"/>
<text transform="translate(817.73,1637.40) scale(1.1100,1)" font-family='"Liberation Sans", Arial, Helvetica, sans-serif' font-size="28.00" font-weight="normal" font-style="normal" fill="#000" stroke="#000" stroke-width="0.35"><tspan font-size="28.00">0</tspan></text>
<line x1="842.30" y1="1593.00" x2="850.80" y2="1593.00" stroke="#000" stroke-width="4.2" stroke-linecap="butt"/>
<text transform="translate(800.44,1601.60) scale(1.1100,1)" font-family='"Liberation Sans", Arial, Helvetica, sans-serif' font-size="28.00" font-weight="normal" font-style="normal" fill="#000" stroke="#000" stroke-width="0.35"><tspan font-size="28.00">10</tspan></text>
<line x1="842.30" y1="1557.20" x2="850.80" y2="1557.20" stroke="#000" stroke-width="4.2" stroke-linecap="butt"/>
<text transform="translate(800.44,1565.80) scale(1.1100,1)" font-family='"Liberation Sans", Arial, Helvetica, sans-serif' font-size="28.00" font-weight="normal" font-style="normal" fill="#000" stroke="#000" stroke-width="0.35"><tspan font-size="28.00">20</tspan></text>
<line x1="842.30" y1="1521.40" x2="850.80" y2="1521.40" stroke="#000" stroke-width="4.2" stroke-linecap="butt"/>
<text transform="translate(800.44,1530.00) scale(1.1100,1)" font-family='"Liberation Sans", Arial, Helvetica, sans-serif' font-size="28.00" font-weight="normal" font-style="normal" fill="#000" stroke="#000" stroke-width="0.35"><tspan font-size="28.00">30</tspan></text>
<line x1="842.30" y1="1485.60" x2="850.80" y2="1485.60" stroke="#000" stroke-width="4.2" stroke-linecap="butt"/>
<text transform="translate(800.44,1494.20) scale(1.1100,1)" font-family='"Liberation Sans", Arial, Helvetica, sans-serif' font-size="28.00" font-weight="normal" font-style="normal" fill="#000" stroke="#000" stroke-width="0.35"><tspan font-size="28.00">40</tspan></text>
<line x1="842.30" y1="1449.80" x2="850.80" y2="1449.80" stroke="#000" stroke-width="4.2" stroke-linecap="butt"/>
<text transform="translate(800.44,1458.40) scale(1.1100,1)" font-family='"Liberation Sans", Arial, Helvetica, sans-serif' font-size="28.00" font-weight="normal" font-style="normal" fill="#000" stroke="#000" stroke-width="0.35"><tspan font-size="28.00">50</tspan></text>
<line x1="846.30" y1="1610.90" x2="850.80" y2="1610.90" stroke="#000" stroke-width="3.7800000000000002" stroke-linecap="butt"/>
<line x1="846.30" y1="1575.10" x2="850.80" y2="1575.10" stroke="#000" stroke-width="3.7800000000000002" stroke-linecap="butt"/>
<line x1="846.30" y1="1539.30" x2="850.80" y2="1539.30" stroke="#000" stroke-width="3.7800000000000002" stroke-linecap="butt"/>
<line x1="846.30" y1="1503.50" x2="850.80" y2="1503.50" stroke="#000" stroke-width="3.7800000000000002" stroke-linecap="butt"/>
<line x1="846.30" y1="1467.70" x2="850.80" y2="1467.70" stroke="#000" stroke-width="3.7800000000000002" stroke-linecap="butt"/>
<text transform="translate(784.80,1626.95) rotate(-90) scale(0.9656,1)" font-family='"Liberation Sans", Arial, Helvetica, sans-serif' font-size="28.50" font-weight="normal" font-style="normal" fill="#000" stroke="#000" stroke-width="0.35"><tspan font-size="28.50">APD70 (ms)</tspan></text>
<path d="M960.80,1460.80 L960.80,1443.10 L1256.20,1443.10 L1256.20,1460.80" fill="none" stroke="#000" stroke-width="3.6" />
<text transform="translate(1043.41,1432.70) scale(1.1419,1)" font-family='"Liberation Sans", Arial, Helvetica, sans-serif' font-size="27.00" font-weight="normal" font-style="normal" fill="#000" stroke="#000" stroke-width="0.35"><tspan font-size="27.00">p = 0.003</tspan></text>
<rect x="859.50" y="1502.70" width="31.30" height="75.30" fill="none" stroke="#000" stroke-width="3.6"/>
<line x1="859.50" y1="1571.00" x2="890.80" y2="1571.00" stroke="#000" stroke-width="3.6" stroke-linecap="butt"/>
<rect x="872.80" y="1548.00" width="4.60" height="4.60" fill="#fff" stroke="#000" stroke-width="1.2"/>
<ellipse cx="873.10" cy="1502.30" rx="6.20" ry="5.60" fill="#808080" stroke="#000" stroke-width="1.2"/>
<ellipse cx="875.40" cy="1570.00" rx="6.20" ry="5.60" fill="#808080" stroke="#000" stroke-width="1.2"/>
<ellipse cx="875.80" cy="1578.50" rx="6.20" ry="5.60" fill="#808080" stroke="#000" stroke-width="1.2"/>
<line x1="924.30" y1="1541.10" x2="924.30" y2="1562.50" stroke="#000" stroke-width="3.6" stroke-linecap="butt"/>
<line x1="924.30" y1="1541.10" x2="924.30" y2="1541.10" stroke="#000" stroke-width="3.6" stroke-linecap="butt"/>
<rect x="908.40" y="1562.50" width="31.80" height="12.10" fill="none" stroke="#000" stroke-width="3.6"/>
<line x1="908.40" y1="1566.00" x2="940.20" y2="1566.00" stroke="#000" stroke-width="3.6" stroke-linecap="butt"/>
<ellipse cx="923.10" cy="1541.10" rx="6.20" ry="5.60" fill="#808080" stroke="#000" stroke-width="1.2"/>
<ellipse cx="922.30" cy="1560.80" rx="6.20" ry="5.60" fill="#808080" stroke="#000" stroke-width="1.2"/>
<ellipse cx="923.10" cy="1565.40" rx="6.20" ry="5.60" fill="#808080" stroke="#000" stroke-width="1.2"/>
<ellipse cx="921.50" cy="1574.30" rx="6.20" ry="5.60" fill="#808080" stroke="#000" stroke-width="1.2"/>
<line x1="972.85" y1="1533.40" x2="972.85" y2="1553.80" stroke="#000" stroke-width="3.6" stroke-linecap="butt"/>
<line x1="972.85" y1="1553.80" x2="972.85" y2="1553.80" stroke="#000" stroke-width="3.6" stroke-linecap="butt"/>
<rect x="957.20" y="1522.00" width="31.30" height="11.40" fill="none" stroke="#000" stroke-width="3.6"/>
<line x1="957.20" y1="1524.50" x2="988.50" y2="1524.50" stroke="#000" stroke-width="3.6" stroke-linecap="butt"/>
<ellipse cx="974.90" cy="1512.80" rx="6.20" ry="5.60" fill="#808080" stroke="#000" stroke-width="1.2"/>
<ellipse cx="969.20" cy="1523.80" rx="6.20" ry="5.60" fill="#808080" stroke="#000" stroke-width="1.2"/>
<ellipse cx="973.10" cy="1521.50" rx="6.20" ry="5.60" fill="#808080" stroke="#000" stroke-width="1.2"/>
<ellipse cx="972.30" cy="1533.10" rx="6.20" ry="5.60" fill="#808080" stroke="#000" stroke-width="1.2"/>
<ellipse cx="975.80" cy="1553.80" rx="6.20" ry="5.60" fill="#808080" stroke="#000" stroke-width="1.2"/>
<line x1="1022.05" y1="1549.70" x2="1022.05" y2="1559.60" stroke="#000" stroke-width="3.6" stroke-linecap="butt"/>
<line x1="1022.05" y1="1549.70" x2="1022.05" y2="1549.70" stroke="#000" stroke-width="3.6" stroke-linecap="butt"/>
<line x1="1022.05" y1="1562.80" x2="1022.05" y2="1586.90" stroke="#000" stroke-width="3.6" stroke-linecap="butt"/>
<line x1="1022.05" y1="1586.90" x2="1022.05" y2="1586.90" stroke="#000" stroke-width="3.6" stroke-linecap="butt"/>
<rect x="1006.40" y="1559.60" width="31.30" height="3.20" fill="none" stroke="#000" stroke-width="3.6"/>
<ellipse cx="1025.10" cy="1549.70" rx="6.20" ry="5.60" fill="#808080" stroke="#000" stroke-width="1.2"/>
<ellipse cx="1016.90" cy="1562.30" rx="6.20" ry="5.60" fill="#808080" stroke="#000" stroke-width="1.2"/>
<ellipse cx="1022.60" cy="1559.20" rx="6.20" ry="5.60" fill="#808080" stroke="#000" stroke-width="1.2"/>
<ellipse cx="1026.90" cy="1586.90" rx="6.20" ry="5.60" fill="#808080" stroke="#000" stroke-width="1.2"/>
<line x1="1071.30" y1="1537.00" x2="1071.30" y2="1553.80" stroke="#e3232b" stroke-width="3.6" stroke-linecap="butt"/>
<line x1="1071.30" y1="1553.80" x2="1071.30" y2="1553.80" stroke="#e3232b" stroke-width="3.6" stroke-linecap="butt"/>
<rect x="1055.60" y="1502.50" width="31.40" height="34.50" fill="none" stroke="#e3232b" stroke-width="3.6"/>
<line x1="1055.60" y1="1520.00" x2="1087.00" y2="1520.00" stroke="#e3232b" stroke-width="3.6" stroke-linecap="butt"/>
<ellipse cx="1070.00" cy="1498.50" rx="6.20" ry="5.60" fill="#e3232b" stroke="#000" stroke-width="1.2"/>
<ellipse cx="1070.00" cy="1501.50" rx="6.20" ry="5.60" fill="#e3232b" stroke="#000" stroke-width="1.2"/>
<ellipse cx="1067.70" cy="1520.80" rx="6.20" ry="5.60" fill="#e3232b" stroke="#000" stroke-width="1.2"/>
<ellipse cx="1070.50" cy="1536.20" rx="6.20" ry="5.60" fill="#e3232b" stroke="#000" stroke-width="1.2"/>
<ellipse cx="1072.30" cy="1553.80" rx="6.20" ry="5.60" fill="#e3232b" stroke="#000" stroke-width="1.2"/>
<rect x="1104.20" y="1534.50" width="32.20" height="5.50" fill="none" stroke="#e3232b" stroke-width="3.6"/>
<line x1="1104.20" y1="1537.30" x2="1136.40" y2="1537.30" stroke="#e3232b" stroke-width="3.6" stroke-linecap="butt"/>
<ellipse cx="1114.50" cy="1526.90" rx="6.20" ry="5.60" fill="#e3232b" stroke="#000" stroke-width="1.2"/>
<ellipse cx="1121.40" cy="1532.60" rx="6.20" ry="5.60" fill="#e3232b" stroke="#000" stroke-width="1.2"/>
<ellipse cx="1122.20" cy="1539.20" rx="6.20" ry="5.60" fill="#e3232b" stroke="#000" stroke-width="1.2"/>
<ellipse cx="1116.40" cy="1542.50" rx="6.20" ry="5.60" fill="#e3232b" stroke="#000" stroke-width="1.2"/>
<line x1="1169.20" y1="1542.80" x2="1169.20" y2="1564.80" stroke="#e3232b" stroke-width="3.6" stroke-linecap="butt"/>
<line x1="1169.20" y1="1564.80" x2="1169.20" y2="1564.80" stroke="#e3232b" stroke-width="3.6" stroke-linecap="butt"/>
<rect x="1153.20" y="1524.20" width="32.00" height="18.60" fill="none" stroke="#e3232b" stroke-width="3.6"/>
<line x1="1153.20" y1="1529.30" x2="1185.20" y2="1529.30" stroke="#e3232b" stroke-width="3.6" stroke-linecap="butt"/>
<ellipse cx="1173.80" cy="1517.50" rx="6.20" ry="5.60" fill="#e3232b" stroke="#000" stroke-width="1.2"/>
<ellipse cx="1164.20" cy="1522.70" rx="6.20" ry="5.60" fill="#e3232b" stroke="#000" stroke-width="1.2"/>
<ellipse cx="1167.50" cy="1530.20" rx="6.20" ry="5.60" fill="#e3232b" stroke="#000" stroke-width="1.2"/>
<ellipse cx="1171.20" cy="1542.50" rx="6.20" ry="5.60" fill="#e3232b" stroke="#000" stroke-width="1.2"/>
<ellipse cx="1170.80" cy="1564.80" rx="6.20" ry="5.60" fill="#e3232b" stroke="#000" stroke-width="1.2"/>
<line x1="1218.20" y1="1485.20" x2="1218.20" y2="1498.50" stroke="#e3232b" stroke-width="3.6" stroke-linecap="butt"/>
<line x1="1218.20" y1="1485.20" x2="1218.20" y2="1485.20" stroke="#e3232b" stroke-width="3.6" stroke-linecap="butt"/>
<line x1="1218.20" y1="1521.30" x2="1218.20" y2="1555.40" stroke="#e3232b" stroke-width="3.6" stroke-linecap="butt"/>
<line x1="1218.20" y1="1555.40" x2="1218.20" y2="1555.40" stroke="#e3232b" stroke-width="3.6" stroke-linecap="butt"/>
<rect x="1202.30" y="1498.50" width="31.80" height="22.80" fill="none" stroke="#e3232b" stroke-width="3.6"/>
<line x1="1202.30" y1="1518.50" x2="1234.10" y2="1518.50" stroke="#e3232b" stroke-width="3.6" stroke-linecap="butt"/>
<ellipse cx="1219.00" cy="1485.20" rx="6.20" ry="5.60" fill="#e3232b" stroke="#000" stroke-width="1.2"/>
<ellipse cx="1217.30" cy="1498.40" rx="6.20" ry="5.60" fill="#e3232b" stroke="#000" stroke-width="1.2"/>
<ellipse cx="1223.20" cy="1517.80" rx="6.20" ry="5.60" fill="#e3232b" stroke="#000" stroke-width="1.2"/>
<ellipse cx="1216.20" cy="1521.90" rx="6.20" ry="5.60" fill="#e3232b" stroke="#000" stroke-width="1.2"/>
<ellipse cx="1219.90" cy="1555.40" rx="6.20" ry="5.60" fill="#e3232b" stroke="#000" stroke-width="1.2"/>
<line x1="1267.65" y1="1504.90" x2="1267.65" y2="1532.80" stroke="#e3232b" stroke-width="3.6" stroke-linecap="butt"/>
<line x1="1267.65" y1="1504.90" x2="1267.65" y2="1504.90" stroke="#e3232b" stroke-width="3.6" stroke-linecap="butt"/>
<rect x="1251.70" y="1532.80" width="31.90" height="3.50" fill="none" stroke="#e3232b" stroke-width="3.6"/>
<ellipse cx="1269.40" cy="1504.90" rx="6.20" ry="5.60" fill="#e3232b" stroke="#000" stroke-width="1.2"/>
<ellipse cx="1264.80" cy="1532.60" rx="6.20" ry="5.60" fill="#e3232b" stroke="#000" stroke-width="1.2"/>
<ellipse cx="1267.70" cy="1541.20" rx="6.20" ry="5.60" fill="#e3232b" stroke="#000" stroke-width="1.2"/>
<rect x="1300.40" y="1510.10" width="31.80" height="24.30" fill="none" stroke="#e3232b" stroke-width="3.6"/>
<line x1="1300.40" y1="1522.00" x2="1332.20" y2="1522.00" stroke="#e3232b" stroke-width="3.6" stroke-linecap="butt"/>
<ellipse cx="1317.50" cy="1504.90" rx="6.20" ry="5.60" fill="#e3232b" stroke="#000" stroke-width="1.2"/>
<ellipse cx="1315.90" cy="1509.60" rx="6.20" ry="5.60" fill="#e3232b" stroke="#000" stroke-width="1.2"/>
<ellipse cx="1321.20" cy="1521.90" rx="6.20" ry="5.60" fill="#e3232b" stroke="#000" stroke-width="1.2"/>
<ellipse cx="1312.90" cy="1534.60" rx="6.20" ry="5.60" fill="#e3232b" stroke="#000" stroke-width="1.2"/>
<ellipse cx="1317.20" cy="1540.50" rx="6.20" ry="5.60" fill="#e3232b" stroke="#000" stroke-width="1.2"/>
<rect x="1349.80" y="1496.50" width="31.50" height="18.40" fill="none" stroke="#e3232b" stroke-width="3.6"/>
<line x1="1349.80" y1="1503.00" x2="1381.30" y2="1503.00" stroke="#e3232b" stroke-width="3.6" stroke-linecap="butt"/>
<ellipse cx="1362.90" cy="1483.20" rx="6.20" ry="5.60" fill="#e3232b" stroke="#000" stroke-width="1.2"/>
<ellipse cx="1368.30" cy="1495.50" rx="6.20" ry="5.60" fill="#e3232b" stroke="#000" stroke-width="1.2"/>
<ellipse cx="1367.30" cy="1502.60" rx="6.20" ry="5.60" fill="#e3232b" stroke="#000" stroke-width="1.2"/>
<ellipse cx="1363.70" cy="1515.30" rx="6.20" ry="5.60" fill="#e3232b" stroke="#000" stroke-width="1.2"/>
<line x1="850.30" y1="1652.50" x2="850.30" y2="1834.00" stroke="#000" stroke-width="4.2" stroke-linecap="butt"/>
<line x1="841.80" y1="1832.00" x2="850.30" y2="1832.00" stroke="#000" stroke-width="4.2" stroke-linecap="butt"/>
<text transform="translate(817.73,1840.60) scale(1.1100,1)" font-family='"Liberation Sans", Arial, Helvetica, sans-serif' font-size="28.00" font-weight="normal" font-style="normal" fill="#000" stroke="#000" stroke-width="0.35"><tspan font-size="28.00">0</tspan></text>
<line x1="841.80" y1="1796.40" x2="850.30" y2="1796.40" stroke="#000" stroke-width="4.2" stroke-linecap="butt"/>
<text transform="translate(800.44,1805.00) scale(1.1100,1)" font-family='"Liberation Sans", Arial, Helvetica, sans-serif' font-size="28.00" font-weight="normal" font-style="normal" fill="#000" stroke="#000" stroke-width="0.35"><tspan font-size="28.00">10</tspan></text>
<line x1="841.80" y1="1760.80" x2="850.30" y2="1760.80" stroke="#000" stroke-width="4.2" stroke-linecap="butt"/>
<text transform="translate(800.44,1769.40) scale(1.1100,1)" font-family='"Liberation Sans", Arial, Helvetica, sans-serif' font-size="28.00" font-weight="normal" font-style="normal" fill="#000" stroke="#000" stroke-width="0.35"><tspan font-size="28.00">20</tspan></text>
<line x1="841.80" y1="1725.20" x2="850.30" y2="1725.20" stroke="#000" stroke-width="4.2" stroke-linecap="butt"/>
<text transform="translate(800.44,1733.80) scale(1.1100,1)" font-family='"Liberation Sans", Arial, Helvetica, sans-serif' font-size="28.00" font-weight="normal" font-style="normal" fill="#000" stroke="#000" stroke-width="0.35"><tspan font-size="28.00">30</tspan></text>
<line x1="841.80" y1="1689.60" x2="850.30" y2="1689.60" stroke="#000" stroke-width="4.2" stroke-linecap="butt"/>
<text transform="translate(800.44,1698.20) scale(1.1100,1)" font-family='"Liberation Sans", Arial, Helvetica, sans-serif' font-size="28.00" font-weight="normal" font-style="normal" fill="#000" stroke="#000" stroke-width="0.35"><tspan font-size="28.00">40</tspan></text>
<line x1="841.80" y1="1654.00" x2="850.30" y2="1654.00" stroke="#000" stroke-width="4.2" stroke-linecap="butt"/>
<text transform="translate(800.44,1662.60) scale(1.1100,1)" font-family='"Liberation Sans", Arial, Helvetica, sans-serif' font-size="28.00" font-weight="normal" font-style="normal" fill="#000" stroke="#000" stroke-width="0.35"><tspan font-size="28.00">50</tspan></text>
<line x1="845.80" y1="1814.20" x2="850.30" y2="1814.20" stroke="#000" stroke-width="3.7800000000000002" stroke-linecap="butt"/>
<line x1="845.80" y1="1778.60" x2="850.30" y2="1778.60" stroke="#000" stroke-width="3.7800000000000002" stroke-linecap="butt"/>
<line x1="845.80" y1="1743.00" x2="850.30" y2="1743.00" stroke="#000" stroke-width="3.7800000000000002" stroke-linecap="butt"/>
<line x1="845.80" y1="1707.40" x2="850.30" y2="1707.40" stroke="#000" stroke-width="3.7800000000000002" stroke-linecap="butt"/>
<line x1="845.80" y1="1671.80" x2="850.30" y2="1671.80" stroke="#000" stroke-width="3.7800000000000002" stroke-linecap="butt"/>
<text transform="translate(784.80,1829.45) rotate(-90) scale(0.9676,1)" font-family='"Liberation Sans", Arial, Helvetica, sans-serif' font-size="28.50" font-weight="normal" font-style="normal" fill="#000" stroke="#000" stroke-width="0.35"><tspan font-size="28.50">APD70 (ms)</tspan></text>
<line x1="965.70" y1="1741.00" x2="965.70" y2="1768.70" stroke="#000" stroke-width="3" stroke-linecap="butt"/>
<line x1="938.50" y1="1741.00" x2="992.90" y2="1741.00" stroke="#000" stroke-width="4.2" stroke-linecap="round"/>
<line x1="938.50" y1="1768.70" x2="992.90" y2="1768.70" stroke="#000" stroke-width="4.2" stroke-linecap="round"/>
<ellipse cx="965.20" cy="1754.50" rx="6.20" ry="5.60" fill="#808080" stroke="#000" stroke-width="1.1"/>
<line x1="1233.70" y1="1716.30" x2="1233.70" y2="1736.40" stroke="#e3232b" stroke-width="3" stroke-linecap="butt"/>
<line x1="1206.50" y1="1716.30" x2="1260.90" y2="1716.30" stroke="#e3232b" stroke-width="4.2" stroke-linecap="round"/>
<line x1="1206.50" y1="1736.40" x2="1260.90" y2="1736.40" stroke="#e3232b" stroke-width="4.2" stroke-linecap="round"/>
<ellipse cx="1233.90" cy="1726.20" rx="6.20" ry="5.60" fill="#e3232b" stroke="#000" stroke-width="1.1"/>
<text transform="translate(924.58,1798.00) scale(1.0403,1)" font-family='"Liberation Sans", Arial, Helvetica, sans-serif' font-size="23.00" font-weight="normal" font-style="normal" fill="#000" stroke="#000" stroke-width="0.35"><tspan font-size="23.00">cells=18</tspan></text>
<text transform="translate(924.68,1830.00) scale(1.0581,1)" font-family='"Liberation Sans", Arial, Helvetica, sans-serif' font-size="23.00" font-weight="normal" font-style="normal" fill="#000" stroke="#000" stroke-width="0.35"><tspan font-size="23.00">mice=4</tspan></text>
<text transform="translate(922.68,1859.00) scale(1.0753,1)" font-family='"Liberation Sans", Arial, Helvetica, sans-serif' font-size="27.00" font-weight="normal" font-style="normal" fill="#000" stroke="#000" stroke-width="0.35"><tspan font-size="27.00">Saline</tspan></text>
<text transform="translate(1185.69,1798.00) scale(1.0315,1)" font-family='"Liberation Sans", Arial, Helvetica, sans-serif' font-size="23.00" font-weight="normal" font-style="normal" fill="#000" stroke="#000" stroke-width="0.35"><tspan font-size="23.00">cells=35</tspan></text>
<text transform="translate(1185.77,1830.00) scale(1.0652,1)" font-family='"Liberation Sans", Arial, Helvetica, sans-serif' font-size="23.00" font-weight="normal" font-style="normal" fill="#000" stroke="#000" stroke-width="0.35"><tspan font-size="23.00">mice=7</tspan></text>
<text transform="translate(1195.51,1859.00) scale(1.1179,1)" font-family='"Liberation Sans", Arial, Helvetica, sans-serif' font-size="27.00" font-weight="normal" font-style="normal" fill="#000" stroke="#000" stroke-width="0.35"><tspan font-size="27.00">IL-1</tspan><tspan font-size="27.00" font-family='"Liberation Serif", "Times New Roman", serif'>β</tspan></text>
<line x1="1634.90" y1="1449.90" x2="1634.90" y2="1631.00" stroke="#000" stroke-width="4.2" stroke-linecap="butt"/>
<line x1="1626.40" y1="1629.00" x2="1634.90" y2="1629.00" stroke="#000" stroke-width="4.2" stroke-linecap="butt"/>
<text transform="translate(1601.93,1637.60) scale(1.1100,1)" font-family='"Liberation Sans", Arial, Helvetica, sans-serif' font-size="28.00" font-weight="normal" font-style="normal" fill="#000" stroke="#000" stroke-width="0.35"><tspan font-size="28.00">0</tspan></text>
<line x1="1626.40" y1="1584.60" x2="1634.90" y2="1584.60" stroke="#000" stroke-width="4.2" stroke-linecap="butt"/>
<text transform="translate(1584.64,1593.20) scale(1.1100,1)" font-family='"Liberation Sans", Arial, Helvetica, sans-serif' font-size="28.00" font-weight="normal" font-style="normal" fill="#000" stroke="#000" stroke-width="0.35"><tspan font-size="28.00">20</tspan></text>
<line x1="1626.40" y1="1540.20" x2="1634.90" y2="1540.20" stroke="#000" stroke-width="4.2" stroke-linecap="butt"/>
<text transform="translate(1584.64,1548.80) scale(1.1100,1)" font-family='"Liberation Sans", Arial, Helvetica, sans-serif' font-size="28.00" font-weight="normal" font-style="normal" fill="#000" stroke="#000" stroke-width="0.35"><tspan font-size="28.00">40</tspan></text>
<line x1="1626.40" y1="1495.80" x2="1634.90" y2="1495.80" stroke="#000" stroke-width="4.2" stroke-linecap="butt"/>
<text transform="translate(1584.64,1504.40) scale(1.1100,1)" font-family='"Liberation Sans", Arial, Helvetica, sans-serif' font-size="28.00" font-weight="normal" font-style="normal" fill="#000" stroke="#000" stroke-width="0.35"><tspan font-size="28.00">60</tspan></text>
<line x1="1626.40" y1="1451.40" x2="1634.90" y2="1451.40" stroke="#000" stroke-width="4.2" stroke-linecap="butt"/>
<text transform="translate(1584.64,1460.00) scale(1.1100,1)" font-family='"Liberation Sans", Arial, Helvetica, sans-serif' font-size="28.00" font-weight="normal" font-style="normal" fill="#000" stroke="#000" stroke-width="0.35"><tspan font-size="28.00">80</tspan></text>
<line x1="1630.40" y1="1606.80" x2="1634.90" y2="1606.80" stroke="#000" stroke-width="3.7800000000000002" stroke-linecap="butt"/>
<line x1="1630.40" y1="1562.40" x2="1634.90" y2="1562.40" stroke="#000" stroke-width="3.7800000000000002" stroke-linecap="butt"/>
<line x1="1630.40" y1="1518.00" x2="1634.90" y2="1518.00" stroke="#000" stroke-width="3.7800000000000002" stroke-linecap="butt"/>
<line x1="1630.40" y1="1473.60" x2="1634.90" y2="1473.60" stroke="#000" stroke-width="3.7800000000000002" stroke-linecap="butt"/>
<text transform="translate(1568.50,1626.95) rotate(-90) scale(0.9656,1)" font-family='"Liberation Sans", Arial, Helvetica, sans-serif' font-size="28.50" font-weight="normal" font-style="normal" fill="#000" stroke="#000" stroke-width="0.35"><tspan font-size="28.50">APD90 (ms)</tspan></text>
<path d="M1744.80,1460.50 L1744.80,1444.00 L2039.50,1444.00 L2039.50,1460.50" fill="none" stroke="#000" stroke-width="3.6" />
<text transform="translate(1829.06,1433.00) scale(1.1125,1)" font-family='"Liberation Sans", Arial, Helvetica, sans-serif' font-size="27.00" font-weight="normal" font-style="normal" fill="#000" stroke="#000" stroke-width="0.35"><tspan font-size="27.00">p &lt; 0.001</tspan></text>
<rect x="1643.00" y="1502.90" width="32.00" height="65.60" fill="none" stroke="#000" stroke-width="3.6"/>
<line x1="1643.00" y1="1562.50" x2="1675.00" y2="1562.50" stroke="#000" stroke-width="3.6" stroke-linecap="butt"/>
<rect x="1656.90" y="1541.80" width="4.60" height="4.60" fill="#fff" stroke="#000" stroke-width="1.2"/>
<ellipse cx="1657.50" cy="1502.30" rx="6.20" ry="5.60" fill="#808080" stroke="#000" stroke-width="1.2"/>
<ellipse cx="1659.50" cy="1561.30" rx="6.20" ry="5.60" fill="#808080" stroke="#000" stroke-width="1.2"/>
<ellipse cx="1659.90" cy="1568.70" rx="6.20" ry="5.60" fill="#808080" stroke="#000" stroke-width="1.2"/>
<line x1="1708.00" y1="1530.40" x2="1708.00" y2="1556.00" stroke="#000" stroke-width="3.6" stroke-linecap="butt"/>
<line x1="1708.00" y1="1530.40" x2="1708.00" y2="1530.40" stroke="#000" stroke-width="3.6" stroke-linecap="butt"/>
<rect x="1692.00" y="1556.00" width="32.00" height="4.00" fill="none" stroke="#000" stroke-width="3.6"/>
<ellipse cx="1707.00" cy="1530.40" rx="6.20" ry="5.60" fill="#808080" stroke="#000" stroke-width="1.2"/>
<ellipse cx="1708.40" cy="1564.30" rx="6.20" ry="5.60" fill="#808080" stroke="#000" stroke-width="1.2"/>
<ellipse cx="1704.70" cy="1560.90" rx="6.20" ry="5.60" fill="#808080" stroke="#000" stroke-width="1.2"/>
<ellipse cx="1707.00" cy="1555.70" rx="6.20" ry="5.60" fill="#808080" stroke="#000" stroke-width="1.2"/>
<line x1="1757.15" y1="1540.20" x2="1757.15" y2="1569.00" stroke="#000" stroke-width="3.6" stroke-linecap="butt"/>
<line x1="1757.15" y1="1569.00" x2="1757.15" y2="1569.00" stroke="#000" stroke-width="3.6" stroke-linecap="butt"/>
<rect x="1741.40" y="1518.50" width="31.50" height="21.70" fill="none" stroke="#000" stroke-width="3.6"/>
<rect x="1755.10" y="1530.40" width="4.60" height="4.60" fill="#fff" stroke="#000" stroke-width="1.2"/>
<ellipse cx="1754.40" cy="1517.80" rx="6.20" ry="5.60" fill="#808080" stroke="#000" stroke-width="1.2"/>
<ellipse cx="1757.40" cy="1518.60" rx="6.20" ry="5.60" fill="#808080" stroke="#000" stroke-width="1.2"/>
<ellipse cx="1756.60" cy="1540.50" rx="6.20" ry="5.60" fill="#808080" stroke="#000" stroke-width="1.2"/>
<ellipse cx="1760.40" cy="1569.00" rx="6.20" ry="5.60" fill="#808080" stroke="#000" stroke-width="1.2"/>
<line x1="1806.30" y1="1554.50" x2="1806.30" y2="1567.50" stroke="#000" stroke-width="3.6" stroke-linecap="butt"/>
<line x1="1806.30" y1="1567.50" x2="1806.30" y2="1567.50" stroke="#000" stroke-width="3.6" stroke-linecap="butt"/>
<rect x="1790.30" y="1550.30" width="32.00" height="4.20" fill="none" stroke="#000" stroke-width="3.6"/>
<ellipse cx="1809.80" cy="1544.10" rx="6.20" ry="5.60" fill="#808080" stroke="#000" stroke-width="1.2"/>
<ellipse cx="1801.90" cy="1549.00" rx="6.20" ry="5.60" fill="#808080" stroke="#000" stroke-width="1.2"/>
<ellipse cx="1806.80" cy="1554.90" rx="6.20" ry="5.60" fill="#808080" stroke="#000" stroke-width="1.2"/>
<ellipse cx="1811.20" cy="1567.50" rx="6.20" ry="5.60" fill="#808080" stroke="#000" stroke-width="1.2"/>
<line x1="1855.35" y1="1524.50" x2="1855.35" y2="1537.10" stroke="#e3232b" stroke-width="3.6" stroke-linecap="butt"/>
<line x1="1855.35" y1="1537.10" x2="1855.35" y2="1537.10" stroke="#e3232b" stroke-width="3.6" stroke-linecap="butt"/>
<rect x="1839.80" y="1493.00" width="31.10" height="31.50" fill="none" stroke="#e3232b" stroke-width="3.6"/>
<line x1="1839.80" y1="1511.30" x2="1870.90" y2="1511.30" stroke="#e3232b" stroke-width="3.6" stroke-linecap="butt"/>
<ellipse cx="1854.30" cy="1492.60" rx="6.20" ry="5.60" fill="#e3232b" stroke="#000" stroke-width="1.2"/>
<ellipse cx="1851.90" cy="1511.20" rx="6.20" ry="5.60" fill="#e3232b" stroke="#000" stroke-width="1.2"/>
<ellipse cx="1855.00" cy="1524.20" rx="6.20" ry="5.60" fill="#e3232b" stroke="#000" stroke-width="1.2"/>
<ellipse cx="1856.00" cy="1537.10" rx="6.20" ry="5.60" fill="#e3232b" stroke="#000" stroke-width="1.2"/>
<line x1="1904.45" y1="1517.10" x2="1904.45" y2="1530.80" stroke="#e3232b" stroke-width="3.6" stroke-linecap="butt"/>
<line x1="1904.45" y1="1517.10" x2="1904.45" y2="1517.10" stroke="#e3232b" stroke-width="3.6" stroke-linecap="butt"/>
<rect x="1888.10" y="1530.80" width="32.70" height="3.60" fill="none" stroke="#e3232b" stroke-width="3.6"/>
<ellipse cx="1898.60" cy="1517.10" rx="6.20" ry="5.60" fill="#e3232b" stroke="#000" stroke-width="1.2"/>
<ellipse cx="1901.30" cy="1530.80" rx="6.20" ry="5.60" fill="#e3232b" stroke="#000" stroke-width="1.2"/>
<ellipse cx="1906.00" cy="1534.90" rx="6.20" ry="5.60" fill="#e3232b" stroke="#000" stroke-width="1.2"/>
<line x1="1953.30" y1="1537.00" x2="1953.30" y2="1554.10" stroke="#e3232b" stroke-width="3.6" stroke-linecap="butt"/>
<line x1="1953.30" y1="1554.10" x2="1953.30" y2="1554.10" stroke="#e3232b" stroke-width="3.6" stroke-linecap="butt"/>
<rect x="1937.30" y="1518.00" width="32.00" height="19.00" fill="none" stroke="#e3232b" stroke-width="3.6"/>
<line x1="1937.30" y1="1527.30" x2="1969.30" y2="1527.30" stroke="#e3232b" stroke-width="3.6" stroke-linecap="butt"/>
<ellipse cx="1947.80" cy="1517.80" rx="6.20" ry="5.60" fill="#e3232b" stroke="#000" stroke-width="1.2"/>
<ellipse cx="1958.10" cy="1517.80" rx="6.20" ry="5.60" fill="#e3232b" stroke="#000" stroke-width="1.2"/>
<ellipse cx="1951.80" cy="1524.90" rx="6.20" ry="5.60" fill="#e3232b" stroke="#000" stroke-width="1.2"/>
<ellipse cx="1955.70" cy="1536.80" rx="6.20" ry="5.60" fill="#e3232b" stroke="#000" stroke-width="1.2"/>
<ellipse cx="1954.90" cy="1554.10" rx="6.20" ry="5.60" fill="#e3232b" stroke="#000" stroke-width="1.2"/>
<line x1="2002.45" y1="1518.00" x2="2002.45" y2="1538.70" stroke="#e3232b" stroke-width="3.6" stroke-linecap="butt"/>
<line x1="2002.45" y1="1538.70" x2="2002.45" y2="1538.70" stroke="#e3232b" stroke-width="3.6" stroke-linecap="butt"/>
<rect x="1986.70" y="1507.30" width="31.50" height="10.70" fill="none" stroke="#e3232b" stroke-width="3.6"/>
<line x1="1986.70" y1="1511.50" x2="2018.20" y2="1511.50" stroke="#e3232b" stroke-width="3.6" stroke-linecap="butt"/>
<ellipse cx="2003.00" cy="1501.30" rx="6.20" ry="5.60" fill="#e3232b" stroke="#000" stroke-width="1.2"/>
<ellipse cx="2000.20" cy="1508.40" rx="6.20" ry="5.60" fill="#e3232b" stroke="#000" stroke-width="1.2"/>
<ellipse cx="2007.40" cy="1514.40" rx="6.20" ry="5.60" fill="#e3232b" stroke="#000" stroke-width="1.2"/>
<ellipse cx="1999.80" cy="1517.80" rx="6.20" ry="5.60" fill="#e3232b" stroke="#000" stroke-width="1.2"/>
<ellipse cx="2003.80" cy="1538.70" rx="6.20" ry="5.60" fill="#e3232b" stroke="#000" stroke-width="1.2"/>
<line x1="2051.30" y1="1512.80" x2="2051.30" y2="1530.80" stroke="#e3232b" stroke-width="3.6" stroke-linecap="butt"/>
<line x1="2051.30" y1="1512.80" x2="2051.30" y2="1512.80" stroke="#e3232b" stroke-width="3.6" stroke-linecap="butt"/>
<rect x="2035.50" y="1530.80" width="31.60" height="3.60" fill="none" stroke="#e3232b" stroke-width="3.6"/>
<ellipse cx="2053.10" cy="1512.80" rx="6.20" ry="5.60" fill="#e3232b" stroke="#000" stroke-width="1.2"/>
<ellipse cx="2048.70" cy="1532.00" rx="6.20" ry="5.60" fill="#e3232b" stroke="#000" stroke-width="1.2"/>
<ellipse cx="2052.70" cy="1537.60" rx="6.20" ry="5.60" fill="#e3232b" stroke="#000" stroke-width="1.2"/>
<rect x="2084.90" y="1501.30" width="31.40" height="31.20" fill="none" stroke="#e3232b" stroke-width="3.6"/>
<rect x="2098.20" y="1511.60" width="4.60" height="4.60" fill="#fff" stroke="#e3232b" stroke-width="1.2"/>
<ellipse cx="2100.50" cy="1495.80" rx="6.20" ry="5.60" fill="#e3232b" stroke="#000" stroke-width="1.2"/>
<ellipse cx="2103.90" cy="1503.30" rx="6.20" ry="5.60" fill="#e3232b" stroke="#000" stroke-width="1.2"/>
<ellipse cx="2096.80" cy="1532.00" rx="6.20" ry="5.60" fill="#e3232b" stroke="#000" stroke-width="1.2"/>
<ellipse cx="2101.60" cy="1536.80" rx="6.20" ry="5.60" fill="#e3232b" stroke="#000" stroke-width="1.2"/>
<rect x="2133.80" y="1505.00" width="33.40" height="4.50" fill="none" stroke="#e3232b" stroke-width="3.6"/>
<ellipse cx="2146.80" cy="1494.20" rx="6.20" ry="5.60" fill="#e3232b" stroke="#000" stroke-width="1.2"/>
<ellipse cx="2151.50" cy="1504.00" rx="6.20" ry="5.60" fill="#e3232b" stroke="#000" stroke-width="1.2"/>
<ellipse cx="2147.30" cy="1511.50" rx="6.20" ry="5.60" fill="#e3232b" stroke="#000" stroke-width="1.2"/>
<line x1="1634.80" y1="1652.60" x2="1634.80" y2="1833.70" stroke="#000" stroke-width="4.2" stroke-linecap="butt"/>
<line x1="1626.30" y1="1831.70" x2="1634.80" y2="1831.70" stroke="#000" stroke-width="4.2" stroke-linecap="butt"/>
<text transform="translate(1601.93,1840.30) scale(1.1100,1)" font-family='"Liberation Sans", Arial, Helvetica, sans-serif' font-size="28.00" font-weight="normal" font-style="normal" fill="#000" stroke="#000" stroke-width="0.35"><tspan font-size="28.00">0</tspan></text>
<line x1="1626.30" y1="1787.30" x2="1634.80" y2="1787.30" stroke="#000" stroke-width="4.2" stroke-linecap="butt"/>
<text transform="translate(1584.64,1795.90) scale(1.1100,1)" font-family='"Liberation Sans", Arial, Helvetica, sans-serif' font-size="28.00" font-weight="normal" font-style="normal" fill="#000" stroke="#000" stroke-width="0.35"><tspan font-size="28.00">20</tspan></text>
<line x1="1626.30" y1="1742.90" x2="1634.80" y2="1742.90" stroke="#000" stroke-width="4.2" stroke-linecap="butt"/>
<text transform="translate(1584.64,1751.50) scale(1.1100,1)" font-family='"Liberation Sans", Arial, Helvetica, sans-serif' font-size="28.00" font-weight="normal" font-style="normal" fill="#000" stroke="#000" stroke-width="0.35"><tspan font-size="28.00">40</tspan></text>
<line x1="1626.30" y1="1698.50" x2="1634.80" y2="1698.50" stroke="#000" stroke-width="4.2" stroke-linecap="butt"/>
<text transform="translate(1584.64,1707.10) scale(1.1100,1)" font-family='"Liberation Sans", Arial, Helvetica, sans-serif' font-size="28.00" font-weight="normal" font-style="normal" fill="#000" stroke="#000" stroke-width="0.35"><tspan font-size="28.00">60</tspan></text>
<line x1="1626.30" y1="1654.10" x2="1634.80" y2="1654.10" stroke="#000" stroke-width="4.2" stroke-linecap="butt"/>
<text transform="translate(1584.64,1662.70) scale(1.1100,1)" font-family='"Liberation Sans", Arial, Helvetica, sans-serif' font-size="28.00" font-weight="normal" font-style="normal" fill="#000" stroke="#000" stroke-width="0.35"><tspan font-size="28.00">80</tspan></text>
<line x1="1630.30" y1="1809.50" x2="1634.80" y2="1809.50" stroke="#000" stroke-width="3.7800000000000002" stroke-linecap="butt"/>
<line x1="1630.30" y1="1765.10" x2="1634.80" y2="1765.10" stroke="#000" stroke-width="3.7800000000000002" stroke-linecap="butt"/>
<line x1="1630.30" y1="1720.70" x2="1634.80" y2="1720.70" stroke="#000" stroke-width="3.7800000000000002" stroke-linecap="butt"/>
<line x1="1630.30" y1="1676.30" x2="1634.80" y2="1676.30" stroke="#000" stroke-width="3.7800000000000002" stroke-linecap="butt"/>
<text transform="translate(1568.50,1829.45) rotate(-90) scale(0.9676,1)" font-family='"Liberation Sans", Arial, Helvetica, sans-serif' font-size="28.50" font-weight="normal" font-style="normal" fill="#000" stroke="#000" stroke-width="0.35"><tspan font-size="28.50">APD90 (ms)</tspan></text>
<line x1="1749.75" y1="1738.70" x2="1749.75" y2="1759.80" stroke="#000" stroke-width="3" stroke-linecap="butt"/>
<line x1="1722.90" y1="1738.70" x2="1776.60" y2="1738.70" stroke="#000" stroke-width="4.2" stroke-linecap="round"/>
<line x1="1722.90" y1="1759.80" x2="1776.60" y2="1759.80" stroke="#000" stroke-width="4.2" stroke-linecap="round"/>
<ellipse cx="1749.20" cy="1749.20" rx="6.20" ry="5.60" fill="#808080" stroke="#000" stroke-width="1.1"/>
<line x1="2017.60" y1="1714.60" x2="2017.60" y2="1730.10" stroke="#e3232b" stroke-width="3" stroke-linecap="butt"/>
<line x1="1990.90" y1="1714.60" x2="2044.30" y2="1714.60" stroke="#e3232b" stroke-width="4.2" stroke-linecap="round"/>
<line x1="1990.90" y1="1730.10" x2="2044.30" y2="1730.10" stroke="#e3232b" stroke-width="4.2" stroke-linecap="round"/>
<ellipse cx="2017.30" cy="1722.50" rx="6.20" ry="5.60" fill="#e3232b" stroke="#000" stroke-width="1.1"/>
<text transform="translate(1705.98,1796.40) scale(1.0440,1)" font-family='"Liberation Sans", Arial, Helvetica, sans-serif' font-size="23.00" font-weight="normal" font-style="normal" fill="#000" stroke="#000" stroke-width="0.35"><tspan font-size="23.00">cells=18</tspan></text>
<text transform="translate(1705.78,1828.40) scale(1.0622,1)" font-family='"Liberation Sans", Arial, Helvetica, sans-serif' font-size="23.00" font-weight="normal" font-style="normal" fill="#000" stroke="#000" stroke-width="0.35"><tspan font-size="23.00">mice=4</tspan></text>
<text transform="translate(1706.66,1859.00) scale(1.0905,1)" font-family='"Liberation Sans", Arial, Helvetica, sans-serif' font-size="27.00" font-weight="normal" font-style="normal" fill="#000" stroke="#000" stroke-width="0.35"><tspan font-size="27.00">Saline</tspan></text>
<text transform="translate(1966.78,1796.40) scale(1.0399,1)" font-family='"Liberation Sans", Arial, Helvetica, sans-serif' font-size="23.00" font-weight="normal" font-style="normal" fill="#000" stroke="#000" stroke-width="0.35"><tspan font-size="23.00">cells=35</tspan></text>
<text transform="translate(1966.88,1828.40) scale(1.0610,1)" font-family='"Liberation Sans", Arial, Helvetica, sans-serif' font-size="23.00" font-weight="normal" font-style="normal" fill="#000" stroke="#000" stroke-width="0.35"><tspan font-size="23.00">mice=7</tspan></text>
<text transform="translate(1976.20,1859.00) scale(1.1250,1)" font-family='"Liberation Sans", Arial, Helvetica, sans-serif' font-size="27.00" font-weight="normal" font-style="normal" fill="#000" stroke="#000" stroke-width="0.35"><tspan font-size="27.00">IL-1</tspan><tspan font-size="27.00" font-family='"Liberation Serif", "Times New Roman", serif'>β</tspan></text>
<text transform="translate(12.76,1485.60)" font-family='"Liberation Sans", Arial, Helvetica, sans-serif' font-size="26.00" font-weight="bold" font-style="normal" fill="#000" stroke="#000" stroke-width="0.35"><tspan font-size="26.00">f</tspan></text>
<line x1="150.00" y1="1447.70" x2="150.00" y2="1814.00" stroke="#000" stroke-width="3.6" stroke-linecap="butt"/>
<line x1="142.00" y1="1812.00" x2="150.00" y2="1812.00" stroke="#000" stroke-width="3.3" stroke-linecap="butt"/>
<text transform="translate(121.90,1821.30) scale(0.9600,1)" font-family='"Liberation Sans", Arial, Helvetica, sans-serif' font-size="28.00" font-weight="normal" font-style="normal" fill="#000" stroke="#000" stroke-width="0.35"><tspan font-size="28.00">0</tspan></text>
<line x1="142.00" y1="1746.00" x2="150.00" y2="1746.00" stroke="#000" stroke-width="3.3" stroke-linecap="butt"/>
<text transform="translate(106.95,1755.30) scale(0.9600,1)" font-family='"Liberation Sans", Arial, Helvetica, sans-serif' font-size="28.00" font-weight="normal" font-style="normal" fill="#000" stroke="#000" stroke-width="0.35"><tspan font-size="28.00">20</tspan></text>
<line x1="142.00" y1="1680.00" x2="150.00" y2="1680.00" stroke="#000" stroke-width="3.3" stroke-linecap="butt"/>
<text transform="translate(106.95,1689.30) scale(0.9600,1)" font-family='"Liberation Sans", Arial, Helvetica, sans-serif' font-size="28.00" font-weight="normal" font-style="normal" fill="#000" stroke="#000" stroke-width="0.35"><tspan font-size="28.00">40</tspan></text>
<line x1="142.00" y1="1614.00" x2="150.00" y2="1614.00" stroke="#000" stroke-width="3.3" stroke-linecap="butt"/>
<text transform="translate(106.95,1623.30) scale(0.9600,1)" font-family='"Liberation Sans", Arial, Helvetica, sans-serif' font-size="28.00" font-weight="normal" font-style="normal" fill="#000" stroke="#000" stroke-width="0.35"><tspan font-size="28.00">60</tspan></text>
<line x1="142.00" y1="1548.00" x2="150.00" y2="1548.00" stroke="#000" stroke-width="3.3" stroke-linecap="butt"/>
<text transform="translate(106.95,1557.30) scale(0.9600,1)" font-family='"Liberation Sans", Arial, Helvetica, sans-serif' font-size="28.00" font-weight="normal" font-style="normal" fill="#000" stroke="#000" stroke-width="0.35"><tspan font-size="28.00">80</tspan></text>
<line x1="142.00" y1="1482.00" x2="150.00" y2="1482.00" stroke="#000" stroke-width="3.3" stroke-linecap="butt"/>
<text transform="translate(92.00,1491.30) scale(0.9600,1)" font-family='"Liberation Sans", Arial, Helvetica, sans-serif' font-size="28.00" font-weight="normal" font-style="normal" fill="#000" stroke="#000" stroke-width="0.35"><tspan font-size="28.00">100</tspan></text>
<line x1="145.50" y1="1779.00" x2="150.00" y2="1779.00" stroke="#000" stroke-width="3" stroke-linecap="butt"/>
<line x1="145.50" y1="1713.00" x2="150.00" y2="1713.00" stroke="#000" stroke-width="3" stroke-linecap="butt"/>
<line x1="145.50" y1="1647.00" x2="150.00" y2="1647.00" stroke="#000" stroke-width="3" stroke-linecap="butt"/>
<line x1="145.50" y1="1581.00" x2="150.00" y2="1581.00" stroke="#000" stroke-width="3" stroke-linecap="butt"/>
<line x1="145.50" y1="1515.00" x2="150.00" y2="1515.00" stroke="#000" stroke-width="3" stroke-linecap="butt"/>
<line x1="145.50" y1="1449.00" x2="150.00" y2="1449.00" stroke="#000" stroke-width="3" stroke-linecap="butt"/>
<text transform="translate(78.50,1802.15) rotate(-90) scale(0.9989,1)" font-family='"Liberation Sans", Arial, Helvetica, sans-serif' font-size="26.60" font-weight="normal" font-style="normal" fill="#000" stroke="#000" stroke-width="0.35"><tspan font-size="26.60">Arrhythmia incidence (%)</tspan></text>
<rect x="161.50" y="1480.70" width="108.80" height="331.80" fill="#7c7c7c"/>
<rect x="161.50" y="1780.70" width="108.80" height="31.80" fill="#000"/>
<rect x="163.50" y="1482.70" width="104.80" height="327.80" fill="none" stroke="#000" stroke-width="4"/>
<rect x="294.10" y="1480.70" width="108.80" height="331.80" fill="#7c7c7c"/>
<rect x="294.10" y="1582.20" width="108.80" height="230.30" fill="#000"/>
<rect x="296.10" y="1482.70" width="104.80" height="327.80" fill="none" stroke="#000" stroke-width="4"/>
<rect x="426.90" y="1480.70" width="108.80" height="331.80" fill="#7c7c7c"/>
<rect x="426.90" y="1737.80" width="108.80" height="74.70" fill="#000"/>
<rect x="428.90" y="1482.70" width="104.80" height="327.80" fill="none" stroke="#000" stroke-width="4"/>
<text transform="translate(194.96,1806.00) scale(1.0043,1)" font-family='"Liberation Sans", Arial, Helvetica, sans-serif' font-size="24.00" font-weight="normal" font-style="normal" fill="#fff" stroke="#fff" stroke-width="0.35"><tspan font-size="24.00">1/11</tspan></text>
<text transform="translate(324.56,1806.00) scale(1.0092,1)" font-family='"Liberation Sans", Arial, Helvetica, sans-serif' font-size="24.00" font-weight="normal" font-style="normal" fill="#fff" stroke="#fff" stroke-width="0.35"><tspan font-size="24.00">11/16</tspan></text>
<text transform="translate(472.72,1806.00) scale(1.0638,1)" font-family='"Liberation Sans", Arial, Helvetica, sans-serif' font-size="24.00" font-weight="normal" font-style="normal" fill="#fff" stroke="#fff" stroke-width="0.35"><tspan font-size="24.00">2/9</tspan></text>
<text transform="translate(188.51,1840.00) scale(0.9960,1)" font-family='"Liberation Sans", Arial, Helvetica, sans-serif' font-size="24.00" font-weight="normal" font-style="normal" fill="#000" stroke="#000" stroke-width="0.35"><tspan font-size="24.00">Saline</tspan></text>
<text transform="translate(327.41,1840.00) scale(1.0351,1)" font-family='"Liberation Sans", Arial, Helvetica, sans-serif' font-size="24.00" font-weight="normal" font-style="normal" fill="#000" stroke="#000" stroke-width="0.35"><tspan font-size="24.00">IL-1</tspan><tspan font-size="24.00" font-family='"Liberation Serif", "Times New Roman", serif'>β</tspan></text>
<text transform="translate(461.96,1840.00) scale(1.0093,1)" font-family='"Liberation Sans", Arial, Helvetica, sans-serif' font-size="24.00" font-weight="normal" font-style="normal" fill="#000" stroke="#000" stroke-width="0.35"><tspan font-size="24.00">IL-1</tspan><tspan font-size="24.00" font-family='"Liberation Serif", "Times New Roman", serif'>β</tspan></text>
<line x1="163.90" y1="1851.50" x2="404.50" y2="1851.50" stroke="#000" stroke-width="3.6" stroke-linecap="butt"/>
<line x1="431.20" y1="1850.90" x2="539.00" y2="1850.90" stroke="#000" stroke-width="3.6" stroke-linecap="butt"/>
<text transform="translate(269.58,1881.20) scale(1.0123,1)" font-family='"Liberation Sans", Arial, Helvetica, sans-serif' font-size="26.00" font-weight="normal" font-style="normal" fill="#000" stroke="#000" stroke-width="0.35"><tspan font-size="26.00">WT</tspan></text>
<text transform="translate(444.28,1881.20) scale(1.0755,1)" font-family='"Liberation Sans", Arial, Helvetica, sans-serif' font-size="26.00" font-weight="normal" font-style="normal" fill="#000" stroke="#000" stroke-width="0.35"><tspan font-size="26.00">Casp1</tspan><tspan font-size="16.12" dy="-10.00">-/-</tspan></text>
<path d="M206.00,1473.50 L206.00,1465.80 L354.40,1465.80 L354.40,1473.50" fill="none" stroke="#000" stroke-width="3" />
<text transform="translate(227.57,1459.20)" font-family='"Liberation Sans", Arial, Helvetica, sans-serif' font-size="23.70" font-weight="normal" font-style="normal" fill="#000" stroke="#000" stroke-width="0.35"><tspan font-size="23.70">p = 0.004</tspan></text>
<path d="M206.00,1441.50 L206.00,1432.90 L486.30,1432.90 L486.30,1441.50" fill="none" stroke="#000" stroke-width="3" />
<text transform="translate(306.63,1427.90) scale(1.0255,1)" font-family='"Liberation Sans", Arial, Helvetica, sans-serif' font-size="23.70" font-weight="normal" font-style="normal" fill="#000" stroke="#000" stroke-width="0.35"><tspan font-size="23.70">p &gt; 0.99</tspan></text>
<text transform="translate(23.63,1956.30)" font-family='"Liberation Sans", Arial, Helvetica, sans-serif' font-size="26.00" font-weight="bold" font-style="normal" fill="#000" stroke="#000" stroke-width="0.35"><tspan font-size="26.00">g</tspan></text>
<g transform="translate(0.00,2010.00) scale(0.10989)"><path d="M1052,1447 L1380,1447 C1560,1447 1630,1320 1622,1170 C1618,1080 1605,1000 1590,945" fill="none" stroke="#3b3b3b" stroke-width="52" stroke-linecap="round"/><path d="M12,735 C30,690 120,580 180,490 C230,420 280,350 340,322 L420,300 L650,395 C760,370 900,420 980,560 C1060,700 1100,900 1095,1080 C1090,1250 1060,1380 990,1470 L380,1470 C360,1470 355,1450 355,1430 C355,1405 370,1390 395,1390 L485,1390 C460,1340 435,1280 430,1215 C400,1200 370,1185 340,1160 C310,1135 290,1105 265,1065 C240,1080 210,1092 180,1090 C150,1085 145,1040 150,1010 C155,975 185,962 225,958 C255,955 280,945 282,925 C284,905 275,888 250,882 L140,876 C80,870 30,850 15,800 C8,780 8,755 12,735 Z" fill="#3b3b3b" stroke="#fff" stroke-width="50" paint-order="stroke"/><path d="M382,462 C366,380 362,240 398,160 C428,100 525,88 575,140 C622,195 622,300 600,350 C565,392 470,448 420,474 C400,483 386,476 382,462 Z" fill="#3b3b3b" stroke="#fff" stroke-width="62" paint-order="stroke"/><path d="M165,395 C148,330 140,240 158,198 C172,170 200,175 215,198 L272,298 C240,330 195,365 165,395 Z" fill="#3b3b3b" stroke="#fff" stroke-width="58" paint-order="stroke"/><path d="M534,990 C536,1045 522,1100 484,1135 C462,1155 442,1172 412,1192" fill="none" stroke="#fff" stroke-width="30" stroke-linecap="round"/><ellipse cx="230" cy="596" rx="34" ry="50" fill="#fff"/></g>
<text transform="translate(32.67,2202.30) scale(0.9588,1)" font-family='"Liberation Sans", Arial, Helvetica, sans-serif' font-size="27.00" font-weight="normal" font-style="italic" fill="#000" stroke="#000" stroke-width="0.35"><tspan font-size="27.00">Casp1</tspan><tspan font-size="18.90" dy="-6.00">-/-</tspan></text>
<text transform="translate(185.30,2062.20) scale(1.0037,1)" font-family='"Liberation Sans", Arial, Helvetica, sans-serif' font-size="27.00" font-weight="normal" font-style="normal" fill="#000" stroke="#000" stroke-width="0.35"><tspan font-size="27.00">IL-1β 4ng / Saline SC</tspan></text>
<g transform="translate(194.70,2077.7) scale(0.816)"><rect x="-6.5" y="0" width="13" height="1.8" fill="#d2d2d2" stroke="#a0a0a0" stroke-width="0.6"/><rect x="-2.8" y="1.8" width="5.6" height="14" fill="#dedede" stroke="#ababab" stroke-width="0.6"/><rect x="-9" y="15.6" width="18" height="2" fill="#d6d6d6" stroke="#a0a0a0" stroke-width="0.6"/><rect x="-6" y="17.6" width="12" height="32.4" fill="#f6f6f6" stroke="#8e8e8e" stroke-width="1.1"/><rect x="-2.6" y="17.6" width="5.2" height="10.5" fill="#d6d6d6"/><rect x="-5.4" y="28.1" width="10.8" height="3.0" fill="#505050"/><rect x="-5.4" y="31.1" width="10.8" height="18.4" fill="#d3ecf3"/><path d="M2,25.3 H4.6 M1.4,35.2 H4.6 M2.6,38.5 H4.6 M1.4,41.8 H4.6 M2.6,45.1 H4.6" stroke="#555" stroke-width="0.9"/><path d="M-2.4,50 L2.4,50 L1.0,58.2 L-1.0,58.2 Z" fill="#3b9a7e"/><line x1="0" y1="58.2" x2="0" y2="78" stroke="#6e6e6e" stroke-width="0.9"/></g>
<g transform="translate(216.93,2077.7) scale(0.816)"><rect x="-6.5" y="0" width="13" height="1.8" fill="#d2d2d2" stroke="#a0a0a0" stroke-width="0.6"/><rect x="-2.8" y="1.8" width="5.6" height="14" fill="#dedede" stroke="#ababab" stroke-width="0.6"/><rect x="-9" y="15.6" width="18" height="2" fill="#d6d6d6" stroke="#a0a0a0" stroke-width="0.6"/><rect x="-6" y="17.6" width="12" height="32.4" fill="#f6f6f6" stroke="#8e8e8e" stroke-width="1.1"/><rect x="-2.6" y="17.6" width="5.2" height="10.5" fill="#d6d6d6"/><rect x="-5.4" y="28.1" width="10.8" height="3.0" fill="#505050"/><rect x="-5.4" y="31.1" width="10.8" height="18.4" fill="#d3ecf3"/><path d="M2,25.3 H4.6 M1.4,35.2 H4.6 M2.6,38.5 H4.6 M1.4,41.8 H4.6 M2.6,45.1 H4.6" stroke="#555" stroke-width="0.9"/><path d="M-2.4,50 L2.4,50 L1.0,58.2 L-1.0,58.2 Z" fill="#3b9a7e"/><line x1="0" y1="58.2" x2="0" y2="78" stroke="#6e6e6e" stroke-width="0.9"/></g>
<g transform="translate(239.16,2077.7) scale(0.816)"><rect x="-6.5" y="0" width="13" height="1.8" fill="#d2d2d2" stroke="#a0a0a0" stroke-width="0.6"/><rect x="-2.8" y="1.8" width="5.6" height="14" fill="#dedede" stroke="#ababab" stroke-width="0.6"/><rect x="-9" y="15.6" width="18" height="2" fill="#d6d6d6" stroke="#a0a0a0" stroke-width="0.6"/><rect x="-6" y="17.6" width="12" height="32.4" fill="#f6f6f6" stroke="#8e8e8e" stroke-width="1.1"/><rect x="-2.6" y="17.6" width="5.2" height="10.5" fill="#d6d6d6"/><rect x="-5.4" y="28.1" width="10.8" height="3.0" fill="#505050"/><rect x="-5.4" y="31.1" width="10.8" height="18.4" fill="#d3ecf3"/><path d="M2,25.3 H4.6 M1.4,35.2 H4.6 M2.6,38.5 H4.6 M1.4,41.8 H4.6 M2.6,45.1 H4.6" stroke="#555" stroke-width="0.9"/><path d="M-2.4,50 L2.4,50 L1.0,58.2 L-1.0,58.2 Z" fill="#3b9a7e"/><line x1="0" y1="58.2" x2="0" y2="78" stroke="#6e6e6e" stroke-width="0.9"/></g>
<g transform="translate(261.39,2077.7) scale(0.816)"><rect x="-6.5" y="0" width="13" height="1.8" fill="#d2d2d2" stroke="#a0a0a0" stroke-width="0.6"/><rect x="-2.8" y="1.8" width="5.6" height="14" fill="#dedede" stroke="#ababab" stroke-width="0.6"/><rect x="-9" y="15.6" width="18" height="2" fill="#d6d6d6" stroke="#a0a0a0" stroke-width="0.6"/><rect x="-6" y="17.6" width="12" height="32.4" fill="#f6f6f6" stroke="#8e8e8e" stroke-width="1.1"/><rect x="-2.6" y="17.6" width="5.2" height="10.5" fill="#d6d6d6"/><rect x="-5.4" y="28.1" width="10.8" height="3.0" fill="#505050"/><rect x="-5.4" y="31.1" width="10.8" height="18.4" fill="#d3ecf3"/><path d="M2,25.3 H4.6 M1.4,35.2 H4.6 M2.6,38.5 H4.6 M1.4,41.8 H4.6 M2.6,45.1 H4.6" stroke="#555" stroke-width="0.9"/><path d="M-2.4,50 L2.4,50 L1.0,58.2 L-1.0,58.2 Z" fill="#3b9a7e"/><line x1="0" y1="58.2" x2="0" y2="78" stroke="#6e6e6e" stroke-width="0.9"/></g>
<g transform="translate(283.62,2077.7) scale(0.816)"><rect x="-6.5" y="0" width="13" height="1.8" fill="#d2d2d2" stroke="#a0a0a0" stroke-width="0.6"/><rect x="-2.8" y="1.8" width="5.6" height="14" fill="#dedede" stroke="#ababab" stroke-width="0.6"/><rect x="-9" y="15.6" width="18" height="2" fill="#d6d6d6" stroke="#a0a0a0" stroke-width="0.6"/><rect x="-6" y="17.6" width="12" height="32.4" fill="#f6f6f6" stroke="#8e8e8e" stroke-width="1.1"/><rect x="-2.6" y="17.6" width="5.2" height="10.5" fill="#d6d6d6"/><rect x="-5.4" y="28.1" width="10.8" height="3.0" fill="#505050"/><rect x="-5.4" y="31.1" width="10.8" height="18.4" fill="#d3ecf3"/><path d="M2,25.3 H4.6 M1.4,35.2 H4.6 M2.6,38.5 H4.6 M1.4,41.8 H4.6 M2.6,45.1 H4.6" stroke="#555" stroke-width="0.9"/><path d="M-2.4,50 L2.4,50 L1.0,58.2 L-1.0,58.2 Z" fill="#3b9a7e"/><line x1="0" y1="58.2" x2="0" y2="78" stroke="#6e6e6e" stroke-width="0.9"/></g>
<g transform="translate(305.85,2077.7) scale(0.816)"><rect x="-6.5" y="0" width="13" height="1.8" fill="#d2d2d2" stroke="#a0a0a0" stroke-width="0.6"/><rect x="-2.8" y="1.8" width="5.6" height="14" fill="#dedede" stroke="#ababab" stroke-width="0.6"/><rect x="-9" y="15.6" width="18" height="2" fill="#d6d6d6" stroke="#a0a0a0" stroke-width="0.6"/><rect x="-6" y="17.6" width="12" height="32.4" fill="#f6f6f6" stroke="#8e8e8e" stroke-width="1.1"/><rect x="-2.6" y="17.6" width="5.2" height="10.5" fill="#d6d6d6"/><rect x="-5.4" y="28.1" width="10.8" height="3.0" fill="#505050"/><rect x="-5.4" y="31.1" width="10.8" height="18.4" fill="#d3ecf3"/><path d="M2,25.3 H4.6 M1.4,35.2 H4.6 M2.6,38.5 H4.6 M1.4,41.8 H4.6 M2.6,45.1 H4.6" stroke="#555" stroke-width="0.9"/><path d="M-2.4,50 L2.4,50 L1.0,58.2 L-1.0,58.2 Z" fill="#3b9a7e"/><line x1="0" y1="58.2" x2="0" y2="78" stroke="#6e6e6e" stroke-width="0.9"/></g>
<g transform="translate(328.08,2077.7) scale(0.816)"><rect x="-6.5" y="0" width="13" height="1.8" fill="#d2d2d2" stroke="#a0a0a0" stroke-width="0.6"/><rect x="-2.8" y="1.8" width="5.6" height="14" fill="#dedede" stroke="#ababab" stroke-width="0.6"/><rect x="-9" y="15.6" width="18" height="2" fill="#d6d6d6" stroke="#a0a0a0" stroke-width="0.6"/><rect x="-6" y="17.6" width="12" height="32.4" fill="#f6f6f6" stroke="#8e8e8e" stroke-width="1.1"/><rect x="-2.6" y="17.6" width="5.2" height="10.5" fill="#d6d6d6"/><rect x="-5.4" y="28.1" width="10.8" height="3.0" fill="#505050"/><rect x="-5.4" y="31.1" width="10.8" height="18.4" fill="#d3ecf3"/><path d="M2,25.3 H4.6 M1.4,35.2 H4.6 M2.6,38.5 H4.6 M1.4,41.8 H4.6 M2.6,45.1 H4.6" stroke="#555" stroke-width="0.9"/><path d="M-2.4,50 L2.4,50 L1.0,58.2 L-1.0,58.2 Z" fill="#3b9a7e"/><line x1="0" y1="58.2" x2="0" y2="78" stroke="#6e6e6e" stroke-width="0.9"/></g>
<g transform="translate(350.31,2077.7) scale(0.816)"><rect x="-6.5" y="0" width="13" height="1.8" fill="#d2d2d2" stroke="#a0a0a0" stroke-width="0.6"/><rect x="-2.8" y="1.8" width="5.6" height="14" fill="#dedede" stroke="#ababab" stroke-width="0.6"/><rect x="-9" y="15.6" width="18" height="2" fill="#d6d6d6" stroke="#a0a0a0" stroke-width="0.6"/><rect x="-6" y="17.6" width="12" height="32.4" fill="#f6f6f6" stroke="#8e8e8e" stroke-width="1.1"/><rect x="-2.6" y="17.6" width="5.2" height="10.5" fill="#d6d6d6"/><rect x="-5.4" y="28.1" width="10.8" height="3.0" fill="#505050"/><rect x="-5.4" y="31.1" width="10.8" height="18.4" fill="#d3ecf3"/><path d="M2,25.3 H4.6 M1.4,35.2 H4.6 M2.6,38.5 H4.6 M1.4,41.8 H4.6 M2.6,45.1 H4.6" stroke="#555" stroke-width="0.9"/><path d="M-2.4,50 L2.4,50 L1.0,58.2 L-1.0,58.2 Z" fill="#3b9a7e"/><line x1="0" y1="58.2" x2="0" y2="78" stroke="#6e6e6e" stroke-width="0.9"/></g>
<g transform="translate(372.54,2077.7) scale(0.816)"><rect x="-6.5" y="0" width="13" height="1.8" fill="#d2d2d2" stroke="#a0a0a0" stroke-width="0.6"/><rect x="-2.8" y="1.8" width="5.6" height="14" fill="#dedede" stroke="#ababab" stroke-width="0.6"/><rect x="-9" y="15.6" width="18" height="2" fill="#d6d6d6" stroke="#a0a0a0" stroke-width="0.6"/><rect x="-6" y="17.6" width="12" height="32.4" fill="#f6f6f6" stroke="#8e8e8e" stroke-width="1.1"/><rect x="-2.6" y="17.6" width="5.2" height="10.5" fill="#d6d6d6"/><rect x="-5.4" y="28.1" width="10.8" height="3.0" fill="#505050"/><rect x="-5.4" y="31.1" width="10.8" height="18.4" fill="#d3ecf3"/><path d="M2,25.3 H4.6 M1.4,35.2 H4.6 M2.6,38.5 H4.6 M1.4,41.8 H4.6 M2.6,45.1 H4.6" stroke="#555" stroke-width="0.9"/><path d="M-2.4,50 L2.4,50 L1.0,58.2 L-1.0,58.2 Z" fill="#3b9a7e"/><line x1="0" y1="58.2" x2="0" y2="78" stroke="#6e6e6e" stroke-width="0.9"/></g>
<g transform="translate(394.77,2077.7) scale(0.816)"><rect x="-6.5" y="0" width="13" height="1.8" fill="#d2d2d2" stroke="#a0a0a0" stroke-width="0.6"/><rect x="-2.8" y="1.8" width="5.6" height="14" fill="#dedede" stroke="#ababab" stroke-width="0.6"/><rect x="-9" y="15.6" width="18" height="2" fill="#d6d6d6" stroke="#a0a0a0" stroke-width="0.6"/><rect x="-6" y="17.6" width="12" height="32.4" fill="#f6f6f6" stroke="#8e8e8e" stroke-width="1.1"/><rect x="-2.6" y="17.6" width="5.2" height="10.5" fill="#d6d6d6"/><rect x="-5.4" y="28.1" width="10.8" height="3.0" fill="#505050"/><rect x="-5.4" y="31.1" width="10.8" height="18.4" fill="#d3ecf3"/><path d="M2,25.3 H4.6 M1.4,35.2 H4.6 M2.6,38.5 H4.6 M1.4,41.8 H4.6 M2.6,45.1 H4.6" stroke="#555" stroke-width="0.9"/><path d="M-2.4,50 L2.4,50 L1.0,58.2 L-1.0,58.2 Z" fill="#3b9a7e"/><line x1="0" y1="58.2" x2="0" y2="78" stroke="#6e6e6e" stroke-width="0.9"/></g>
<g transform="translate(417.00,2077.7) scale(0.816)"><rect x="-6.5" y="0" width="13" height="1.8" fill="#d2d2d2" stroke="#a0a0a0" stroke-width="0.6"/><rect x="-2.8" y="1.8" width="5.6" height="14" fill="#dedede" stroke="#ababab" stroke-width="0.6"/><rect x="-9" y="15.6" width="18" height="2" fill="#d6d6d6" stroke="#a0a0a0" stroke-width="0.6"/><rect x="-6" y="17.6" width="12" height="32.4" fill="#f6f6f6" stroke="#8e8e8e" stroke-width="1.1"/><rect x="-2.6" y="17.6" width="5.2" height="10.5" fill="#d6d6d6"/><rect x="-5.4" y="28.1" width="10.8" height="3.0" fill="#505050"/><rect x="-5.4" y="31.1" width="10.8" height="18.4" fill="#d3ecf3"/><path d="M2,25.3 H4.6 M1.4,35.2 H4.6 M2.6,38.5 H4.6 M1.4,41.8 H4.6 M2.6,45.1 H4.6" stroke="#555" stroke-width="0.9"/><path d="M-2.4,50 L2.4,50 L1.0,58.2 L-1.0,58.2 Z" fill="#3b9a7e"/><line x1="0" y1="58.2" x2="0" y2="78" stroke="#6e6e6e" stroke-width="0.9"/></g>
<g transform="translate(439.23,2077.7) scale(0.816)"><rect x="-6.5" y="0" width="13" height="1.8" fill="#d2d2d2" stroke="#a0a0a0" stroke-width="0.6"/><rect x="-2.8" y="1.8" width="5.6" height="14" fill="#dedede" stroke="#ababab" stroke-width="0.6"/><rect x="-9" y="15.6" width="18" height="2" fill="#d6d6d6" stroke="#a0a0a0" stroke-width="0.6"/><rect x="-6" y="17.6" width="12" height="32.4" fill="#f6f6f6" stroke="#8e8e8e" stroke-width="1.1"/><rect x="-2.6" y="17.6" width="5.2" height="10.5" fill="#d6d6d6"/><rect x="-5.4" y="28.1" width="10.8" height="3.0" fill="#505050"/><rect x="-5.4" y="31.1" width="10.8" height="18.4" fill="#d3ecf3"/><path d="M2,25.3 H4.6 M1.4,35.2 H4.6 M2.6,38.5 H4.6 M1.4,41.8 H4.6 M2.6,45.1 H4.6" stroke="#555" stroke-width="0.9"/><path d="M-2.4,50 L2.4,50 L1.0,58.2 L-1.0,58.2 Z" fill="#3b9a7e"/><line x1="0" y1="58.2" x2="0" y2="78" stroke="#6e6e6e" stroke-width="0.9"/></g>
<g transform="translate(461.46,2077.7) scale(0.816)"><rect x="-6.5" y="0" width="13" height="1.8" fill="#d2d2d2" stroke="#a0a0a0" stroke-width="0.6"/><rect x="-2.8" y="1.8" width="5.6" height="14" fill="#dedede" stroke="#ababab" stroke-width="0.6"/><rect x="-9" y="15.6" width="18" height="2" fill="#d6d6d6" stroke="#a0a0a0" stroke-width="0.6"/><rect x="-6" y="17.6" width="12" height="32.4" fill="#f6f6f6" stroke="#8e8e8e" stroke-width="1.1"/><rect x="-2.6" y="17.6" width="5.2" height="10.5" fill="#d6d6d6"/><rect x="-5.4" y="28.1" width="10.8" height="3.0" fill="#505050"/><rect x="-5.4" y="31.1" width="10.8" height="18.4" fill="#d3ecf3"/><path d="M2,25.3 H4.6 M1.4,35.2 H4.6 M2.6,38.5 H4.6 M1.4,41.8 H4.6 M2.6,45.1 H4.6" stroke="#555" stroke-width="0.9"/><path d="M-2.4,50 L2.4,50 L1.0,58.2 L-1.0,58.2 Z" fill="#3b9a7e"/><line x1="0" y1="58.2" x2="0" y2="78" stroke="#6e6e6e" stroke-width="0.9"/></g>
<g transform="translate(483.69,2077.7) scale(0.816)"><rect x="-6.5" y="0" width="13" height="1.8" fill="#d2d2d2" stroke="#a0a0a0" stroke-width="0.6"/><rect x="-2.8" y="1.8" width="5.6" height="14" fill="#dedede" stroke="#ababab" stroke-width="0.6"/><rect x="-9" y="15.6" width="18" height="2" fill="#d6d6d6" stroke="#a0a0a0" stroke-width="0.6"/><rect x="-6" y="17.6" width="12" height="32.4" fill="#f6f6f6" stroke="#8e8e8e" stroke-width="1.1"/><rect x="-2.6" y="17.6" width="5.2" height="10.5" fill="#d6d6d6"/><rect x="-5.4" y="28.1" width="10.8" height="3.0" fill="#505050"/><rect x="-5.4" y="31.1" width="10.8" height="18.4" fill="#d3ecf3"/><path d="M2,25.3 H4.6 M1.4,35.2 H4.6 M2.6,38.5 H4.6 M1.4,41.8 H4.6 M2.6,45.1 H4.6" stroke="#555" stroke-width="0.9"/><path d="M-2.4,50 L2.4,50 L1.0,58.2 L-1.0,58.2 Z" fill="#3b9a7e"/><line x1="0" y1="58.2" x2="0" y2="78" stroke="#6e6e6e" stroke-width="0.9"/></g>
<g transform="translate(505.92,2077.7) scale(0.816)"><rect x="-6.5" y="0" width="13" height="1.8" fill="#d2d2d2" stroke="#a0a0a0" stroke-width="0.6"/><rect x="-2.8" y="1.8" width="5.6" height="14" fill="#dedede" stroke="#ababab" stroke-width="0.6"/><rect x="-9" y="15.6" width="18" height="2" fill="#d6d6d6" stroke="#a0a0a0" stroke-width="0.6"/><rect x="-6" y="17.6" width="12" height="32.4" fill="#f6f6f6" stroke="#8e8e8e" stroke-width="1.1"/><rect x="-2.6" y="17.6" width="5.2" height="10.5" fill="#d6d6d6"/><rect x="-5.4" y="28.1" width="10.8" height="3.0" fill="#505050"/><rect x="-5.4" y="31.1" width="10.8" height="18.4" fill="#d3ecf3"/><path d="M2,25.3 H4.6 M1.4,35.2 H4.6 M2.6,38.5 H4.6 M1.4,41.8 H4.6 M2.6,45.1 H4.6" stroke="#555" stroke-width="0.9"/><path d="M-2.4,50 L2.4,50 L1.0,58.2 L-1.0,58.2 Z" fill="#3b9a7e"/><line x1="0" y1="58.2" x2="0" y2="78" stroke="#6e6e6e" stroke-width="0.9"/></g>
<rect x="191.10" y="2156.40" width="334.70" height="10.90" fill="#000"/>
<rect x="191.10" y="2156.40" width="8.30" height="22.90" fill="#000"/>
<rect x="516.70" y="2156.40" width="9.10" height="25.40" fill="#000"/>
<text transform="translate(538.20,2175.00) scale(1.0722,1)" font-family='"Liberation Sans", Arial, Helvetica, sans-serif' font-size="25.00" font-weight="bold" font-style="normal" fill="#000" stroke="#000" stroke-width="0.35"><tspan font-size="25.00">Time (d)</tspan></text>
<text transform="translate(189.42,2204.70)" font-family='"Liberation Sans", Arial, Helvetica, sans-serif' font-size="25.00" font-weight="normal" font-style="normal" fill="#000" stroke="#000" stroke-width="0.35"><tspan font-size="25.00">0</tspan></text>
<text transform="translate(507.55,2204.70) scale(1.0220,1)" font-family='"Liberation Sans", Arial, Helvetica, sans-serif' font-size="25.00" font-weight="normal" font-style="normal" fill="#000" stroke="#000" stroke-width="0.35"><tspan font-size="25.00">15</tspan></text>
<g transform="translate(222.10,2221.4) rotate(25.8)"><rect x="-4.5" y="0" width="9" height="1.6" fill="#d6d6d6" stroke="#9c9c9c" stroke-width="0.5"/><rect x="-2" y="1.6" width="4" height="11" fill="#e4e4e4" stroke="#aaa" stroke-width="0.5"/><rect x="-6" y="12" width="12" height="2" fill="#d8d8d8" stroke="#9c9c9c" stroke-width="0.5"/><rect x="-4.3" y="14" width="8.6" height="24.5" fill="#ececec" stroke="#9c9c9c" stroke-width="0.7"/><rect x="-4.3" y="22.3" width="8.6" height="2.4" fill="#34503c"/><rect x="-4.6" y="24.7" width="9.2" height="13.8" fill="#2f9a40"/><path d="M-2.3,38.5 L2.3,38.5 L0.9,44 L-0.9,44 Z" fill="#3b9a7e"/><line x1="0" y1="44" x2="0" y2="52.6" stroke="#555" stroke-width="0.8"/></g>
<g transform="translate(243.85,2221.4) rotate(25.8)"><rect x="-4.5" y="0" width="9" height="1.6" fill="#d6d6d6" stroke="#9c9c9c" stroke-width="0.5"/><rect x="-2" y="1.6" width="4" height="11" fill="#e4e4e4" stroke="#aaa" stroke-width="0.5"/><rect x="-6" y="12" width="12" height="2" fill="#d8d8d8" stroke="#9c9c9c" stroke-width="0.5"/><rect x="-4.3" y="14" width="8.6" height="24.5" fill="#ececec" stroke="#9c9c9c" stroke-width="0.7"/><rect x="-4.3" y="22.3" width="8.6" height="2.4" fill="#34503c"/><rect x="-4.6" y="24.7" width="9.2" height="13.8" fill="#2f9a40"/><path d="M-2.3,38.5 L2.3,38.5 L0.9,44 L-0.9,44 Z" fill="#3b9a7e"/><line x1="0" y1="44" x2="0" y2="52.6" stroke="#555" stroke-width="0.8"/></g>
<g transform="translate(265.60,2221.4) rotate(25.8)"><rect x="-4.5" y="0" width="9" height="1.6" fill="#d6d6d6" stroke="#9c9c9c" stroke-width="0.5"/><rect x="-2" y="1.6" width="4" height="11" fill="#e4e4e4" stroke="#aaa" stroke-width="0.5"/><rect x="-6" y="12" width="12" height="2" fill="#d8d8d8" stroke="#9c9c9c" stroke-width="0.5"/><rect x="-4.3" y="14" width="8.6" height="24.5" fill="#ececec" stroke="#9c9c9c" stroke-width="0.7"/><rect x="-4.3" y="22.3" width="8.6" height="2.4" fill="#34503c"/><rect x="-4.6" y="24.7" width="9.2" height="13.8" fill="#2f9a40"/><path d="M-2.3,38.5 L2.3,38.5 L0.9,44 L-0.9,44 Z" fill="#3b9a7e"/><line x1="0" y1="44" x2="0" y2="52.6" stroke="#555" stroke-width="0.8"/></g>
<g transform="translate(287.35,2221.4) rotate(25.8)"><rect x="-4.5" y="0" width="9" height="1.6" fill="#d6d6d6" stroke="#9c9c9c" stroke-width="0.5"/><rect x="-2" y="1.6" width="4" height="11" fill="#e4e4e4" stroke="#aaa" stroke-width="0.5"/><rect x="-6" y="12" width="12" height="2" fill="#d8d8d8" stroke="#9c9c9c" stroke-width="0.5"/><rect x="-4.3" y="14" width="8.6" height="24.5" fill="#ececec" stroke="#9c9c9c" stroke-width="0.7"/><rect x="-4.3" y="22.3" width="8.6" height="2.4" fill="#34503c"/><rect x="-4.6" y="24.7" width="9.2" height="13.8" fill="#2f9a40"/><path d="M-2.3,38.5 L2.3,38.5 L0.9,44 L-0.9,44 Z" fill="#3b9a7e"/><line x1="0" y1="44" x2="0" y2="52.6" stroke="#555" stroke-width="0.8"/></g>
<g transform="translate(309.10,2221.4) rotate(25.8)"><rect x="-4.5" y="0" width="9" height="1.6" fill="#d6d6d6" stroke="#9c9c9c" stroke-width="0.5"/><rect x="-2" y="1.6" width="4" height="11" fill="#e4e4e4" stroke="#aaa" stroke-width="0.5"/><rect x="-6" y="12" width="12" height="2" fill="#d8d8d8" stroke="#9c9c9c" stroke-width="0.5"/><rect x="-4.3" y="14" width="8.6" height="24.5" fill="#ececec" stroke="#9c9c9c" stroke-width="0.7"/><rect x="-4.3" y="22.3" width="8.6" height="2.4" fill="#34503c"/><rect x="-4.6" y="24.7" width="9.2" height="13.8" fill="#2f9a40"/><path d="M-2.3,38.5 L2.3,38.5 L0.9,44 L-0.9,44 Z" fill="#3b9a7e"/><line x1="0" y1="44" x2="0" y2="52.6" stroke="#555" stroke-width="0.8"/></g>
<g transform="translate(330.85,2221.4) rotate(25.8)"><rect x="-4.5" y="0" width="9" height="1.6" fill="#d6d6d6" stroke="#9c9c9c" stroke-width="0.5"/><rect x="-2" y="1.6" width="4" height="11" fill="#e4e4e4" stroke="#aaa" stroke-width="0.5"/><rect x="-6" y="12" width="12" height="2" fill="#d8d8d8" stroke="#9c9c9c" stroke-width="0.5"/><rect x="-4.3" y="14" width="8.6" height="24.5" fill="#ececec" stroke="#9c9c9c" stroke-width="0.7"/><rect x="-4.3" y="22.3" width="8.6" height="2.4" fill="#34503c"/><rect x="-4.6" y="24.7" width="9.2" height="13.8" fill="#2f9a40"/><path d="M-2.3,38.5 L2.3,38.5 L0.9,44 L-0.9,44 Z" fill="#3b9a7e"/><line x1="0" y1="44" x2="0" y2="52.6" stroke="#555" stroke-width="0.8"/></g>
<g transform="translate(352.60,2221.4) rotate(25.8)"><rect x="-4.5" y="0" width="9" height="1.6" fill="#d6d6d6" stroke="#9c9c9c" stroke-width="0.5"/><rect x="-2" y="1.6" width="4" height="11" fill="#e4e4e4" stroke="#aaa" stroke-width="0.5"/><rect x="-6" y="12" width="12" height="2" fill="#d8d8d8" stroke="#9c9c9c" stroke-width="0.5"/><rect x="-4.3" y="14" width="8.6" height="24.5" fill="#ececec" stroke="#9c9c9c" stroke-width="0.7"/><rect x="-4.3" y="22.3" width="8.6" height="2.4" fill="#34503c"/><rect x="-4.6" y="24.7" width="9.2" height="13.8" fill="#2f9a40"/><path d="M-2.3,38.5 L2.3,38.5 L0.9,44 L-0.9,44 Z" fill="#3b9a7e"/><line x1="0" y1="44" x2="0" y2="52.6" stroke="#555" stroke-width="0.8"/></g>
<g transform="translate(374.35,2221.4) rotate(25.8)"><rect x="-4.5" y="0" width="9" height="1.6" fill="#d6d6d6" stroke="#9c9c9c" stroke-width="0.5"/><rect x="-2" y="1.6" width="4" height="11" fill="#e4e4e4" stroke="#aaa" stroke-width="0.5"/><rect x="-6" y="12" width="12" height="2" fill="#d8d8d8" stroke="#9c9c9c" stroke-width="0.5"/><rect x="-4.3" y="14" width="8.6" height="24.5" fill="#ececec" stroke="#9c9c9c" stroke-width="0.7"/><rect x="-4.3" y="22.3" width="8.6" height="2.4" fill="#34503c"/><rect x="-4.6" y="24.7" width="9.2" height="13.8" fill="#2f9a40"/><path d="M-2.3,38.5 L2.3,38.5 L0.9,44 L-0.9,44 Z" fill="#3b9a7e"/><line x1="0" y1="44" x2="0" y2="52.6" stroke="#555" stroke-width="0.8"/></g>
<g transform="translate(396.10,2221.4) rotate(25.8)"><rect x="-4.5" y="0" width="9" height="1.6" fill="#d6d6d6" stroke="#9c9c9c" stroke-width="0.5"/><rect x="-2" y="1.6" width="4" height="11" fill="#e4e4e4" stroke="#aaa" stroke-width="0.5"/><rect x="-6" y="12" width="12" height="2" fill="#d8d8d8" stroke="#9c9c9c" stroke-width="0.5"/><rect x="-4.3" y="14" width="8.6" height="24.5" fill="#ececec" stroke="#9c9c9c" stroke-width="0.7"/><rect x="-4.3" y="22.3" width="8.6" height="2.4" fill="#34503c"/><rect x="-4.6" y="24.7" width="9.2" height="13.8" fill="#2f9a40"/><path d="M-2.3,38.5 L2.3,38.5 L0.9,44 L-0.9,44 Z" fill="#3b9a7e"/><line x1="0" y1="44" x2="0" y2="52.6" stroke="#555" stroke-width="0.8"/></g>
<g transform="translate(417.85,2221.4) rotate(25.8)"><rect x="-4.5" y="0" width="9" height="1.6" fill="#d6d6d6" stroke="#9c9c9c" stroke-width="0.5"/><rect x="-2" y="1.6" width="4" height="11" fill="#e4e4e4" stroke="#aaa" stroke-width="0.5"/><rect x="-6" y="12" width="12" height="2" fill="#d8d8d8" stroke="#9c9c9c" stroke-width="0.5"/><rect x="-4.3" y="14" width="8.6" height="24.5" fill="#ececec" stroke="#9c9c9c" stroke-width="0.7"/><rect x="-4.3" y="22.3" width="8.6" height="2.4" fill="#34503c"/><rect x="-4.6" y="24.7" width="9.2" height="13.8" fill="#2f9a40"/><path d="M-2.3,38.5 L2.3,38.5 L0.9,44 L-0.9,44 Z" fill="#3b9a7e"/><line x1="0" y1="44" x2="0" y2="52.6" stroke="#555" stroke-width="0.8"/></g>
<g transform="translate(439.60,2221.4) rotate(25.8)"><rect x="-4.5" y="0" width="9" height="1.6" fill="#d6d6d6" stroke="#9c9c9c" stroke-width="0.5"/><rect x="-2" y="1.6" width="4" height="11" fill="#e4e4e4" stroke="#aaa" stroke-width="0.5"/><rect x="-6" y="12" width="12" height="2" fill="#d8d8d8" stroke="#9c9c9c" stroke-width="0.5"/><rect x="-4.3" y="14" width="8.6" height="24.5" fill="#ececec" stroke="#9c9c9c" stroke-width="0.7"/><rect x="-4.3" y="22.3" width="8.6" height="2.4" fill="#34503c"/><rect x="-4.6" y="24.7" width="9.2" height="13.8" fill="#2f9a40"/><path d="M-2.3,38.5 L2.3,38.5 L0.9,44 L-0.9,44 Z" fill="#3b9a7e"/><line x1="0" y1="44" x2="0" y2="52.6" stroke="#555" stroke-width="0.8"/></g>
<g transform="translate(461.35,2221.4) rotate(25.8)"><rect x="-4.5" y="0" width="9" height="1.6" fill="#d6d6d6" stroke="#9c9c9c" stroke-width="0.5"/><rect x="-2" y="1.6" width="4" height="11" fill="#e4e4e4" stroke="#aaa" stroke-width="0.5"/><rect x="-6" y="12" width="12" height="2" fill="#d8d8d8" stroke="#9c9c9c" stroke-width="0.5"/><rect x="-4.3" y="14" width="8.6" height="24.5" fill="#ececec" stroke="#9c9c9c" stroke-width="0.7"/><rect x="-4.3" y="22.3" width="8.6" height="2.4" fill="#34503c"/><rect x="-4.6" y="24.7" width="9.2" height="13.8" fill="#2f9a40"/><path d="M-2.3,38.5 L2.3,38.5 L0.9,44 L-0.9,44 Z" fill="#3b9a7e"/><line x1="0" y1="44" x2="0" y2="52.6" stroke="#555" stroke-width="0.8"/></g>
<g transform="translate(483.10,2221.4) rotate(25.8)"><rect x="-4.5" y="0" width="9" height="1.6" fill="#d6d6d6" stroke="#9c9c9c" stroke-width="0.5"/><rect x="-2" y="1.6" width="4" height="11" fill="#e4e4e4" stroke="#aaa" stroke-width="0.5"/><rect x="-6" y="12" width="12" height="2" fill="#d8d8d8" stroke="#9c9c9c" stroke-width="0.5"/><rect x="-4.3" y="14" width="8.6" height="24.5" fill="#ececec" stroke="#9c9c9c" stroke-width="0.7"/><rect x="-4.3" y="22.3" width="8.6" height="2.4" fill="#34503c"/><rect x="-4.6" y="24.7" width="9.2" height="13.8" fill="#2f9a40"/><path d="M-2.3,38.5 L2.3,38.5 L0.9,44 L-0.9,44 Z" fill="#3b9a7e"/><line x1="0" y1="44" x2="0" y2="52.6" stroke="#555" stroke-width="0.8"/></g>
<g transform="translate(504.85,2221.4) rotate(25.8)"><rect x="-4.5" y="0" width="9" height="1.6" fill="#d6d6d6" stroke="#9c9c9c" stroke-width="0.5"/><rect x="-2" y="1.6" width="4" height="11" fill="#e4e4e4" stroke="#aaa" stroke-width="0.5"/><rect x="-6" y="12" width="12" height="2" fill="#d8d8d8" stroke="#9c9c9c" stroke-width="0.5"/><rect x="-4.3" y="14" width="8.6" height="24.5" fill="#ececec" stroke="#9c9c9c" stroke-width="0.7"/><rect x="-4.3" y="22.3" width="8.6" height="2.4" fill="#34503c"/><rect x="-4.6" y="24.7" width="9.2" height="13.8" fill="#2f9a40"/><path d="M-2.3,38.5 L2.3,38.5 L0.9,44 L-0.9,44 Z" fill="#3b9a7e"/><line x1="0" y1="44" x2="0" y2="52.6" stroke="#555" stroke-width="0.8"/></g>
<g transform="translate(526.60,2221.4) rotate(25.8)"><rect x="-4.5" y="0" width="9" height="1.6" fill="#d6d6d6" stroke="#9c9c9c" stroke-width="0.5"/><rect x="-2" y="1.6" width="4" height="11" fill="#e4e4e4" stroke="#aaa" stroke-width="0.5"/><rect x="-6" y="12" width="12" height="2" fill="#d8d8d8" stroke="#9c9c9c" stroke-width="0.5"/><rect x="-4.3" y="14" width="8.6" height="24.5" fill="#ececec" stroke="#9c9c9c" stroke-width="0.7"/><rect x="-4.3" y="22.3" width="8.6" height="2.4" fill="#34503c"/><rect x="-4.6" y="24.7" width="9.2" height="13.8" fill="#2f9a40"/><path d="M-2.3,38.5 L2.3,38.5 L0.9,44 L-0.9,44 Z" fill="#3b9a7e"/><line x1="0" y1="44" x2="0" y2="52.6" stroke="#555" stroke-width="0.8"/></g>
<text transform="translate(195.11,2302.60) scale(1.0773,1)" font-family='"Liberation Sans", Arial, Helvetica, sans-serif' font-size="25.00" font-weight="normal" font-style="normal" fill="#000" stroke="#000" stroke-width="0.35"><tspan font-size="25.00">IL-6 200μg</tspan></text>
<text transform="translate(794.08,1967.00)" font-family='"Liberation Sans", Arial, Helvetica, sans-serif' font-size="26.00" font-weight="bold" font-style="normal" fill="#000" stroke="#000" stroke-width="0.35"><tspan font-size="26.00">h</tspan></text>
<rect x="832.85" y="1992.30" width="5.30" height="319.00" fill="#000"/>
<rect x="841.15" y="1992.30" width="5.30" height="319.00" fill="#000"/>
<rect x="848.85" y="1992.30" width="5.30" height="319.00" fill="#000"/>
<rect x="857.25" y="1992.30" width="5.30" height="319.00" fill="#000"/>
<path d="M869.50,1991.90 L869.75,1997.22 L870.00,2002.50 L870.25,2007.74 L870.50,2012.93 L870.75,2018.12 L871.00,2023.38 L871.25,2028.61 L871.50,2033.66 L871.75,2038.40 L872.00,2042.80 L872.25,2047.01 L872.50,2051.05 L872.75,2054.95 L873.00,2058.72 L873.25,2062.40 L873.50,2066.00 L873.75,2069.61 L874.00,2073.25 L874.25,2076.84 L874.50,2080.32 L874.75,2083.62 L875.00,2086.65 L875.25,2089.36 L875.50,2091.69 L875.75,2093.78 L876.00,2095.69 L876.25,2097.46 L876.50,2099.11 L876.75,2100.69 L877.00,2102.20 L877.25,2103.70 L877.50,2105.14 L877.75,2106.45 L878.00,2107.66 L878.25,2108.83 L878.50,2110.02 L878.75,2111.27 L879.00,2112.64 L879.25,2114.17 L879.50,2115.98 L879.75,2118.17 L880.00,2120.59 L880.25,2123.11 L880.50,2125.61 L880.75,2127.95 L881.00,2130.00 L881.25,2131.81 L881.50,2133.53 L881.75,2135.18 L882.00,2136.75 L882.25,2138.27 L882.50,2139.73 L882.75,2141.16 L883.00,2142.55 L883.25,2143.93 L883.50,2145.29 L883.75,2146.63 L884.00,2147.96 L884.25,2149.25 L884.50,2150.50 L884.75,2151.71 L885.00,2152.87 L885.25,2153.97 L885.50,2155.00 L885.75,2155.97 L886.00,2156.90 L886.25,2157.78 L886.50,2158.63 L886.75,2159.45 L887.00,2160.25 L887.25,2161.04 L887.50,2161.82 L887.75,2162.59 L888.00,2163.37 L888.25,2164.16 L888.50,2164.95 L888.75,2165.73 L889.00,2166.50 L889.25,2167.27 L889.50,2168.03 L889.75,2168.78 L890.00,2169.53 L890.25,2170.27 L890.50,2171.00 L890.75,2171.71 L891.00,2172.38 L891.25,2173.05 L891.50,2173.72 L891.75,2174.41 L892.00,2175.16 L892.25,2175.97 L892.50,2176.87 L892.75,2177.84 L893.00,2178.87 L893.25,2179.93 L893.50,2181.00 L893.75,2182.08 L894.00,2183.20 L894.25,2184.35 L894.50,2185.52" fill="none" stroke="#000" stroke-width="2.4" stroke-linejoin="round"/>
<path d="M893.20,2190.52 L893.80,2183.52 L894.30,2081.90 L895.30,2234.20 L895.80,2193.52 L896.40,2184.52 L897.00,2191.52 L897.40,2186.81 L898.20,2186.95 L899.00,2187.56 L899.80,2187.48 L900.60,2190.50 L901.40,2189.61 L902.20,2194.02 L903.00,2197.42 L903.80,2196.42 L904.60,2197.70 L905.40,2194.58 L906.20,2196.26 L907.00,2195.49 L907.80,2196.89 L908.60,2197.15 L909.40,2194.92 L910.20,2195.89 L911.00,2196.25 L911.80,2199.02 L912.60,2198.46 L913.40,2195.98 L914.20,2198.71 L915.00,2195.99 L915.80,2198.04 L916.60,2196.00 L917.40,2195.49 L918.20,2199.16 L919.00,2196.38 L919.80,2196.37 L920.60,2199.49 L921.40,2198.87 L922.20,2196.19 L923.00,2198.71 L923.80,2196.56 L924.60,2196.63 L925.40,2191.06 L926.20,2189.22 L927.00,2186.76 L927.80,2192.60 L928.60,2198.18 L929.40,2197.67 L930.20,2198.62 L931.00,2198.33 L931.80,2198.75 L932.60,2198.86 L933.40,2200.27 L934.20,2201.92 L935.00,2199.77 L935.80,2202.95 L936.60,2201.87 L937.40,2202.10 L938.20,2204.60 L939.00,2203.56 L939.80,2203.19 L940.60,2204.17 L941.40,2205.40 L940.40,2206.02 L941.00,2199.02 L941.50,2063.10 L942.50,2295.50 L943.00,2209.02 L943.60,2200.02 L944.20,2207.02 L944.60,2208.99 L945.40,2207.50 L946.20,2213.76 L947.00,2217.34 L947.80,2216.30 L948.60,2220.51 L949.40,2218.65 L950.20,2219.31 L951.00,2216.53 L951.80,2216.19 L952.60,2216.15 L953.40,2218.70 L954.20,2214.75 L955.00,2216.28 L955.80,2216.15 L956.60,2215.32 L957.40,2211.93 L958.20,2211.11 L959.00,2210.93 L959.80,2210.92 L960.60,2206.89 L961.40,2208.25 L962.20,2207.07 L963.00,2205.94 L963.80,2201.13 L964.60,2203.70 L965.40,2199.00 L966.20,2199.13 L967.00,2199.59 L967.80,2200.40 L968.60,2197.54 L969.40,2199.41 L970.20,2196.83 L971.00,2192.88 L971.80,2189.71 L972.60,2188.77 L973.40,2192.33 L974.20,2197.40 L975.00,2202.04 L975.80,2204.88 L976.60,2202.43 L977.40,2202.83 L978.20,2207.55 L979.00,2206.34 L979.80,2206.43 L980.60,2206.29 L981.40,2208.31 L982.20,2209.76 L983.00,2208.66 L983.80,2208.95 L984.60,2207.84 L985.40,2211.82 L986.20,2208.43 L987.00,2210.66 L986.50,2215.41 L987.10,2208.41 L987.60,2096.70 L988.60,2279.70 L989.10,2218.41 L989.70,2209.41 L990.30,2216.41 L990.70,2210.99 L991.50,2214.35 L992.30,2216.15 L993.10,2215.55 L993.90,2216.59 L994.70,2213.68 L995.50,2214.78 L996.30,2213.12 L997.10,2215.45 L997.90,2212.43 L998.70,2212.33 L999.50,2213.83 L1000.30,2212.43 L1001.10,2212.22 L1001.90,2209.38 L1002.70,2208.95 L1003.50,2209.41 L1004.30,2207.80 L1005.10,2206.46 L1005.90,2206.39 L1006.70,2204.77 L1007.50,2205.20 L1008.30,2207.23 L1009.10,2206.58 L1009.90,2204.64 L1010.70,2203.58 L1011.50,2202.37 L1012.30,2200.78 L1013.10,2201.02 L1013.90,2202.62 L1014.70,2202.53 L1015.50,2200.01 L1016.30,2201.32 L1017.10,2200.61 L1017.90,2198.65 L1018.70,2193.86 L1019.50,2190.23 L1020.30,2189.42 L1021.10,2195.52 L1021.90,2196.07 L1022.70,2196.46 L1023.50,2196.89 L1024.30,2195.93 L1025.10,2193.54 L1025.90,2195.51 L1026.70,2193.47 L1027.50,2192.40 L1028.30,2189.28 L1029.10,2190.90 L1029.90,2189.14 L1030.70,2190.57 L1031.50,2189.55 L1032.30,2191.10 L1033.10,2190.62 L1033.90,2191.64 L1033.40,2193.27 L1034.00,2186.27 L1034.50,2089.40 L1035.50,2249.00 L1036.00,2196.27 L1036.60,2187.27 L1037.20,2194.27 L1037.60,2194.87 L1038.40,2198.00 L1039.20,2200.61 L1040.00,2198.97 L1040.80,2201.04 L1041.60,2201.15 L1042.40,2200.39 L1043.20,2201.60 L1044.00,2201.52 L1044.80,2199.68 L1045.60,2199.72 L1046.40,2198.20 L1047.20,2201.01 L1048.00,2201.44 L1048.80,2199.50 L1049.60,2200.40 L1050.40,2200.52 L1051.20,2200.57 L1052.00,2198.22 L1052.80,2200.78 L1053.60,2199.95 L1054.40,2200.46 L1055.20,2199.78 L1056.00,2201.13 L1056.80,2202.36 L1057.60,2202.46 L1058.40,2203.52 L1059.20,2201.32 L1060.00,2202.54 L1060.80,2204.31 L1061.60,2205.67 L1062.40,2204.18 L1063.20,2206.28 L1064.00,2205.65 L1064.80,2202.01 L1065.60,2201.95 L1066.40,2196.59 L1067.20,2192.78 L1068.00,2195.83 L1068.80,2202.67 L1069.60,2205.49 L1070.40,2207.41 L1071.20,2207.55 L1072.00,2209.30 L1072.80,2208.78 L1073.60,2209.53 L1074.40,2209.16 L1075.20,2207.38 L1076.00,2209.88 L1076.80,2205.81 L1077.60,2207.29 L1078.40,2206.61 L1079.20,2207.12 L1080.00,2206.07 L1080.80,2209.52 L1081.60,2208.22 L1082.40,2207.54 L1081.10,2213.77 L1081.70,2206.77 L1082.20,2106.60 L1083.20,2260.90 L1083.70,2216.77 L1084.30,2207.77 L1084.90,2214.77 L1085.30,2210.56 L1086.10,2213.29 L1086.90,2213.32 L1087.70,2215.13 L1088.50,2217.22 L1089.30,2216.73 L1090.10,2214.92 L1090.90,2216.32 L1091.70,2215.22 L1092.50,2213.61 L1093.30,2212.10 L1094.10,2213.38 L1094.90,2212.58 L1095.70,2213.54 L1096.50,2212.87 L1097.30,2210.66 L1098.10,2208.89 L1098.90,2210.51 L1099.70,2206.17 L1100.50,2206.09 L1101.30,2207.56 L1102.10,2207.40 L1102.90,2205.08 L1103.70,2206.86 L1104.50,2207.70 L1105.30,2205.30 L1106.10,2205.30 L1106.90,2204.18 L1107.70,2204.17 L1108.50,2206.71 L1109.30,2203.84 L1110.10,2205.83 L1110.90,2205.10 L1111.70,2203.14 L1112.50,2200.99 L1113.30,2201.57 L1114.10,2195.45 L1114.90,2191.87 L1115.70,2191.72 L1116.50,2199.26 L1117.30,2202.80 L1118.10,2204.81 L1118.90,2207.24 L1119.70,2206.98 L1120.50,2209.88 L1121.30,2209.58 L1122.10,2209.27 L1122.90,2211.58 L1123.70,2211.97 L1124.50,2208.74 L1125.30,2211.12 L1126.10,2210.27 L1126.90,2213.34 L1127.70,2213.01 L1128.50,2211.08 L1129.30,2211.52 L1128.60,2214.43 L1129.20,2207.43 L1129.70,2104.20 L1130.70,2269.80 L1131.20,2217.43 L1131.80,2208.43 L1132.40,2215.43 L1132.80,2216.87 L1133.60,2215.13 L1134.40,2217.73 L1135.20,2218.31 L1136.00,2219.76 L1136.80,2219.72 L1137.60,2220.14 L1138.40,2217.17 L1139.20,2219.38 L1140.00,2216.84 L1140.80,2217.11 L1141.60,2215.50 L1142.40,2214.51 L1143.20,2214.64 L1144.00,2213.52 L1144.80,2212.27 L1145.60,2213.11 L1146.40,2211.78 L1147.20,2208.84 L1148.00,2209.18 L1148.80,2209.50 L1149.60,2210.91 L1150.40,2210.27 L1151.20,2208.30 L1152.00,2205.52 L1152.80,2208.12 L1153.60,2206.00 L1154.40,2205.90 L1155.20,2205.65 L1156.00,2204.42 L1156.80,2202.74 L1157.60,2203.16 L1158.40,2199.16 L1159.20,2196.79 L1160.00,2193.72 L1160.80,2186.23 L1161.60,2186.71 L1162.40,2193.89 L1163.20,2195.49 L1164.00,2199.74 L1164.80,2199.57 L1165.60,2198.78 L1166.40,2198.39 L1167.20,2200.63 L1168.00,2201.31 L1168.80,2198.19 L1169.60,2199.68 L1170.40,2200.04 L1171.20,2199.89 L1172.00,2199.29 L1172.80,2198.67 L1173.60,2200.64 L1174.40,2201.78 L1175.20,2198.89 L1174.40,2202.87 L1175.00,2195.87 L1175.50,2064.40 L1176.50,2288.00 L1177.00,2205.87 L1177.60,2196.87 L1178.20,2203.87 L1178.60,2205.94 L1179.40,2207.44 L1180.20,2208.46 L1181.00,2207.10 L1181.80,2210.96 L1182.60,2212.63 L1183.40,2213.28 L1184.20,2212.50 L1185.00,2210.08 L1185.80,2213.54 L1186.60,2210.74 L1187.40,2212.03 L1188.20,2212.57 L1189.00,2210.66 L1189.80,2207.24 L1190.60,2206.90 L1191.40,2208.59 L1192.20,2204.56 L1193.00,2205.93 L1193.80,2204.82 L1194.60,2203.63 L1195.40,2205.47 L1196.20,2202.96 L1197.00,2203.17 L1197.80,2204.26 L1198.60,2202.93 L1199.40,2202.83 L1200.20,2204.95 L1201.00,2205.59 L1201.80,2206.08 L1202.60,2202.84 L1203.40,2203.95 L1204.20,2203.23 L1205.00,2203.96 L1205.80,2202.78 L1206.60,2203.67 L1207.40,2198.06 L1208.20,2193.09 L1209.00,2196.82 L1209.80,2203.09 L1210.60,2209.65 L1211.40,2209.04 L1212.20,2210.55 L1213.00,2208.78 L1213.80,2208.72 L1214.60,2206.85 L1215.40,2207.67 L1216.20,2206.05 L1217.00,2207.80 L1217.80,2206.54 L1218.60,2204.74 L1219.40,2205.09 L1220.20,2205.73 L1221.00,2207.49 L1221.80,2205.48 L1221.80,2211.13 L1222.40,2204.13 L1222.90,2100.90 L1223.90,2266.50 L1224.40,2214.13 L1225.00,2205.13 L1225.60,2212.13 L1226.00,2210.37 L1226.80,2208.81 L1227.60,2212.00 L1228.40,2210.13 L1229.20,2210.52 L1230.00,2212.41 L1230.80,2210.65 L1231.60,2212.88 L1232.40,2210.64 L1233.20,2209.29 L1234.00,2210.50 L1234.80,2206.45 L1235.60,2208.52 L1236.40,2204.86 L1237.20,2204.45 L1238.00,2207.06 L1238.80,2205.25 L1239.60,2202.76 L1240.40,2201.75 L1241.20,2204.78 L1242.00,2202.92 L1242.80,2203.01 L1243.60,2199.60 L1244.40,2201.11 L1245.20,2199.47 L1246.00,2198.50 L1246.80,2198.48 L1247.60,2199.27 L1248.40,2197.81 L1249.20,2197.69 L1250.00,2196.44 L1250.80,2199.22 L1251.60,2198.34 L1252.40,2198.87 L1253.20,2197.11 L1254.00,2198.57 L1254.80,2195.34 L1255.60,2191.28 L1256.40,2188.71 L1257.20,2193.00 L1258.00,2198.34 L1258.80,2201.68 L1259.60,2204.59 L1260.40,2205.76 L1261.20,2204.45 L1262.00,2206.93 L1262.80,2203.81 L1263.60,2203.45 L1264.40,2198.76 L1265.20,2199.43 L1266.00,2200.25 L1266.80,2198.71 L1267.60,2197.95 L1268.40,2198.27 L1269.20,2197.00 L1270.00,2197.56 L1270.80,2197.96 L1269.90,2202.27 L1270.50,2195.27 L1271.00,2098.40 L1272.00,2255.60 L1272.50,2205.27 L1273.10,2196.27 L1273.70,2203.27 L1274.10,2201.44 L1274.90,2204.57 L1275.70,2202.64 L1276.50,2204.21 L1277.30,2205.41 L1278.10,2205.92 L1278.90,2207.28 L1279.70,2207.66 L1280.50,2209.00 L1281.30,2207.10 L1282.10,2210.68 L1282.90,2208.06 L1283.70,2210.05 L1284.50,2208.51 L1285.30,2207.91 L1286.10,2206.48 L1286.90,2207.87 L1287.70,2203.80 L1288.50,2205.55 L1289.30,2203.45 L1290.10,2204.62 L1290.90,2204.50 L1291.70,2201.88 L1292.50,2201.95 L1293.30,2201.27 L1294.10,2202.35 L1294.90,2202.04 L1295.70,2203.81 L1296.50,2206.66 L1297.30,2204.55 L1298.10,2204.75 L1298.90,2205.75 L1299.70,2205.20 L1300.50,2207.18 L1301.30,2205.95 L1302.10,2201.24 L1302.90,2196.70 L1303.70,2194.27 L1304.50,2198.73 L1305.30,2206.20 L1306.10,2209.88 L1306.90,2213.02 L1307.70,2208.39 L1308.50,2207.65 L1309.30,2209.43 L1310.10,2206.52 L1310.90,2203.65 L1311.70,2204.61 L1312.50,2205.62 L1313.30,2203.28 L1314.10,2202.70 L1314.90,2202.04 L1315.70,2202.58 L1316.50,2206.86 L1317.30,2206.04 L1318.10,2208.84 L1317.10,2209.02 L1317.70,2202.02 L1318.20,2105.90 L1319.20,2259.20 L1319.70,2212.02 L1320.30,2203.02 L1320.90,2210.02 L1321.30,2210.40 L1322.10,2211.06 L1322.90,2213.96 L1323.70,2213.87 L1324.50,2215.80 L1325.30,2217.22 L1326.10,2217.17 L1326.90,2215.91 L1327.70,2214.99 L1328.50,2217.56 L1329.30,2212.52 L1330.10,2212.00 L1330.90,2209.62 L1331.70,2208.37 L1332.50,2204.98 L1333.30,2204.88 L1334.10,2203.56 L1334.90,2205.44 L1335.70,2207.24 L1336.50,2206.21 L1337.30,2207.69 L1338.10,2205.42 L1338.90,2205.03 L1339.70,2207.63 L1340.50,2207.73 L1341.30,2208.32 L1342.10,2207.58 L1342.90,2208.57 L1343.70,2208.84 L1344.50,2209.37 L1345.30,2206.47 L1346.10,2206.60 L1346.90,2207.62 L1347.70,2204.41 L1348.50,2203.02 L1349.30,2200.36 L1350.10,2195.96 L1350.90,2200.28 L1351.70,2207.36 L1352.50,2209.92 L1353.30,2211.63 L1354.10,2212.34 L1354.90,2212.67 L1355.70,2211.18 L1356.50,2211.45 L1357.30,2210.68 L1358.10,2207.80 L1358.90,2205.56 L1359.70,2206.92 L1360.50,2203.12 L1361.30,2203.10 L1362.10,2203.32 L1362.90,2204.10 L1363.70,2203.73 L1364.50,2206.05 L1365.30,2206.55 L1364.20,2212.14 L1364.80,2205.14 L1365.30,2060.40 L1366.30,2286.30 L1366.80,2215.14 L1367.40,2206.14 L1368.00,2213.14 L1368.40,2210.22 L1369.20,2212.32 L1370.00,2211.97 L1370.80,2213.04 L1371.60,2212.84 L1372.40,2212.79 L1373.20,2214.79 L1374.00,2214.45 L1374.80,2215.92 L1375.60,2215.06 L1376.40,2214.86 L1377.20,2212.77 L1378.00,2214.61 L1378.80,2212.22 L1379.60,2210.45 L1380.40,2209.38 L1381.20,2208.95 L1382.00,2208.44 L1382.80,2209.26 L1383.60,2206.71 L1384.40,2204.92 L1385.20,2207.06 L1386.00,2205.48 L1386.80,2202.66 L1387.60,2202.31 L1388.40,2202.33 L1389.20,2203.05 L1390.00,2204.96 L1390.80,2205.15 L1391.60,2203.52 L1392.40,2201.63 L1393.20,2202.08 L1394.00,2201.17 L1394.80,2199.73 L1395.60,2194.38 L1396.40,2191.75 L1397.20,2196.45 L1398.00,2201.95 L1398.80,2201.73 L1399.60,2204.32 L1400.40,2202.59 L1401.20,2204.39 L1402.00,2202.63 L1402.80,2203.89 L1403.60,2202.38 L1404.40,2198.59 L1405.20,2198.47 L1406.00,2200.09 L1406.80,2197.39 L1407.60,2196.64 L1408.40,2196.24 L1409.20,2197.43 L1410.00,2198.47 L1410.80,2197.69 L1410.10,2203.56 L1410.70,2196.56 L1411.20,2080.50 L1412.20,2265.10 L1412.70,2206.56 L1413.30,2197.56 L1413.90,2204.56 L1414.30,2201.57 L1415.10,2200.26 L1415.90,2203.95 L1416.70,2202.90 L1417.50,2201.85 L1418.30,2206.07 L1419.10,2202.24 L1419.90,2204.48 L1420.70,2203.95 L1421.50,2205.42 L1422.30,2203.08 L1423.10,2201.99 L1423.90,2201.85 L1424.70,2201.10 L1425.50,2202.15 L1426.30,2200.81 L1427.10,2201.97 L1427.90,2199.35 L1428.70,2199.35 L1429.50,2198.48 L1430.30,2201.16 L1431.10,2200.22 L1431.90,2199.97 L1432.70,2198.78 L1433.50,2197.72 L1434.30,2196.54 L1435.10,2199.36 L1435.90,2197.87 L1436.70,2195.93 L1437.50,2196.43 L1438.30,2196.07 L1439.10,2198.58 L1439.90,2199.23 L1440.70,2196.11 L1441.50,2198.06 L1442.30,2194.26 L1443.10,2190.35 L1443.90,2189.95 L1444.70,2196.87 L1445.50,2202.15 L1446.30,2202.19 L1447.10,2201.14 L1447.90,2203.18 L1448.70,2203.35 L1449.50,2201.46 L1450.30,2202.08 L1451.10,2201.52 L1451.90,2200.03 L1452.70,2200.97 L1453.50,2201.04 L1454.30,2201.25 L1455.10,2202.09 L1455.90,2200.78 L1456.70,2203.77 L1457.50,2204.18 L1458.30,2205.88 L1457.20,2208.91 L1457.80,2201.91 L1458.30,2099.30 L1459.30,2258.60 L1459.80,2211.91 L1460.40,2202.91 L1461.00,2209.91 L1461.40,2208.33 L1462.20,2208.67 L1463.00,2210.65 L1463.80,2209.65 L1464.60,2211.39 L1465.40,2212.43 L1466.20,2212.34 L1467.00,2211.78 L1467.80,2211.21 L1468.60,2211.36 L1469.40,2212.37 L1470.20,2212.89 L1471.00,2212.97 L1471.80,2211.93 L1472.60,2209.23 L1473.40,2210.79 L1474.20,2206.96 L1475.00,2207.78 L1475.80,2204.14 L1476.60,2206.21 L1477.40,2205.27 L1478.20,2206.16 L1479.00,2205.88 L1479.80,2205.11 L1480.60,2205.94 L1481.40,2205.78 L1482.20,2205.53 L1483.00,2204.15 L1483.80,2205.73 L1484.60,2207.57 L1485.40,2205.00 L1486.20,2208.19 L1487.00,2206.31 L1487.80,2205.29 L1488.60,2202.97 L1489.40,2203.67 L1490.20,2199.92 L1491.00,2197.74 L1491.80,2199.40 L1492.60,2206.31 L1493.40,2208.76 L1494.20,2209.53 L1495.00,2208.44 L1495.80,2210.78 L1496.60,2210.07 L1497.40,2210.56 L1498.20,2208.91 L1499.00,2210.83 L1499.80,2207.76 L1500.60,2207.91 L1501.40,2207.54 L1502.20,2208.84 L1503.00,2209.86 L1503.80,2206.72 L1504.60,2208.71 L1505.40,2209.90 L1506.20,2208.72 L1505.10,2212.35 L1505.70,2205.35 L1506.20,2106.90 L1507.20,2261.10 L1507.70,2215.35 L1508.30,2206.35 L1508.90,2213.35 L1508.20,2230.00" fill="none" stroke="#000" stroke-width="3.2" stroke-linejoin="round"/>
<line x1="825.60" y1="2340.30" x2="893.80" y2="2340.30" stroke="#000" stroke-width="3.6" stroke-linecap="butt"/>
<text transform="translate(824.25,2370.00) scale(1.1158,1)" font-family='"Liberation Sans", Arial, Helvetica, sans-serif' font-size="24.00" font-weight="normal" font-style="normal" fill="#000" stroke="#000" stroke-width="0.35"><tspan font-size="24.00">200 ms</tspan></text>
<text transform="translate(664.75,2187.00) scale(1.1052,1)" font-family='"Liberation Sans", Arial, Helvetica, sans-serif' font-size="25.00" font-weight="normal" font-style="normal" fill="#000" stroke="#000" stroke-width="0.35"><tspan font-size="25.00">IL-1</tspan><tspan font-size="25.00" font-family='"Liberation Serif", "Times New Roman", serif'>β</tspan><tspan font-size="25.00"> + IL-6</tspan></text>
<text transform="translate(680.40,2224.60) scale(1.0974,1)" font-family='"Liberation Sans", Arial, Helvetica, sans-serif' font-size="25.00" font-weight="normal" font-style="normal" fill="#000" stroke="#000" stroke-width="0.35"><tspan font-size="25.00">(</tspan><tspan font-size="25.00" font-style="italic">Casp1</tspan><tspan font-size="17.50" font-style="italic" dy="-11.00">-/-</tspan><tspan font-size="25.00" dy="11.00">)</tspan></text>
<text transform="translate(1613.58,1973.20)" font-family='"Liberation Sans", Arial, Helvetica, sans-serif' font-size="26.00" font-weight="bold" font-style="normal" fill="#000" stroke="#000" stroke-width="0.35"><tspan font-size="26.00">i</tspan></text>
<line x1="1697.40" y1="1959.30" x2="1697.40" y2="2326.50" stroke="#000" stroke-width="3.5" stroke-linecap="butt"/>
<line x1="1690.60" y1="2324.80" x2="1697.40" y2="2324.80" stroke="#000" stroke-width="3.3" stroke-linecap="butt"/>
<text transform="translate(1670.14,2332.90) scale(0.9750,1)" font-family='"Liberation Sans", Arial, Helvetica, sans-serif' font-size="27.50" font-weight="normal" font-style="normal" fill="#000" stroke="#000" stroke-width="0.35"><tspan font-size="27.50">0</tspan></text>
<line x1="1690.60" y1="2258.50" x2="1697.40" y2="2258.50" stroke="#000" stroke-width="3.3" stroke-linecap="butt"/>
<text transform="translate(1655.22,2266.60) scale(0.9750,1)" font-family='"Liberation Sans", Arial, Helvetica, sans-serif' font-size="27.50" font-weight="normal" font-style="normal" fill="#000" stroke="#000" stroke-width="0.35"><tspan font-size="27.50">20</tspan></text>
<line x1="1690.60" y1="2192.20" x2="1697.40" y2="2192.20" stroke="#000" stroke-width="3.3" stroke-linecap="butt"/>
<text transform="translate(1655.22,2200.30) scale(0.9750,1)" font-family='"Liberation Sans", Arial, Helvetica, sans-serif' font-size="27.50" font-weight="normal" font-style="normal" fill="#000" stroke="#000" stroke-width="0.35"><tspan font-size="27.50">40</tspan></text>
<line x1="1690.60" y1="2125.90" x2="1697.40" y2="2125.90" stroke="#000" stroke-width="3.3" stroke-linecap="butt"/>
<text transform="translate(1655.22,2134.00) scale(0.9750,1)" font-family='"Liberation Sans", Arial, Helvetica, sans-serif' font-size="27.50" font-weight="normal" font-style="normal" fill="#000" stroke="#000" stroke-width="0.35"><tspan font-size="27.50">60</tspan></text>
<line x1="1690.60" y1="2059.60" x2="1697.40" y2="2059.60" stroke="#000" stroke-width="3.3" stroke-linecap="butt"/>
<text transform="translate(1655.22,2067.70) scale(0.9750,1)" font-family='"Liberation Sans", Arial, Helvetica, sans-serif' font-size="27.50" font-weight="normal" font-style="normal" fill="#000" stroke="#000" stroke-width="0.35"><tspan font-size="27.50">80</tspan></text>
<line x1="1690.60" y1="1993.30" x2="1697.40" y2="1993.30" stroke="#000" stroke-width="3.3" stroke-linecap="butt"/>
<text transform="translate(1640.31,2001.40) scale(0.9750,1)" font-family='"Liberation Sans", Arial, Helvetica, sans-serif' font-size="27.50" font-weight="normal" font-style="normal" fill="#000" stroke="#000" stroke-width="0.35"><tspan font-size="27.50">100</tspan></text>
<line x1="1692.90" y1="2291.65" x2="1697.40" y2="2291.65" stroke="#000" stroke-width="3" stroke-linecap="butt"/>
<line x1="1692.90" y1="2225.35" x2="1697.40" y2="2225.35" stroke="#000" stroke-width="3" stroke-linecap="butt"/>
<line x1="1692.90" y1="2159.05" x2="1697.40" y2="2159.05" stroke="#000" stroke-width="3" stroke-linecap="butt"/>
<line x1="1692.90" y1="2092.75" x2="1697.40" y2="2092.75" stroke="#000" stroke-width="3" stroke-linecap="butt"/>
<line x1="1692.90" y1="2026.45" x2="1697.40" y2="2026.45" stroke="#000" stroke-width="3" stroke-linecap="butt"/>
<line x1="1692.90" y1="1960.15" x2="1697.40" y2="1960.15" stroke="#000" stroke-width="3" stroke-linecap="butt"/>
<text transform="translate(1627.50,2276.45) rotate(-90)" font-family='"Liberation Sans", Arial, Helvetica, sans-serif' font-size="26.60" font-weight="normal" font-style="normal" fill="#000" stroke="#000" stroke-width="0.35"><tspan font-size="26.60">Atrial fibrillation (%)</tspan></text>
<rect x="1705.80" y="1992.60" width="76.70" height="333.10" fill="#7c7c7c"/>
<rect x="1705.80" y="2266.70" width="76.70" height="59.00" fill="#000"/>
<rect x="1707.80" y="1994.60" width="72.70" height="329.10" fill="none" stroke="#000" stroke-width="4"/>
<rect x="1797.70" y="1992.60" width="77.40" height="333.10" fill="#7c7c7c"/>
<rect x="1797.70" y="2074.80" width="77.40" height="250.90" fill="#000"/>
<rect x="1799.70" y="1994.60" width="73.40" height="329.10" fill="none" stroke="#000" stroke-width="4"/>
<rect x="1891.20" y="1992.60" width="76.50" height="333.10" fill="#7c7c7c"/>
<rect x="1893.20" y="1994.60" width="72.50" height="329.10" fill="none" stroke="#000" stroke-width="4"/>
<rect x="1983.80" y="1992.60" width="76.80" height="333.10" fill="#7c7c7c"/>
<rect x="1983.80" y="2250.60" width="76.80" height="75.10" fill="#000"/>
<rect x="1985.80" y="1994.60" width="72.80" height="329.10" fill="none" stroke="#000" stroke-width="4"/>
<rect x="2076.70" y="1992.60" width="76.80" height="333.10" fill="#7c7c7c"/>
<rect x="2078.70" y="1994.60" width="72.80" height="329.10" fill="none" stroke="#000" stroke-width="4"/>
<text transform="translate(1714.14,2319.30) scale(1.0419,1)" font-family='"Liberation Sans", Arial, Helvetica, sans-serif' font-size="26.00" font-weight="normal" font-style="normal" fill="#fff" stroke="#fff" stroke-width="0.35"><tspan font-size="26.00">2/12</tspan></text>
<text transform="translate(1807.16,2319.30) scale(1.0192,1)" font-family='"Liberation Sans", Arial, Helvetica, sans-serif' font-size="26.00" font-weight="normal" font-style="normal" fill="#fff" stroke="#fff" stroke-width="0.35"><tspan font-size="26.00">9/12</tspan></text>
<text transform="translate(1912.80,2319.30) scale(0.9864,1)" font-family='"Liberation Sans", Arial, Helvetica, sans-serif' font-size="26.00" font-weight="normal" font-style="normal" fill="#fff" stroke="#fff" stroke-width="0.35"><tspan font-size="26.00">0/4</tspan></text>
<text transform="translate(1999.48,2319.30) scale(1.0862,1)" font-family='"Liberation Sans", Arial, Helvetica, sans-serif' font-size="26.00" font-weight="normal" font-style="normal" fill="#fff" stroke="#fff" stroke-width="0.35"><tspan font-size="26.00">2/9</tspan></text>
<text transform="translate(2086.99,2319.30) scale(0.9965,1)" font-family='"Liberation Sans", Arial, Helvetica, sans-serif' font-size="26.00" font-weight="normal" font-style="normal" fill="#fff" stroke="#fff" stroke-width="0.35"><tspan font-size="26.00">0/10</tspan></text>
<text transform="translate(1715.45,2346.40) scale(0.9964,1)" font-family='"Liberation Sans", Arial, Helvetica, sans-serif' font-size="25.00" font-weight="normal" font-style="normal" fill="#000" stroke="#000" stroke-width="0.35"><tspan font-size="25.00">n=12</tspan></text>
<text transform="translate(1807.93,2346.40) scale(1.0039,1)" font-family='"Liberation Sans", Arial, Helvetica, sans-serif' font-size="25.00" font-weight="normal" font-style="normal" fill="#000" stroke="#000" stroke-width="0.35"><tspan font-size="25.00">n=12</tspan></text>
<text transform="translate(1909.02,2346.40) scale(0.9522,1)" font-family='"Liberation Sans", Arial, Helvetica, sans-serif' font-size="25.00" font-weight="normal" font-style="normal" fill="#000" stroke="#000" stroke-width="0.35"><tspan font-size="25.00">n=4</tspan></text>
<text transform="translate(2000.85,2346.40) scale(0.9959,1)" font-family='"Liberation Sans", Arial, Helvetica, sans-serif' font-size="25.00" font-weight="normal" font-style="normal" fill="#000" stroke="#000" stroke-width="0.35"><tspan font-size="25.00">n=9</tspan></text>
<text transform="translate(2086.35,2346.40) scale(0.9912,1)" font-family='"Liberation Sans", Arial, Helvetica, sans-serif' font-size="25.00" font-weight="normal" font-style="normal" fill="#000" stroke="#000" stroke-width="0.35"><tspan font-size="25.00">n=10</tspan></text>
<text transform="translate(1706.29,2371.50) scale(0.9740,1)" font-family='"Liberation Sans", Arial, Helvetica, sans-serif' font-size="25.00" font-weight="normal" font-style="normal" fill="#000" stroke="#000" stroke-width="0.35"><tspan font-size="25.00">Saline</tspan></text>
<text transform="translate(1806.08,2371.50) scale(1.0071,1)" font-family='"Liberation Sans", Arial, Helvetica, sans-serif' font-size="25.00" font-weight="normal" font-style="normal" fill="#000" stroke="#000" stroke-width="0.35"><tspan font-size="25.00">IL-1</tspan><tspan font-size="25.00" font-family='"Liberation Serif", "Times New Roman", serif'>β</tspan></text>
<text transform="translate(1893.39,2371.50) scale(0.9740,1)" font-family='"Liberation Sans", Arial, Helvetica, sans-serif' font-size="25.00" font-weight="normal" font-style="normal" fill="#000" stroke="#000" stroke-width="0.35"><tspan font-size="25.00">Saline</tspan></text>
<text transform="translate(1993.80,2371.50) scale(0.9956,1)" font-family='"Liberation Sans", Arial, Helvetica, sans-serif' font-size="25.00" font-weight="normal" font-style="normal" fill="#000" stroke="#000" stroke-width="0.35"><tspan font-size="25.00">IL-1</tspan><tspan font-size="25.00" font-family='"Liberation Serif", "Times New Roman", serif'>β</tspan></text>
<text transform="translate(2056.69,2371.50)" font-family='"Liberation Sans", Arial, Helvetica, sans-serif' font-size="25.00" font-weight="normal" font-style="normal" fill="#000" stroke="#000" stroke-width="0.35"><tspan font-size="25.00">IL-1</tspan><tspan font-size="25.00" font-family='"Liberation Serif", "Times New Roman", serif'>β</tspan><tspan font-size="25.00">+IL-6</tspan></text>
<line x1="1708.40" y1="2381.90" x2="1871.90" y2="2381.90" stroke="#000" stroke-width="3.6" stroke-linecap="butt"/>
<line x1="1894.50" y1="2381.90" x2="2152.50" y2="2381.90" stroke="#000" stroke-width="3.6" stroke-linecap="butt"/>
<text transform="translate(1770.20,2408.60) scale(0.9454,1)" font-family='"Liberation Sans", Arial, Helvetica, sans-serif' font-size="25.00" font-weight="normal" font-style="normal" fill="#000" stroke="#000" stroke-width="0.35"><tspan font-size="25.00">WT</tspan></text>
<text transform="translate(1990.95,2408.60) scale(0.9866,1)" font-family='"Liberation Sans", Arial, Helvetica, sans-serif' font-size="25.00" font-weight="normal" font-style="normal" fill="#000" stroke="#000" stroke-width="0.35"><tspan font-size="25.00">Casp1</tspan><tspan font-size="15.50" dy="-10.00">-/-</tspan></text>
<path d="M1737.40,1980.30 L1737.40,1975.20 L1839.60,1975.20 L1839.60,1980.30" fill="none" stroke="#000" stroke-width="3.3" />
<path d="M1926.10,1980.30 L1926.10,1975.20 L2018.60,1975.20 L2018.60,1980.30" fill="none" stroke="#000" stroke-width="3.3" />
<path d="M2027.70,1980.30 L2027.70,1975.20 L2121.20,1975.20 L2121.20,1980.30" fill="none" stroke="#000" stroke-width="3.3" />
<text transform="translate(1744.00,1964.40) scale(0.9704,1)" font-family='"Liberation Sans", Arial, Helvetica, sans-serif' font-size="24.00" font-weight="normal" font-style="normal" fill="#000" stroke="#000" stroke-width="0.35"><tspan font-size="24.00">p = 0.012</tspan></text>
<text transform="translate(1933.30,1964.40) scale(0.9702,1)" font-family='"Liberation Sans", Arial, Helvetica, sans-serif' font-size="24.00" font-weight="normal" font-style="normal" fill="#000" stroke="#000" stroke-width="0.35"><tspan font-size="24.00">p &gt; 0.99</tspan></text>
<text transform="translate(2033.30,1964.40) scale(0.9706,1)" font-family='"Liberation Sans", Arial, Helvetica, sans-serif' font-size="24.00" font-weight="normal" font-style="normal" fill="#000" stroke="#000" stroke-width="0.35"><tspan font-size="24.00">p = 0.21</tspan></text>
</svg></body></html>
